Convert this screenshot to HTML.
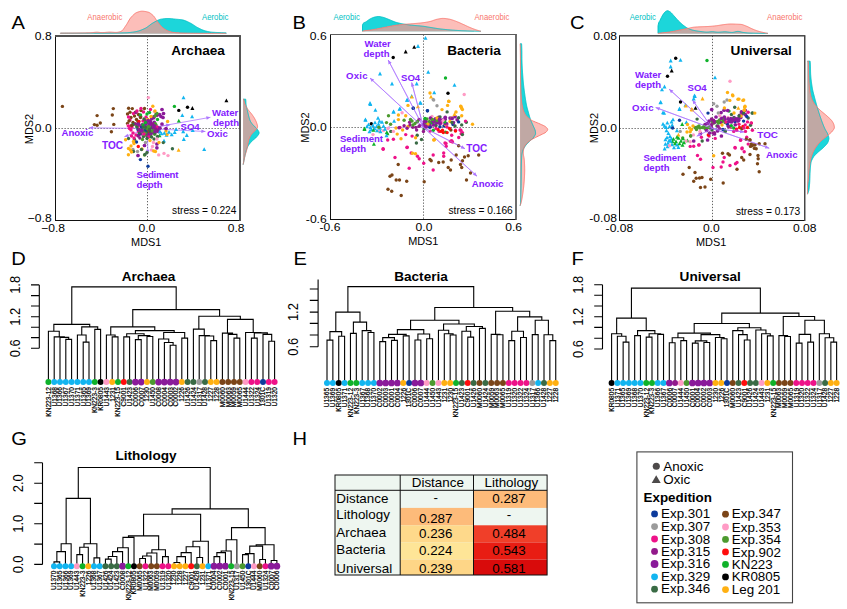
<!DOCTYPE html>
<html><head><meta charset="utf-8"><title>Figure</title>
<style>html,body{margin:0;padding:0;background:#fff;}svg{display:block;}</style>
</head><body>
<svg width="847" height="609" viewBox="0 0 847 609" font-family='"Liberation Sans", sans-serif'>
<rect width="847" height="609" fill="#fff"/>
<text transform="translate(11.5 29.3) scale(1.1 1)" font-size="18.3">A</text>
<line x1="147.5" y1="36" x2="147.5" y2="220.5" stroke="#222" stroke-width="0.7" stroke-dasharray="1.3 1.7"/>
<line x1="55.5" y1="128.5" x2="240" y2="128.5" stroke="#222" stroke-width="0.7" stroke-dasharray="1.3 1.7"/>
<path d="M60.4 33.4 L60.4 33.2 L61.07 33.2 L61.74 33.2 L62.41 33.2 L63.07 33.2 L63.74 33.2 L64.41 33.2 L65.08 33.2 L65.75 33.2 L66.42 33.2 L67.09 33.2 L67.75 33.2 L68.42 33.19 L69.09 33.19 L69.76 33.19 L70.43 33.19 L71.1 33.19 L71.77 33.19 L72.43 33.19 L73.1 33.19 L73.77 33.19 L74.44 33.18 L75.11 33.18 L75.78 33.18 L76.45 33.18 L77.11 33.18 L77.78 33.18 L78.45 33.18 L79.12 33.17 L79.79 33.17 L80.46 33.17 L81.12 33.17 L81.79 33.17 L82.46 33.16 L83.13 33.16 L83.8 33.16 L84.47 33.16 L85.14 33.16 L85.8 33.15 L86.47 33.15 L87.14 33.15 L87.81 33.15 L88.48 33.15 L89.15 33.14 L89.82 33.14 L90.48 33.14 L91.15 33.14 L91.82 33.13 L92.49 33.13 L93.16 33.13 L93.83 33.13 L94.5 33.12 L95.16 33.12 L95.83 33.12 L96.5 33.11 L97.17 33.11 L97.84 33.11 L98.51 33.11 L99.18 33.1 L99.84 33.1 L100.51 33.1 L101.18 33.09 L101.85 33.09 L102.52 33.09 L103.19 33.08 L103.86 33.08 L104.52 33.08 L105.19 33.07 L105.86 33.07 L106.53 33.06 L107.2 33.06 L107.87 33.05 L108.54 33.05 L109.2 33.04 L109.87 33.04 L110.54 33.03 L111.21 33.03 L111.88 33.02 L112.55 33.01 L113.22 33 L113.88 33 L114.55 32.99 L115.22 32.98 L115.89 32.97 L116.56 32.96 L117.23 32.95 L117.9 32.94 L118.56 32.93 L119.23 32.92 L119.9 32.91 L120.57 32.89 L121.24 32.88 L121.91 32.87 L122.57 32.85 L123.24 32.84 L123.91 32.83 L124.58 32.81 L125.25 32.79 L125.92 32.77 L126.59 32.74 L127.25 32.7 L127.92 32.65 L128.59 32.6 L129.26 32.54 L129.93 32.47 L130.6 32.4 L131.27 32.32 L131.93 32.24 L132.6 32.15 L133.27 32.06 L133.94 31.96 L134.61 31.86 L135.28 31.76 L135.95 31.63 L136.61 31.49 L137.28 31.32 L137.95 31.14 L138.62 30.94 L139.29 30.73 L139.96 30.5 L140.63 30.25 L141.29 30 L141.96 29.73 L142.63 29.45 L143.3 29.16 L143.97 28.87 L144.64 28.57 L145.31 28.25 L145.97 27.89 L146.64 27.47 L147.31 27.01 L147.98 26.52 L148.65 26.01 L149.32 25.5 L149.99 24.98 L150.65 24.47 L151.32 23.98 L151.99 23.52 L152.66 23.1 L153.33 22.72 L154 22.34 L154.67 21.95 L155.33 21.57 L156 21.19 L156.67 20.83 L157.34 20.49 L158.01 20.17 L158.68 19.88 L159.35 19.63 L160.01 19.42 L160.68 19.26 L161.35 19.14 L162.02 19.04 L162.69 18.94 L163.36 18.85 L164.02 18.76 L164.69 18.69 L165.36 18.62 L166.03 18.57 L166.7 18.53 L167.37 18.51 L168.04 18.5 L168.7 18.51 L169.37 18.54 L170.04 18.58 L170.71 18.63 L171.38 18.69 L172.05 18.76 L172.72 18.84 L173.38 18.91 L174.05 18.99 L174.72 19.07 L175.39 19.14 L176.06 19.21 L176.73 19.26 L177.4 19.32 L178.06 19.38 L178.73 19.43 L179.4 19.49 L180.07 19.56 L180.74 19.63 L181.41 19.71 L182.08 19.81 L182.74 19.94 L183.41 20.11 L184.08 20.31 L184.75 20.54 L185.42 20.79 L186.09 21.07 L186.76 21.36 L187.42 21.67 L188.09 21.98 L188.76 22.31 L189.43 22.63 L190.1 22.95 L190.77 23.29 L191.44 23.67 L192.1 24.08 L192.77 24.5 L193.44 24.95 L194.11 25.4 L194.78 25.85 L195.45 26.29 L196.12 26.72 L196.78 27.13 L197.45 27.51 L198.12 27.86 L198.79 28.2 L199.46 28.53 L200.13 28.86 L200.8 29.18 L201.46 29.48 L202.13 29.78 L202.8 30.05 L203.47 30.31 L204.14 30.54 L204.81 30.75 L205.47 30.93 L206.14 31.11 L206.81 31.28 L207.48 31.44 L208.15 31.59 L208.82 31.73 L209.49 31.86 L210.15 31.98 L210.82 32.07 L211.49 32.15 L212.16 32.21 L212.83 32.26 L213.5 32.31 L214.17 32.34 L214.83 32.38 L215.5 32.41 L216.17 32.44 L216.84 32.47 L217.51 32.49 L218.18 32.52 L218.85 32.55 L219.51 32.58 L220.18 32.61 L220.85 32.64 L221.52 32.67 L222.19 32.7 L222.86 32.73 L223.53 32.76 L224.19 32.79 L224.86 32.83 L225.53 32.87 L226.2 32.92 L226.2 33.4 Z" fill="#1cd6da"/>
<path d="M60.4 33.4 L60.4 33.1 L61.07 33.1 L61.74 33.1 L62.41 33.1 L63.07 33.1 L63.74 33.1 L64.41 33.09 L65.08 33.09 L65.75 33.09 L66.42 33.09 L67.09 33.09 L67.75 33.08 L68.42 33.08 L69.09 33.08 L69.76 33.07 L70.43 33.07 L71.1 33.06 L71.77 33.06 L72.43 33.05 L73.1 33.05 L73.77 33.04 L74.44 33.04 L75.11 33.03 L75.78 33.02 L76.45 33.02 L77.11 33.01 L77.78 33 L78.45 32.99 L79.12 32.98 L79.79 32.98 L80.46 32.97 L81.12 32.96 L81.79 32.95 L82.46 32.94 L83.13 32.93 L83.8 32.92 L84.47 32.91 L85.14 32.89 L85.8 32.88 L86.47 32.87 L87.14 32.86 L87.81 32.84 L88.48 32.83 L89.15 32.82 L89.82 32.8 L90.48 32.78 L91.15 32.74 L91.82 32.68 L92.49 32.6 L93.16 32.52 L93.83 32.44 L94.5 32.36 L95.16 32.29 L95.83 32.24 L96.5 32.21 L97.17 32.2 L97.84 32.23 L98.51 32.29 L99.18 32.36 L99.84 32.44 L100.51 32.51 L101.18 32.57 L101.85 32.6 L102.52 32.59 L103.19 32.57 L103.86 32.53 L104.52 32.48 L105.19 32.42 L105.86 32.36 L106.53 32.3 L107.2 32.24 L107.87 32.19 L108.54 32.14 L109.2 32.11 L109.87 32.1 L110.54 32.11 L111.21 32.13 L111.88 32.17 L112.55 32.22 L113.22 32.27 L113.88 32.31 L114.55 32.36 L115.22 32.39 L115.89 32.4 L116.56 32.38 L117.23 32.33 L117.9 32.23 L118.56 32.1 L119.23 31.94 L119.9 31.75 L120.57 31.54 L121.24 31.3 L121.91 30.86 L122.57 30.2 L123.24 29.39 L123.91 28.46 L124.58 27.48 L125.25 26.48 L125.92 25.51 L126.59 24.54 L127.25 23.44 L127.92 22.26 L128.59 21.07 L129.26 19.91 L129.93 18.83 L130.6 17.88 L131.27 17.11 L131.93 16.38 L132.6 15.68 L133.27 15.02 L133.94 14.4 L134.61 13.83 L135.28 13.33 L135.95 12.9 L136.61 12.56 L137.28 12.3 L137.95 12.06 L138.62 11.83 L139.29 11.63 L139.96 11.46 L140.63 11.32 L141.29 11.23 L141.96 11.2 L142.63 11.21 L143.3 11.25 L143.97 11.32 L144.64 11.41 L145.31 11.51 L145.97 11.64 L146.64 11.78 L147.31 11.93 L147.98 12.09 L148.65 12.31 L149.32 12.62 L149.99 13 L150.65 13.45 L151.32 13.96 L151.99 14.51 L152.66 15.1 L153.33 15.72 L154 16.5 L154.67 17.42 L155.33 18.43 L156 19.48 L156.67 20.53 L157.34 21.52 L158.01 22.41 L158.68 23.24 L159.35 24.06 L160.01 24.87 L160.68 25.64 L161.35 26.37 L162.02 27.05 L162.69 27.65 L163.36 28.17 L164.02 28.67 L164.69 29.13 L165.36 29.57 L166.03 29.97 L166.7 30.32 L167.37 30.64 L168.04 30.91 L168.7 31.16 L169.37 31.39 L170.04 31.62 L170.71 31.82 L171.38 32.01 L172.05 32.18 L172.72 32.32 L173.38 32.43 L174.05 32.51 L174.72 32.57 L175.39 32.63 L176.06 32.68 L176.73 32.73 L177.4 32.78 L178.06 32.82 L178.73 32.86 L179.4 32.9 L180.07 32.93 L180.74 32.96 L181.41 32.99 L182.08 33.02 L182.74 33.04 L183.41 33.06 L184.08 33.08 L184.75 33.09 L185.42 33.11 L186.09 33.12 L186.76 33.14 L187.42 33.15 L188.09 33.16 L188.76 33.17 L189.43 33.18 L190.1 33.2 L190.77 33.21 L191.44 33.22 L192.1 33.22 L192.77 33.23 L193.44 33.24 L194.11 33.25 L194.78 33.26 L195.45 33.26 L196.12 33.27 L196.78 33.28 L197.45 33.28 L198.12 33.29 L198.79 33.29 L199.46 33.3 L200.13 33.3 L200.8 33.3 L201.46 33.31 L202.13 33.31 L202.8 33.32 L203.47 33.32 L204.14 33.33 L204.81 33.33 L205.47 33.33 L206.14 33.34 L206.81 33.34 L207.48 33.34 L208.15 33.35 L208.82 33.35 L209.49 33.35 L210.15 33.36 L210.82 33.36 L211.49 33.36 L212.16 33.37 L212.83 33.37 L213.5 33.37 L214.17 33.38 L214.83 33.38 L215.5 33.38 L216.17 33.38 L216.84 33.38 L217.51 33.39 L218.18 33.39 L218.85 33.39 L219.51 33.39 L220.18 33.39 L220.85 33.39 L221.52 33.4 L222.19 33.4 L222.86 33.4 L223.53 33.4 L224.19 33.4 L224.86 33.4 L225.53 33.4 L226.2 33.4 L226.2 33.4 Z" fill="#fcbeb9"/>
<path d="M60.4 33.4 L60.4 33.2 L61.07 33.2 L61.74 33.2 L62.41 33.2 L63.07 33.2 L63.74 33.2 L64.41 33.2 L65.08 33.2 L65.75 33.2 L66.42 33.2 L67.09 33.2 L67.75 33.2 L68.42 33.19 L69.09 33.19 L69.76 33.19 L70.43 33.19 L71.1 33.19 L71.77 33.19 L72.43 33.19 L73.1 33.19 L73.77 33.19 L74.44 33.18 L75.11 33.18 L75.78 33.18 L76.45 33.18 L77.11 33.18 L77.78 33.18 L78.45 33.18 L79.12 33.17 L79.79 33.17 L80.46 33.17 L81.12 33.17 L81.79 33.17 L82.46 33.16 L83.13 33.16 L83.8 33.16 L84.47 33.16 L85.14 33.16 L85.8 33.15 L86.47 33.15 L87.14 33.15 L87.81 33.15 L88.48 33.15 L89.15 33.14 L89.82 33.14 L90.48 33.14 L91.15 33.14 L91.82 33.13 L92.49 33.13 L93.16 33.13 L93.83 33.13 L94.5 33.12 L95.16 33.12 L95.83 33.12 L96.5 33.11 L97.17 33.11 L97.84 33.11 L98.51 33.11 L99.18 33.1 L99.84 33.1 L100.51 33.1 L101.18 33.09 L101.85 33.09 L102.52 33.09 L103.19 33.08 L103.86 33.08 L104.52 33.08 L105.19 33.07 L105.86 33.07 L106.53 33.06 L107.2 33.06 L107.87 33.05 L108.54 33.05 L109.2 33.04 L109.87 33.04 L110.54 33.03 L111.21 33.03 L111.88 33.02 L112.55 33.01 L113.22 33 L113.88 33 L114.55 32.99 L115.22 32.98 L115.89 32.97 L116.56 32.96 L117.23 32.95 L117.9 32.94 L118.56 32.93 L119.23 32.92 L119.9 32.91 L120.57 32.89 L121.24 32.88 L121.91 32.87 L122.57 32.85 L123.24 32.84 L123.91 32.83 L124.58 32.81 L125.25 32.79 L125.92 32.77 L126.59 32.74 L127.25 32.7 L127.92 32.65 L128.59 32.6 L129.26 32.54 L129.93 32.47 L130.6 32.4 L131.27 32.32 L131.93 32.24 L132.6 32.15 L133.27 32.06 L133.94 31.96 L134.61 31.86 L135.28 31.76 L135.95 31.63 L136.61 31.49 L137.28 31.32 L137.95 31.14 L138.62 30.94 L139.29 30.73 L139.96 30.5 L140.63 30.25 L141.29 30 L141.96 29.73 L142.63 29.45 L143.3 29.16 L143.97 28.87 L144.64 28.57 L145.31 28.25 L145.97 27.89 L146.64 27.47 L147.31 27.01 L147.98 26.52 L148.65 26.01 L149.32 25.5 L149.99 24.98 L150.65 24.47 L151.32 23.98 L151.99 23.52 L152.66 23.1 L153.33 22.72 L154 22.34 L154.67 21.95 L155.33 21.57 L156 21.19 L156.67 20.83 L157.34 21.52 L158.01 22.41 L158.68 23.24 L159.35 24.06 L160.01 24.87 L160.68 25.64 L161.35 26.37 L162.02 27.05 L162.69 27.65 L163.36 28.17 L164.02 28.67 L164.69 29.13 L165.36 29.57 L166.03 29.97 L166.7 30.32 L167.37 30.64 L168.04 30.91 L168.7 31.16 L169.37 31.39 L170.04 31.62 L170.71 31.82 L171.38 32.01 L172.05 32.18 L172.72 32.32 L173.38 32.43 L174.05 32.51 L174.72 32.57 L175.39 32.63 L176.06 32.68 L176.73 32.73 L177.4 32.78 L178.06 32.82 L178.73 32.86 L179.4 32.9 L180.07 32.93 L180.74 32.96 L181.41 32.99 L182.08 33.02 L182.74 33.04 L183.41 33.06 L184.08 33.08 L184.75 33.09 L185.42 33.11 L186.09 33.12 L186.76 33.14 L187.42 33.15 L188.09 33.16 L188.76 33.17 L189.43 33.18 L190.1 33.2 L190.77 33.21 L191.44 33.22 L192.1 33.22 L192.77 33.23 L193.44 33.24 L194.11 33.25 L194.78 33.26 L195.45 33.26 L196.12 33.27 L196.78 33.28 L197.45 33.28 L198.12 33.29 L198.79 33.29 L199.46 33.3 L200.13 33.3 L200.8 33.3 L201.46 33.31 L202.13 33.31 L202.8 33.32 L203.47 33.32 L204.14 33.33 L204.81 33.33 L205.47 33.33 L206.14 33.34 L206.81 33.34 L207.48 33.34 L208.15 33.35 L208.82 33.35 L209.49 33.35 L210.15 33.36 L210.82 33.36 L211.49 33.36 L212.16 33.37 L212.83 33.37 L213.5 33.37 L214.17 33.38 L214.83 33.38 L215.5 33.38 L216.17 33.38 L216.84 33.38 L217.51 33.39 L218.18 33.39 L218.85 33.39 L219.51 33.39 L220.18 33.39 L220.85 33.39 L221.52 33.4 L222.19 33.4 L222.86 33.4 L223.53 33.4 L224.19 33.4 L224.86 33.4 L225.53 33.4 L226.2 33.4 L226.2 33.4 Z" fill="#c0a8a4"/>
<path d="M60.4 33.4 L60.4 33.2 L61.07 33.2 L61.74 33.2 L62.41 33.2 L63.07 33.2 L63.74 33.2 L64.41 33.2 L65.08 33.2 L65.75 33.2 L66.42 33.2 L67.09 33.2 L67.75 33.2 L68.42 33.19 L69.09 33.19 L69.76 33.19 L70.43 33.19 L71.1 33.19 L71.77 33.19 L72.43 33.19 L73.1 33.19 L73.77 33.19 L74.44 33.18 L75.11 33.18 L75.78 33.18 L76.45 33.18 L77.11 33.18 L77.78 33.18 L78.45 33.18 L79.12 33.17 L79.79 33.17 L80.46 33.17 L81.12 33.17 L81.79 33.17 L82.46 33.16 L83.13 33.16 L83.8 33.16 L84.47 33.16 L85.14 33.16 L85.8 33.15 L86.47 33.15 L87.14 33.15 L87.81 33.15 L88.48 33.15 L89.15 33.14 L89.82 33.14 L90.48 33.14 L91.15 33.14 L91.82 33.13 L92.49 33.13 L93.16 33.13 L93.83 33.13 L94.5 33.12 L95.16 33.12 L95.83 33.12 L96.5 33.11 L97.17 33.11 L97.84 33.11 L98.51 33.11 L99.18 33.1 L99.84 33.1 L100.51 33.1 L101.18 33.09 L101.85 33.09 L102.52 33.09 L103.19 33.08 L103.86 33.08 L104.52 33.08 L105.19 33.07 L105.86 33.07 L106.53 33.06 L107.2 33.06 L107.87 33.05 L108.54 33.05 L109.2 33.04 L109.87 33.04 L110.54 33.03 L111.21 33.03 L111.88 33.02 L112.55 33.01 L113.22 33 L113.88 33 L114.55 32.99 L115.22 32.98 L115.89 32.97 L116.56 32.96 L117.23 32.95 L117.9 32.94 L118.56 32.93 L119.23 32.92 L119.9 32.91 L120.57 32.89 L121.24 32.88 L121.91 32.87 L122.57 32.85 L123.24 32.84 L123.91 32.83 L124.58 32.81 L125.25 32.79 L125.92 32.77 L126.59 32.74 L127.25 32.7 L127.92 32.65 L128.59 32.6 L129.26 32.54 L129.93 32.47 L130.6 32.4 L131.27 32.32 L131.93 32.24 L132.6 32.15 L133.27 32.06 L133.94 31.96 L134.61 31.86 L135.28 31.76 L135.95 31.63 L136.61 31.49 L137.28 31.32 L137.95 31.14 L138.62 30.94 L139.29 30.73 L139.96 30.5 L140.63 30.25 L141.29 30 L141.96 29.73 L142.63 29.45 L143.3 29.16 L143.97 28.87 L144.64 28.57 L145.31 28.25 L145.97 27.89 L146.64 27.47 L147.31 27.01 L147.98 26.52 L148.65 26.01 L149.32 25.5 L149.99 24.98 L150.65 24.47 L151.32 23.98 L151.99 23.52 L152.66 23.1 L153.33 22.72 L154 22.34 L154.67 21.95 L155.33 21.57 L156 21.19 L156.67 20.83 L157.34 20.49 L158.01 20.17 L158.68 19.88 L159.35 19.63 L160.01 19.42 L160.68 19.26 L161.35 19.14 L162.02 19.04 L162.69 18.94 L163.36 18.85 L164.02 18.76 L164.69 18.69 L165.36 18.62 L166.03 18.57 L166.7 18.53 L167.37 18.51 L168.04 18.5 L168.7 18.51 L169.37 18.54 L170.04 18.58 L170.71 18.63 L171.38 18.69 L172.05 18.76 L172.72 18.84 L173.38 18.91 L174.05 18.99 L174.72 19.07 L175.39 19.14 L176.06 19.21 L176.73 19.26 L177.4 19.32 L178.06 19.38 L178.73 19.43 L179.4 19.49 L180.07 19.56 L180.74 19.63 L181.41 19.71 L182.08 19.81 L182.74 19.94 L183.41 20.11 L184.08 20.31 L184.75 20.54 L185.42 20.79 L186.09 21.07 L186.76 21.36 L187.42 21.67 L188.09 21.98 L188.76 22.31 L189.43 22.63 L190.1 22.95 L190.77 23.29 L191.44 23.67 L192.1 24.08 L192.77 24.5 L193.44 24.95 L194.11 25.4 L194.78 25.85 L195.45 26.29 L196.12 26.72 L196.78 27.13 L197.45 27.51 L198.12 27.86 L198.79 28.2 L199.46 28.53 L200.13 28.86 L200.8 29.18 L201.46 29.48 L202.13 29.78 L202.8 30.05 L203.47 30.31 L204.14 30.54 L204.81 30.75 L205.47 30.93 L206.14 31.11 L206.81 31.28 L207.48 31.44 L208.15 31.59 L208.82 31.73 L209.49 31.86 L210.15 31.98 L210.82 32.07 L211.49 32.15 L212.16 32.21 L212.83 32.26 L213.5 32.31 L214.17 32.34 L214.83 32.38 L215.5 32.41 L216.17 32.44 L216.84 32.47 L217.51 32.49 L218.18 32.52 L218.85 32.55 L219.51 32.58 L220.18 32.61 L220.85 32.64 L221.52 32.67 L222.19 32.7 L222.86 32.73 L223.53 32.76 L224.19 32.79 L224.86 32.83 L225.53 32.87 L226.2 32.92 L226.2 33.4" fill="none" stroke="#00bfc4" stroke-width="0.9" stroke-linejoin="round"/>
<path d="M60.4 33.4 L60.4 33.1 L61.07 33.1 L61.74 33.1 L62.41 33.1 L63.07 33.1 L63.74 33.1 L64.41 33.09 L65.08 33.09 L65.75 33.09 L66.42 33.09 L67.09 33.09 L67.75 33.08 L68.42 33.08 L69.09 33.08 L69.76 33.07 L70.43 33.07 L71.1 33.06 L71.77 33.06 L72.43 33.05 L73.1 33.05 L73.77 33.04 L74.44 33.04 L75.11 33.03 L75.78 33.02 L76.45 33.02 L77.11 33.01 L77.78 33 L78.45 32.99 L79.12 32.98 L79.79 32.98 L80.46 32.97 L81.12 32.96 L81.79 32.95 L82.46 32.94 L83.13 32.93 L83.8 32.92 L84.47 32.91 L85.14 32.89 L85.8 32.88 L86.47 32.87 L87.14 32.86 L87.81 32.84 L88.48 32.83 L89.15 32.82 L89.82 32.8 L90.48 32.78 L91.15 32.74 L91.82 32.68 L92.49 32.6 L93.16 32.52 L93.83 32.44 L94.5 32.36 L95.16 32.29 L95.83 32.24 L96.5 32.21 L97.17 32.2 L97.84 32.23 L98.51 32.29 L99.18 32.36 L99.84 32.44 L100.51 32.51 L101.18 32.57 L101.85 32.6 L102.52 32.59 L103.19 32.57 L103.86 32.53 L104.52 32.48 L105.19 32.42 L105.86 32.36 L106.53 32.3 L107.2 32.24 L107.87 32.19 L108.54 32.14 L109.2 32.11 L109.87 32.1 L110.54 32.11 L111.21 32.13 L111.88 32.17 L112.55 32.22 L113.22 32.27 L113.88 32.31 L114.55 32.36 L115.22 32.39 L115.89 32.4 L116.56 32.38 L117.23 32.33 L117.9 32.23 L118.56 32.1 L119.23 31.94 L119.9 31.75 L120.57 31.54 L121.24 31.3 L121.91 30.86 L122.57 30.2 L123.24 29.39 L123.91 28.46 L124.58 27.48 L125.25 26.48 L125.92 25.51 L126.59 24.54 L127.25 23.44 L127.92 22.26 L128.59 21.07 L129.26 19.91 L129.93 18.83 L130.6 17.88 L131.27 17.11 L131.93 16.38 L132.6 15.68 L133.27 15.02 L133.94 14.4 L134.61 13.83 L135.28 13.33 L135.95 12.9 L136.61 12.56 L137.28 12.3 L137.95 12.06 L138.62 11.83 L139.29 11.63 L139.96 11.46 L140.63 11.32 L141.29 11.23 L141.96 11.2 L142.63 11.21 L143.3 11.25 L143.97 11.32 L144.64 11.41 L145.31 11.51 L145.97 11.64 L146.64 11.78 L147.31 11.93 L147.98 12.09 L148.65 12.31 L149.32 12.62 L149.99 13 L150.65 13.45 L151.32 13.96 L151.99 14.51 L152.66 15.1 L153.33 15.72 L154 16.5 L154.67 17.42 L155.33 18.43 L156 19.48 L156.67 20.53 L157.34 21.52 L158.01 22.41 L158.68 23.24 L159.35 24.06 L160.01 24.87 L160.68 25.64 L161.35 26.37 L162.02 27.05 L162.69 27.65 L163.36 28.17 L164.02 28.67 L164.69 29.13 L165.36 29.57 L166.03 29.97 L166.7 30.32 L167.37 30.64 L168.04 30.91 L168.7 31.16 L169.37 31.39 L170.04 31.62 L170.71 31.82 L171.38 32.01 L172.05 32.18 L172.72 32.32 L173.38 32.43 L174.05 32.51 L174.72 32.57 L175.39 32.63 L176.06 32.68 L176.73 32.73 L177.4 32.78 L178.06 32.82 L178.73 32.86 L179.4 32.9 L180.07 32.93 L180.74 32.96 L181.41 32.99 L182.08 33.02 L182.74 33.04 L183.41 33.06 L184.08 33.08 L184.75 33.09 L185.42 33.11 L186.09 33.12 L186.76 33.14 L187.42 33.15 L188.09 33.16 L188.76 33.17 L189.43 33.18 L190.1 33.2 L190.77 33.21 L191.44 33.22 L192.1 33.22 L192.77 33.23 L193.44 33.24 L194.11 33.25 L194.78 33.26 L195.45 33.26 L196.12 33.27 L196.78 33.28 L197.45 33.28 L198.12 33.29 L198.79 33.29 L199.46 33.3 L200.13 33.3 L200.8 33.3 L201.46 33.31 L202.13 33.31 L202.8 33.32 L203.47 33.32 L204.14 33.33 L204.81 33.33 L205.47 33.33 L206.14 33.34 L206.81 33.34 L207.48 33.34 L208.15 33.35 L208.82 33.35 L209.49 33.35 L210.15 33.36 L210.82 33.36 L211.49 33.36 L212.16 33.37 L212.83 33.37 L213.5 33.37 L214.17 33.38 L214.83 33.38 L215.5 33.38 L216.17 33.38 L216.84 33.38 L217.51 33.39 L218.18 33.39 L218.85 33.39 L219.51 33.39 L220.18 33.39 L220.85 33.39 L221.52 33.4 L222.19 33.4 L222.86 33.4 L223.53 33.4 L224.19 33.4 L224.86 33.4 L225.53 33.4 L226.2 33.4 L226.2 33.4" fill="none" stroke="#f8766d" stroke-width="0.9" stroke-linejoin="round"/>
<text x="87.3" y="19.8" font-size="8.7" text-anchor="start" font-weight="normal" fill="#f8766d" textLength="35" lengthAdjust="spacingAndGlyphs">Anaerobic</text>
<text x="202" y="19.8" font-size="8.7" text-anchor="start" font-weight="normal" fill="#00bfc4" textLength="26.4" lengthAdjust="spacingAndGlyphs">Aerobic</text>
<path d="M243.1 99.2 L245.7 99.2 L245.79 99.87 L245.84 100.53 L245.88 101.2 L245.9 101.87 L245.92 102.54 L245.94 103.2 L245.99 103.87 L246.06 104.54 L246.17 105.21 L246.29 105.87 L246.44 106.54 L246.6 107.21 L246.77 107.88 L246.95 108.54 L247.11 109.21 L247.27 109.88 L247.42 110.54 L247.57 111.21 L247.72 111.88 L247.86 112.55 L248.01 113.21 L248.17 113.88 L248.33 114.55 L248.49 115.22 L248.67 115.88 L248.85 116.55 L249.03 117.22 L249.21 117.89 L249.41 118.55 L249.62 119.22 L249.85 119.89 L250.11 120.56 L250.4 121.22 L250.77 121.89 L251.2 122.56 L251.68 123.22 L252.2 123.89 L252.74 124.56 L253.29 125.23 L253.95 125.89 L254.68 126.56 L255.43 127.23 L256.14 127.9 L256.77 128.56 L257.26 129.23 L257.73 129.9 L258.19 130.57 L258.59 131.23 L258.9 131.9 L259.08 132.57 L259.07 133.23 L258.87 133.9 L258.51 134.57 L258.04 135.24 L257.51 135.9 L256.95 136.57 L256.4 137.24 L255.73 137.91 L254.95 138.57 L254.12 139.24 L253.29 139.91 L252.53 140.58 L251.87 141.24 L251.25 141.91 L250.64 142.58 L250.06 143.24 L249.51 143.91 L249 144.58 L248.54 145.25 L248.15 145.91 L247.8 146.58 L247.48 147.25 L247.19 147.92 L246.92 148.58 L246.67 149.25 L246.44 149.92 L246.23 150.59 L246.03 151.25 L245.84 151.92 L245.67 152.59 L245.51 153.26 L245.36 153.92 L245.21 154.59 L245.07 155.26 L244.93 155.92 L244.79 156.59 L244.64 157.26 L244.51 157.93 L244.37 158.59 L244.24 159.26 L244.11 159.93 L243.98 160.6 L243.85 161.26 L243.71 161.93 L243.58 162.6 L243.45 163.27 L243.31 163.93 L243.18 164.6 L243.1 164.6 Z" fill="#1cd6da"/>
<path d="M243.1 99.2 L243.5 99.2 L243.75 99.87 L243.96 100.53 L244.13 101.2 L244.29 101.87 L244.45 102.54 L244.63 103.2 L244.85 103.87 L245.12 104.54 L245.42 105.21 L245.75 105.87 L246.11 106.54 L246.49 107.21 L246.89 107.88 L247.31 108.54 L247.74 109.21 L248.22 109.88 L248.75 110.54 L249.3 111.21 L249.88 111.88 L250.45 112.55 L251 113.21 L251.51 113.88 L252 114.55 L252.48 115.22 L252.95 115.88 L253.4 116.55 L253.84 117.22 L254.26 117.89 L254.65 118.55 L255.02 119.22 L255.36 119.89 L255.7 120.56 L256.01 121.22 L256.3 121.89 L256.55 122.56 L256.77 123.22 L256.99 123.89 L257.2 124.56 L257.38 125.23 L257.52 125.89 L257.59 126.56 L257.54 127.23 L257.25 127.9 L256.78 128.56 L256.23 129.23 L255.68 129.9 L255.11 130.57 L254.42 131.23 L253.67 131.9 L252.92 132.57 L252.23 133.23 L251.67 133.9 L251.23 134.57 L250.82 135.24 L250.44 135.9 L250.09 136.57 L249.78 137.24 L249.5 137.91 L249.24 138.57 L249.02 139.24 L248.83 139.91 L248.65 140.58 L248.49 141.24 L248.34 141.91 L248.2 142.58 L248.06 143.24 L247.93 143.91 L247.79 144.58 L247.65 145.25 L247.51 145.91 L247.39 146.58 L247.26 147.25 L247.14 147.92 L247.01 148.58 L246.87 149.25 L246.72 149.92 L246.55 150.59 L246.36 151.25 L246.15 151.92 L245.94 152.59 L245.72 153.26 L245.5 153.92 L245.29 154.59 L245.09 155.26 L244.92 155.92 L244.76 156.59 L244.62 157.26 L244.49 157.93 L244.37 158.59 L244.24 159.26 L244.11 159.93 L243.98 160.6 L243.84 161.26 L243.7 161.93 L243.55 162.6 L243.4 163.27 L243.25 163.93 L243.1 164.6 L243.1 164.6 Z" fill="#fcbeb9"/>
<path d="M243.1 99.2 L243.5 99.2 L243.75 99.87 L243.96 100.53 L244.13 101.2 L244.29 101.87 L244.45 102.54 L244.63 103.2 L244.85 103.87 L245.12 104.54 L245.42 105.21 L245.75 105.87 L246.11 106.54 L246.49 107.21 L246.77 107.88 L246.95 108.54 L247.11 109.21 L247.27 109.88 L247.42 110.54 L247.57 111.21 L247.72 111.88 L247.86 112.55 L248.01 113.21 L248.17 113.88 L248.33 114.55 L248.49 115.22 L248.67 115.88 L248.85 116.55 L249.03 117.22 L249.21 117.89 L249.41 118.55 L249.62 119.22 L249.85 119.89 L250.11 120.56 L250.4 121.22 L250.77 121.89 L251.2 122.56 L251.68 123.22 L252.2 123.89 L252.74 124.56 L253.29 125.23 L253.95 125.89 L254.68 126.56 L255.43 127.23 L256.14 127.9 L256.77 128.56 L256.23 129.23 L255.68 129.9 L255.11 130.57 L254.42 131.23 L253.67 131.9 L252.92 132.57 L252.23 133.23 L251.67 133.9 L251.23 134.57 L250.82 135.24 L250.44 135.9 L250.09 136.57 L249.78 137.24 L249.5 137.91 L249.24 138.57 L249.02 139.24 L248.83 139.91 L248.65 140.58 L248.49 141.24 L248.34 141.91 L248.2 142.58 L248.06 143.24 L247.93 143.91 L247.79 144.58 L247.65 145.25 L247.51 145.91 L247.39 146.58 L247.26 147.25 L247.14 147.92 L246.92 148.58 L246.67 149.25 L246.44 149.92 L246.23 150.59 L246.03 151.25 L245.84 151.92 L245.67 152.59 L245.51 153.26 L245.36 153.92 L245.21 154.59 L245.07 155.26 L244.92 155.92 L244.76 156.59 L244.62 157.26 L244.49 157.93 L244.37 158.59 L244.24 159.26 L244.11 159.93 L243.98 160.6 L243.84 161.26 L243.7 161.93 L243.55 162.6 L243.4 163.27 L243.25 163.93 L243.1 164.6 L243.1 164.6 Z" fill="#c0a8a4"/>
<path d="M243.1 99.2 L245.7 99.2 L245.79 99.87 L245.84 100.53 L245.88 101.2 L245.9 101.87 L245.92 102.54 L245.94 103.2 L245.99 103.87 L246.06 104.54 L246.17 105.21 L246.29 105.87 L246.44 106.54 L246.6 107.21 L246.77 107.88 L246.95 108.54 L247.11 109.21 L247.27 109.88 L247.42 110.54 L247.57 111.21 L247.72 111.88 L247.86 112.55 L248.01 113.21 L248.17 113.88 L248.33 114.55 L248.49 115.22 L248.67 115.88 L248.85 116.55 L249.03 117.22 L249.21 117.89 L249.41 118.55 L249.62 119.22 L249.85 119.89 L250.11 120.56 L250.4 121.22 L250.77 121.89 L251.2 122.56 L251.68 123.22 L252.2 123.89 L252.74 124.56 L253.29 125.23 L253.95 125.89 L254.68 126.56 L255.43 127.23 L256.14 127.9 L256.77 128.56 L257.26 129.23 L257.73 129.9 L258.19 130.57 L258.59 131.23 L258.9 131.9 L259.08 132.57 L259.07 133.23 L258.87 133.9 L258.51 134.57 L258.04 135.24 L257.51 135.9 L256.95 136.57 L256.4 137.24 L255.73 137.91 L254.95 138.57 L254.12 139.24 L253.29 139.91 L252.53 140.58 L251.87 141.24 L251.25 141.91 L250.64 142.58 L250.06 143.24 L249.51 143.91 L249 144.58 L248.54 145.25 L248.15 145.91 L247.8 146.58 L247.48 147.25 L247.19 147.92 L246.92 148.58 L246.67 149.25 L246.44 149.92 L246.23 150.59 L246.03 151.25 L245.84 151.92 L245.67 152.59 L245.51 153.26 L245.36 153.92 L245.21 154.59 L245.07 155.26 L244.93 155.92 L244.79 156.59 L244.64 157.26 L244.51 157.93 L244.37 158.59 L244.24 159.26 L244.11 159.93 L243.98 160.6 L243.85 161.26 L243.71 161.93 L243.58 162.6 L243.45 163.27 L243.31 163.93 L243.18 164.6 L243.1 164.6" fill="none" stroke="#00bfc4" stroke-width="0.9" stroke-linejoin="round"/>
<path d="M243.1 99.2 L243.5 99.2 L243.75 99.87 L243.96 100.53 L244.13 101.2 L244.29 101.87 L244.45 102.54 L244.63 103.2 L244.85 103.87 L245.12 104.54 L245.42 105.21 L245.75 105.87 L246.11 106.54 L246.49 107.21 L246.89 107.88 L247.31 108.54 L247.74 109.21 L248.22 109.88 L248.75 110.54 L249.3 111.21 L249.88 111.88 L250.45 112.55 L251 113.21 L251.51 113.88 L252 114.55 L252.48 115.22 L252.95 115.88 L253.4 116.55 L253.84 117.22 L254.26 117.89 L254.65 118.55 L255.02 119.22 L255.36 119.89 L255.7 120.56 L256.01 121.22 L256.3 121.89 L256.55 122.56 L256.77 123.22 L256.99 123.89 L257.2 124.56 L257.38 125.23 L257.52 125.89 L257.59 126.56 L257.54 127.23 L257.25 127.9 L256.78 128.56 L256.23 129.23 L255.68 129.9 L255.11 130.57 L254.42 131.23 L253.67 131.9 L252.92 132.57 L252.23 133.23 L251.67 133.9 L251.23 134.57 L250.82 135.24 L250.44 135.9 L250.09 136.57 L249.78 137.24 L249.5 137.91 L249.24 138.57 L249.02 139.24 L248.83 139.91 L248.65 140.58 L248.49 141.24 L248.34 141.91 L248.2 142.58 L248.06 143.24 L247.93 143.91 L247.79 144.58 L247.65 145.25 L247.51 145.91 L247.39 146.58 L247.26 147.25 L247.14 147.92 L247.01 148.58 L246.87 149.25 L246.72 149.92 L246.55 150.59 L246.36 151.25 L246.15 151.92 L245.94 152.59 L245.72 153.26 L245.5 153.92 L245.29 154.59 L245.09 155.26 L244.92 155.92 L244.76 156.59 L244.62 157.26 L244.49 157.93 L244.37 158.59 L244.24 159.26 L244.11 159.93 L243.98 160.6 L243.84 161.26 L243.7 161.93 L243.55 162.6 L243.4 163.27 L243.25 163.93 L243.1 164.6 L243.1 164.6" fill="none" stroke="#f8766d" stroke-width="0.9" stroke-linejoin="round"/>
<line x1="147.5" y1="128.5" x2="89" y2="127.8" stroke="#ad76ff" stroke-width="0.8"/>
<path d="M89 127.8 L93.04 126.05 L93 129.64 Z" fill="#ad76ff"/>
<line x1="147.5" y1="128.5" x2="124.4" y2="136.7" stroke="#ad76ff" stroke-width="0.8"/>
<path d="M124.4 136.7 L127.59 133.67 L128.79 137.05 Z" fill="#ad76ff"/>
<line x1="147.5" y1="128.5" x2="147.8" y2="153.7" stroke="#ad76ff" stroke-width="0.8"/>
<path d="M147.8 153.7 L145.96 149.7 L149.55 149.66 Z" fill="#ad76ff"/>
<line x1="147.5" y1="128.5" x2="210.4" y2="117.3" stroke="#ad76ff" stroke-width="0.8"/>
<path d="M210.4 117.3 L206.76 119.77 L206.13 116.24 Z" fill="#ad76ff"/>
<line x1="147.5" y1="128.5" x2="205.4" y2="131.5" stroke="#ad76ff" stroke-width="0.8"/>
<path d="M205.4 131.5 L201.29 133.08 L201.48 129.5 Z" fill="#ad76ff"/>
<line x1="147.5" y1="128.5" x2="170.2" y2="124.7" stroke="#ad76ff" stroke-width="0.8"/>
<path d="M170.2 124.7 L166.53 127.13 L165.94 123.59 Z" fill="#ad76ff"/>
<circle cx="148.4" cy="97.6" r="1.7" fill="#ff9bc5"/>
<circle cx="163.5" cy="113.5" r="1.85" fill="#8a1a9a"/>
<circle cx="130" cy="112.3" r="1.7" fill="#7b4518"/>
<circle cx="152.5" cy="146.5" r="1.7" fill="#ff9bc5"/>
<circle cx="145.51" cy="120.16" r="1.7" fill="#92198b"/>
<circle cx="145.5" cy="142.5" r="1.7" fill="#9b9b9b"/>
<path d="M157.5 128.4 L155.5 132.18 L159.5 132.18 Z" fill="#12b5f0"/>
<circle cx="131" cy="146" r="1.7" fill="#ffb012"/>
<circle cx="157.5" cy="119.5" r="1.7" fill="#0fb22a"/>
<circle cx="156.9" cy="147.8" r="1.85" fill="#8a1a9a"/>
<circle cx="133" cy="122.5" r="1.7" fill="#7b4518"/>
<circle cx="113.3" cy="108.6" r="1.7" fill="#7b4518"/>
<circle cx="151.5" cy="150" r="1.7" fill="#ff9bc5"/>
<circle cx="143.5" cy="136.5" r="1.7" fill="#3a6b45"/>
<circle cx="153" cy="124" r="1.7" fill="#ee1289"/>
<circle cx="158.06" cy="130.62" r="1.7" fill="#3a6b45"/>
<circle cx="132.3" cy="108.6" r="1.7" fill="#7b4518"/>
<circle cx="143" cy="121" r="1.7" fill="#ee1289"/>
<circle cx="172.4" cy="148.8" r="1.7" fill="#3a6b45"/>
<circle cx="154.8" cy="131.28" r="1.7" fill="#92198b"/>
<circle cx="139.85" cy="137.98" r="1.7" fill="#92198b"/>
<circle cx="154.45" cy="132.7" r="1.85" fill="#8a1a9a"/>
<circle cx="152.14" cy="127.07" r="1.7" fill="#92198b"/>
<circle cx="153.5" cy="117" r="1.7" fill="#3a6b45"/>
<circle cx="144.5" cy="155" r="1.7" fill="#4c9a2f"/>
<circle cx="128.5" cy="138.5" r="1.7" fill="#3a6b45"/>
<circle cx="145.99" cy="127.37" r="1.85" fill="#8a1a9a"/>
<circle cx="136.5" cy="142" r="1.7" fill="#0d3b9c"/>
<path d="M183.2 129.4 L181.2 133.18 L185.2 133.18 Z" fill="#12b5f0"/>
<circle cx="131" cy="117.5" r="1.7" fill="#7b4518"/>
<circle cx="146.9" cy="135.62" r="1.85" fill="#8a1a9a"/>
<circle cx="148" cy="166.2" r="1.7" fill="#0d3b9c"/>
<circle cx="138" cy="155.5" r="1.85" fill="#8a1a9a"/>
<circle cx="137.5" cy="151.5" r="1.7" fill="#9b9b9b"/>
<path d="M159.5 133.4 L157.5 137.18 L161.5 137.18 Z" fill="#0fb22a"/>
<circle cx="128.6" cy="108.2" r="1.7" fill="#7b4518"/>
<circle cx="138.5" cy="131.5" r="1.7" fill="#ee1289"/>
<path d="M204.2 147.2 L202.2 150.98 L206.2 150.98 Z" fill="#12b5f0"/>
<circle cx="148.07" cy="129.71" r="1.7" fill="#3a6b45"/>
<circle cx="147.29" cy="134.32" r="1.7" fill="#92198b"/>
<path d="M164 138.7 L162 142.48 L166 142.48 Z" fill="#12b5f0"/>
<circle cx="142.5" cy="139.5" r="1.7" fill="#4c9a2f"/>
<circle cx="138" cy="129.5" r="1.7" fill="#0d3b9c"/>
<circle cx="100.3" cy="123" r="1.7" fill="#7b4518"/>
<circle cx="156.9" cy="144" r="1.85" fill="#8a1a9a"/>
<circle cx="162" cy="109.5" r="1.85" fill="#8a1a9a"/>
<circle cx="145.23" cy="124.81" r="1.85" fill="#8a1a9a"/>
<circle cx="157.01" cy="115.4" r="1.7" fill="#92198b"/>
<circle cx="158.03" cy="131.59" r="1.7" fill="#92198b"/>
<circle cx="145.69" cy="127.93" r="1.7" fill="#4c9a2f"/>
<circle cx="147" cy="152.5" r="1.7" fill="#3a6b45"/>
<circle cx="156" cy="114" r="1.7" fill="#3a6b45"/>
<circle cx="145" cy="154.5" r="1.7" fill="#3a6b45"/>
<circle cx="150.64" cy="132.03" r="1.7" fill="#92198b"/>
<circle cx="153.64" cy="117.66" r="1.85" fill="#8a1a9a"/>
<circle cx="146" cy="117" r="1.7" fill="#ee1289"/>
<path d="M176.1 127.2 L174.1 130.98 L178.1 130.98 Z" fill="#12b5f0"/>
<circle cx="146" cy="134.5" r="1.7" fill="#4c9a2f"/>
<circle cx="159.02" cy="131.84" r="1.7" fill="#92198b"/>
<circle cx="158.7" cy="154.9" r="1.7" fill="#ff9bc5"/>
<circle cx="136" cy="135" r="1.7" fill="#ee1289"/>
<circle cx="151.74" cy="118.72" r="1.85" fill="#8a1a9a"/>
<circle cx="130" cy="120" r="1.7" fill="#ee1289"/>
<circle cx="154.23" cy="122.4" r="1.85" fill="#8a1a9a"/>
<circle cx="138" cy="121.5" r="1.7" fill="#7b4518"/>
<circle cx="149.5" cy="132.5" r="1.7" fill="#4c9a2f"/>
<circle cx="152.91" cy="128.21" r="1.85" fill="#8a1a9a"/>
<circle cx="149.41" cy="128.86" r="1.85" fill="#8a1a9a"/>
<circle cx="111.4" cy="131.8" r="1.7" fill="#7b4518"/>
<circle cx="128.4" cy="154.7" r="1.7" fill="#ffb012"/>
<circle cx="178.8" cy="110.4" r="1.7" fill="#000000"/>
<circle cx="154.14" cy="128.79" r="1.85" fill="#8a1a9a"/>
<circle cx="135.5" cy="112.3" r="1.7" fill="#7b4518"/>
<circle cx="150.86" cy="123.44" r="1.7" fill="#92198b"/>
<circle cx="138.88" cy="129.48" r="1.7" fill="#92198b"/>
<circle cx="135" cy="124" r="1.7" fill="#7b4518"/>
<path d="M161.5 131.4 L159.5 135.18 L163.5 135.18 Z" fill="#12b5f0"/>
<circle cx="144.6" cy="134.73" r="1.7" fill="#4c9a2f"/>
<circle cx="150.5" cy="135.5" r="1.7" fill="#4c9a2f"/>
<circle cx="127.5" cy="114" r="1.7" fill="#7b4518"/>
<path d="M171.7 132.4 L169.7 136.18 L173.7 136.18 Z" fill="#12b5f0"/>
<circle cx="145.92" cy="133.62" r="1.7" fill="#3a6b45"/>
<circle cx="155.3" cy="123.66" r="1.7" fill="#4c9a2f"/>
<circle cx="145.48" cy="123.38" r="1.85" fill="#8a1a9a"/>
<circle cx="149.29" cy="135.1" r="1.7" fill="#92198b"/>
<circle cx="148.87" cy="125.4" r="1.85" fill="#8a1a9a"/>
<circle cx="166" cy="131" r="1.7" fill="#ffb012"/>
<circle cx="134.5" cy="116" r="1.7" fill="#7b4518"/>
<path d="M186.8 133.1 L184.8 136.88 L188.8 136.88 Z" fill="#12b5f0"/>
<circle cx="134.5" cy="139.5" r="1.7" fill="#3a6b45"/>
<circle cx="136.5" cy="119.5" r="1.7" fill="#7b4518"/>
<circle cx="154.21" cy="130.13" r="1.7" fill="#4c9a2f"/>
<circle cx="157.43" cy="127.39" r="1.85" fill="#8a1a9a"/>
<circle cx="144.94" cy="130.39" r="1.7" fill="#3a6b45"/>
<circle cx="147" cy="129.5" r="1.7" fill="#4c9a2f"/>
<circle cx="133" cy="149.5" r="1.7" fill="#9b9b9b"/>
<circle cx="159.5" cy="114.5" r="1.85" fill="#8a1a9a"/>
<circle cx="97.1" cy="115.6" r="1.7" fill="#7b4518"/>
<circle cx="146" cy="127.5" r="1.7" fill="#3a6b45"/>
<path d="M182.3 113.2 L180.3 116.98 L184.3 116.98 Z" fill="#12b5f0"/>
<circle cx="138.5" cy="114.5" r="1.7" fill="#7b4518"/>
<circle cx="157.5" cy="136.5" r="1.7" fill="#3a6b45"/>
<circle cx="154.92" cy="127.39" r="1.85" fill="#8a1a9a"/>
<circle cx="148.25" cy="128.51" r="1.7" fill="#4c9a2f"/>
<circle cx="147.77" cy="132.84" r="1.85" fill="#8a1a9a"/>
<circle cx="167.6" cy="121.5" r="1.7" fill="#ffb012"/>
<circle cx="140.51" cy="116.23" r="1.85" fill="#8a1a9a"/>
<circle cx="144" cy="119" r="1.7" fill="#3a6b45"/>
<circle cx="130.5" cy="150" r="1.7" fill="#ffb012"/>
<circle cx="161" cy="116.5" r="1.85" fill="#8a1a9a"/>
<circle cx="142.1" cy="129.33" r="1.7" fill="#4c9a2f"/>
<path d="M178.8 118.8 L176.8 122.58 L180.8 122.58 Z" fill="#0fb22a"/>
<circle cx="135.47" cy="124.07" r="1.7" fill="#92198b"/>
<circle cx="129" cy="121" r="1.7" fill="#7b4518"/>
<circle cx="152.89" cy="125.74" r="1.85" fill="#8a1a9a"/>
<circle cx="142" cy="125.5" r="1.7" fill="#3a6b45"/>
<circle cx="152" cy="127" r="1.7" fill="#3a6b45"/>
<circle cx="141.11" cy="134.06" r="1.7" fill="#92198b"/>
<path d="M192.4 106.1 L190.4 109.88 L194.4 109.88 Z" fill="#000000"/>
<circle cx="137" cy="126.5" r="1.7" fill="#4c9a2f"/>
<circle cx="149.6" cy="124.24" r="1.85" fill="#8a1a9a"/>
<circle cx="149.44" cy="129" r="1.7" fill="#3a6b45"/>
<circle cx="133.5" cy="151.5" r="1.7" fill="#3a6b45"/>
<circle cx="139" cy="134.5" r="1.7" fill="#0d3b9c"/>
<circle cx="128.5" cy="117" r="1.7" fill="#ee1289"/>
<circle cx="154.06" cy="116.77" r="1.7" fill="#92198b"/>
<circle cx="131.5" cy="152" r="1.7" fill="#ffb012"/>
<circle cx="139.5" cy="133" r="1.7" fill="#3a6b45"/>
<circle cx="148.5" cy="131.5" r="1.7" fill="#ff0d0d"/>
<circle cx="156.33" cy="127.78" r="1.7" fill="#4c9a2f"/>
<circle cx="133.5" cy="113.5" r="1.7" fill="#ee1289"/>
<circle cx="163" cy="117.5" r="1.85" fill="#8a1a9a"/>
<circle cx="112.3" cy="115" r="1.7" fill="#7b4518"/>
<circle cx="154.5" cy="111.5" r="1.7" fill="#ff9bc5"/>
<circle cx="134" cy="138" r="1.7" fill="#ee1289"/>
<circle cx="139" cy="126" r="1.7" fill="#ee1289"/>
<circle cx="144.5" cy="145.5" r="1.85" fill="#8a1a9a"/>
<path d="M166.5 132.9 L164.5 136.68 L168.5 136.68 Z" fill="#12b5f0"/>
<circle cx="164" cy="153.4" r="1.7" fill="#ff9bc5"/>
<path d="M159.9 129.4 L157.9 133.18 L161.9 133.18 Z" fill="#12b5f0"/>
<circle cx="143.5" cy="112" r="1.7" fill="#ee1289"/>
<circle cx="125.6" cy="139.7" r="1.7" fill="#ffb012"/>
<circle cx="131.5" cy="136" r="1.7" fill="#ee1289"/>
<circle cx="132" cy="127" r="1.7" fill="#ee1289"/>
<circle cx="141.5" cy="130" r="1.7" fill="#ee1289"/>
<circle cx="154.64" cy="134.3" r="1.7" fill="#4c9a2f"/>
<circle cx="153.7" cy="151" r="1.7" fill="#ffb012"/>
<circle cx="151.3" cy="133.31" r="1.85" fill="#8a1a9a"/>
<circle cx="153.45" cy="127.04" r="1.85" fill="#8a1a9a"/>
<circle cx="127.5" cy="123.5" r="1.7" fill="#7b4518"/>
<circle cx="155" cy="116" r="1.7" fill="#4c9a2f"/>
<circle cx="147.15" cy="121.86" r="1.85" fill="#8a1a9a"/>
<circle cx="150.5" cy="109.5" r="1.7" fill="#ee1289"/>
<circle cx="128.5" cy="148.5" r="1.7" fill="#ffb012"/>
<circle cx="134" cy="143.5" r="1.7" fill="#ffb012"/>
<circle cx="157.89" cy="128.38" r="1.85" fill="#8a1a9a"/>
<circle cx="131" cy="130" r="1.7" fill="#ee1289"/>
<path d="M192.7 128.2 L190.7 131.98 L194.7 131.98 Z" fill="#12b5f0"/>
<circle cx="166" cy="128.5" r="1.85" fill="#8a1a9a"/>
<path d="M183.5 95.5 L181.5 99.28 L185.5 99.28 Z" fill="#12b5f0"/>
<circle cx="62.4" cy="106.4" r="1.7" fill="#7b4518"/>
<circle cx="148" cy="119.5" r="1.7" fill="#ffb012"/>
<circle cx="146.91" cy="131.88" r="1.7" fill="#3a6b45"/>
<path d="M183.8 137.1 L181.8 140.88 L185.8 140.88 Z" fill="#12b5f0"/>
<circle cx="128" cy="125.5" r="1.7" fill="#ff9bc5"/>
<circle cx="148.5" cy="126.5" r="1.7" fill="#4c9a2f"/>
<circle cx="149" cy="137" r="1.7" fill="#ee1289"/>
<circle cx="167" cy="134.5" r="1.7" fill="#ffb012"/>
<circle cx="142" cy="149" r="1.7" fill="#ffb012"/>
<path d="M174.7 130.2 L172.7 133.98 L176.7 133.98 Z" fill="#12b5f0"/>
<circle cx="147" cy="138.5" r="1.7" fill="#3a6b45"/>
<circle cx="141" cy="110.5" r="1.7" fill="#7b4518"/>
<circle cx="145" cy="131" r="1.7" fill="#0d3b9c"/>
<circle cx="149.5" cy="112.5" r="1.7" fill="#0fb22a"/>
<circle cx="148.23" cy="120.64" r="1.85" fill="#8a1a9a"/>
<circle cx="147" cy="114" r="1.7" fill="#0fb22a"/>
<circle cx="156.02" cy="124.87" r="1.7" fill="#4c9a2f"/>
<circle cx="187.5" cy="107.2" r="1.7" fill="#000000"/>
<circle cx="159" cy="142.5" r="1.7" fill="#ffb012"/>
<circle cx="139" cy="121.5" r="1.7" fill="#ff0d0d"/>
<circle cx="150.34" cy="121.42" r="1.85" fill="#8a1a9a"/>
<circle cx="163.3" cy="142.6" r="1.7" fill="#3a6b45"/>
<circle cx="133.5" cy="141.5" r="1.7" fill="#ffb012"/>
<circle cx="113.8" cy="124.4" r="1.7" fill="#7b4518"/>
<circle cx="141.5" cy="127" r="1.7" fill="#0d3b9c"/>
<circle cx="152.56" cy="124.21" r="1.7" fill="#92198b"/>
<circle cx="138.3" cy="146.5" r="1.7" fill="#ff0d0d"/>
<circle cx="133" cy="124.5" r="1.7" fill="#3a6b45"/>
<circle cx="154" cy="139" r="1.7" fill="#3a6b45"/>
<path d="M192.1 114.4 L190.1 118.18 L194.1 118.18 Z" fill="#12b5f0"/>
<circle cx="140.67" cy="130.79" r="1.85" fill="#8a1a9a"/>
<circle cx="141.5" cy="149.5" r="1.7" fill="#3a6b45"/>
<circle cx="157" cy="127" r="1.7" fill="#ee1289"/>
<circle cx="145.06" cy="133.16" r="1.7" fill="#4c9a2f"/>
<circle cx="140.4" cy="159.6" r="1.7" fill="#0d3b9c"/>
<circle cx="150.58" cy="131.83" r="1.7" fill="#3a6b45"/>
<circle cx="157" cy="113.5" r="1.7" fill="#4c9a2f"/>
<circle cx="142.11" cy="124.71" r="1.7" fill="#92198b"/>
<circle cx="151.92" cy="131.4" r="1.7" fill="#92198b"/>
<circle cx="150.12" cy="130.69" r="1.7" fill="#92198b"/>
<circle cx="151.5" cy="137" r="1.7" fill="#3a6b45"/>
<path d="M178.6 147.9 L176.6 151.68 L180.6 151.68 Z" fill="#ffb012"/>
<circle cx="143" cy="125" r="1.7" fill="#0fb22a"/>
<circle cx="129.5" cy="128.5" r="1.7" fill="#ee1289"/>
<path d="M169 129.9 L167 133.68 L171 133.68 Z" fill="#12b5f0"/>
<path d="M226.4 98.4 L224.4 102.18 L228.4 102.18 Z" fill="#000000"/>
<circle cx="150" cy="130.5" r="1.7" fill="#3a6b45"/>
<circle cx="155" cy="111" r="1.7" fill="#ffb012"/>
<circle cx="131.5" cy="125.5" r="1.7" fill="#7b4518"/>
<circle cx="143.43" cy="127.14" r="1.7" fill="#3a6b45"/>
<circle cx="143" cy="131.5" r="1.7" fill="#4c9a2f"/>
<circle cx="157" cy="139" r="1.7" fill="#ff9bc5"/>
<circle cx="151" cy="116.5" r="1.7" fill="#ffb012"/>
<circle cx="97.1" cy="125.3" r="1.7" fill="#7b4518"/>
<circle cx="138.15" cy="135.95" r="1.7" fill="#92198b"/>
<circle cx="162" cy="124" r="1.85" fill="#8a1a9a"/>
<circle cx="141" cy="108.5" r="1.7" fill="#ee1289"/>
<circle cx="174.4" cy="106.4" r="1.7" fill="#0fb22a"/>
<circle cx="155.77" cy="128.97" r="1.7" fill="#92198b"/>
<circle cx="137" cy="127" r="1.7" fill="#3a6b45"/>
<circle cx="94.4" cy="124.6" r="1.7" fill="#7b4518"/>
<circle cx="135.96" cy="112.39" r="1.7" fill="#92198b"/>
<circle cx="144" cy="134" r="1.7" fill="#ee1289"/>
<circle cx="152.8" cy="106.2" r="1.7" fill="#ffb012"/>
<circle cx="153.5" cy="142.5" r="1.7" fill="#ff9bc5"/>
<path d="M164.3 130.9 L162.3 134.68 L166.3 134.68 Z" fill="#12b5f0"/>
<circle cx="155" cy="133" r="1.7" fill="#3a6b45"/>
<circle cx="150" cy="140.5" r="1.7" fill="#ffb012"/>
<circle cx="140.5" cy="115" r="1.7" fill="#0fb22a"/>
<circle cx="155.4" cy="151.5" r="1.7" fill="#ffb012"/>
<circle cx="140.5" cy="117.5" r="1.7" fill="#7b4518"/>
<circle cx="137" cy="111" r="1.7" fill="#ee1289"/>
<circle cx="144.5" cy="108.5" r="1.7" fill="#7b4518"/>
<circle cx="152.5" cy="131" r="1.7" fill="#4c9a2f"/>
<circle cx="155.15" cy="131.3" r="1.85" fill="#8a1a9a"/>
<circle cx="141.92" cy="130.64" r="1.85" fill="#8a1a9a"/>
<circle cx="138.51" cy="124.2" r="1.85" fill="#8a1a9a"/>
<circle cx="159.93" cy="128.03" r="1.85" fill="#8a1a9a"/>
<circle cx="168" cy="155.6" r="1.7" fill="#ff9bc5"/>
<circle cx="128.5" cy="126" r="1.7" fill="#ee1289"/>
<circle cx="133" cy="133" r="1.7" fill="#ee1289"/>
<circle cx="154.08" cy="125.65" r="1.85" fill="#8a1a9a"/>
<circle cx="145.5" cy="122.5" r="1.7" fill="#0fb22a"/>
<text x="61.5" y="136.3" font-size="9.6" text-anchor="start" font-weight="bold" fill="#8420ff" textLength="31.8">Anoxic</text>
<text x="102" y="148.7" font-size="10.1" text-anchor="start" font-weight="bold" fill="#8420ff">TOC</text>
<text x="136.5" y="178" font-size="9.6" text-anchor="start" font-weight="bold" fill="#8420ff" textLength="42">Sediment</text>
<text x="136.5" y="188" font-size="9.6" text-anchor="start" font-weight="bold" fill="#8420ff">depth</text>
<text x="180.5" y="130.3" font-size="9.6" text-anchor="start" font-weight="bold" fill="#8420ff">SO4</text>
<text x="212" y="116" font-size="9.6" text-anchor="start" font-weight="bold" fill="#8420ff">Water</text>
<text x="213" y="125.8" font-size="9.6" text-anchor="start" font-weight="bold" fill="#8420ff">depth</text>
<text x="207" y="137" font-size="9.6" text-anchor="start" font-weight="bold" fill="#8420ff">Oxic</text>
<rect x="55.5" y="36" width="184.5" height="184.5" fill="none" stroke="#111" stroke-width="1"/>
<path d="M55 36 H240.9" fill="none" stroke="#505050" stroke-width="1.8"/>
<path d="M240 36 V221" fill="none" stroke="#505050" stroke-width="1.8"/>
<text x="51.7" y="40" font-size="11.2" text-anchor="end" font-weight="normal" fill="#000" textLength="16.81" lengthAdjust="spacingAndGlyphs">0.8</text>
<text x="51.7" y="131.8" font-size="11.2" text-anchor="end" font-weight="normal" fill="#000" textLength="16.81" lengthAdjust="spacingAndGlyphs">0.0</text>
<text x="51.7" y="222.4" font-size="11.2" text-anchor="end" font-weight="normal" fill="#000" textLength="23.88" lengthAdjust="spacingAndGlyphs">−0.8</text>
<text x="53.1" y="231.5" font-size="11.2" text-anchor="middle" font-weight="normal" fill="#000" textLength="23.88" lengthAdjust="spacingAndGlyphs">−0.8</text>
<text x="146.9" y="231.5" font-size="11.2" text-anchor="middle" font-weight="normal" fill="#000" textLength="16.81" lengthAdjust="spacingAndGlyphs">0.0</text>
<text x="236.1" y="231.5" font-size="11.2" text-anchor="middle" font-weight="normal" fill="#000" textLength="16.81" lengthAdjust="spacingAndGlyphs">0.8</text>
<text x="146.2" y="245.5" font-size="10.9" text-anchor="middle" font-weight="normal" fill="#000">MDS1</text>
<text x="33" y="129" font-size="10.9" text-anchor="middle" font-weight="normal" fill="#000" transform="rotate(-90 33 129)">MDS2</text>
<text x="224.9" y="54.5" font-size="13.6" text-anchor="end" font-weight="bold" fill="#000">Archaea</text>
<text x="236.4" y="213.6" font-size="10.2" text-anchor="end" font-weight="normal" fill="#000">stress = 0.224</text>
<text transform="translate(292.5 29.3) scale(1.1 1)" font-size="18.3">B</text>
<line x1="423.5" y1="34.5" x2="423.5" y2="219.5" stroke="#222" stroke-width="0.7" stroke-dasharray="1.3 1.7"/>
<line x1="330.5" y1="127.5" x2="516" y2="127.5" stroke="#222" stroke-width="0.7" stroke-dasharray="1.3 1.7"/>
<path d="M362.5 31.3 L362.5 25.14 L363.17 23.43 L363.84 22.81 L364.51 22.47 L365.18 22.22 L365.85 21.9 L366.52 21.43 L367.19 20.95 L367.86 20.47 L368.53 19.99 L369.19 19.54 L369.86 19.12 L370.53 18.73 L371.2 18.4 L371.87 18.09 L372.54 17.8 L373.21 17.53 L373.88 17.3 L374.55 17.1 L375.22 16.95 L375.89 16.82 L376.56 16.69 L377.23 16.59 L377.9 16.52 L378.57 16.5 L379.24 16.53 L379.91 16.61 L380.58 16.73 L381.25 16.88 L381.92 17.04 L382.58 17.2 L383.25 17.36 L383.92 17.55 L384.59 17.77 L385.26 18.01 L385.93 18.26 L386.6 18.53 L387.27 18.81 L387.94 19.08 L388.61 19.35 L389.28 19.61 L389.95 19.88 L390.62 20.16 L391.29 20.45 L391.96 20.75 L392.63 21.04 L393.3 21.32 L393.97 21.59 L394.64 21.85 L395.31 22.08 L395.97 22.29 L396.64 22.48 L397.31 22.67 L397.98 22.84 L398.65 23.01 L399.32 23.18 L399.99 23.33 L400.66 23.48 L401.33 23.63 L402 23.76 L402.67 23.89 L403.34 24.02 L404.01 24.14 L404.68 24.25 L405.35 24.35 L406.02 24.46 L406.69 24.55 L407.36 24.64 L408.03 24.73 L408.69 24.82 L409.36 24.9 L410.03 24.98 L410.7 25.05 L411.37 25.13 L412.04 25.2 L412.71 25.27 L413.38 25.34 L414.05 25.4 L414.72 25.46 L415.39 25.52 L416.06 25.58 L416.73 25.63 L417.4 25.68 L418.07 25.74 L418.74 25.79 L419.41 25.85 L420.08 25.91 L420.75 25.97 L421.42 26.04 L422.08 26.11 L422.75 26.19 L423.42 26.28 L424.09 26.37 L424.76 26.47 L425.43 26.58 L426.1 26.69 L426.77 26.8 L427.44 26.91 L428.11 27.02 L428.78 27.14 L429.45 27.25 L430.12 27.36 L430.79 27.47 L431.46 27.57 L432.13 27.68 L432.8 27.79 L433.47 27.9 L434.14 28.01 L434.81 28.12 L435.47 28.23 L436.14 28.34 L436.81 28.45 L437.48 28.55 L438.15 28.65 L438.82 28.75 L439.49 28.84 L440.16 28.92 L440.83 29 L441.5 29.08 L442.17 29.15 L442.84 29.23 L443.51 29.3 L444.18 29.37 L444.85 29.43 L445.52 29.5 L446.19 29.56 L446.86 29.63 L447.53 29.69 L448.19 29.75 L448.86 29.8 L449.53 29.86 L450.2 29.92 L450.87 29.97 L451.54 30.03 L452.21 30.08 L452.88 30.13 L453.55 30.18 L454.22 30.23 L454.89 30.28 L455.56 30.33 L456.23 30.37 L456.9 30.42 L457.57 30.46 L458.24 30.5 L458.91 30.54 L459.58 30.58 L460.25 30.61 L460.92 30.65 L461.58 30.68 L462.25 30.71 L462.92 30.74 L463.59 30.76 L464.26 30.79 L464.93 30.82 L465.6 30.84 L466.27 30.87 L466.94 30.89 L467.61 30.92 L468.28 30.94 L468.95 30.96 L469.62 30.99 L470.29 31.01 L470.96 31.03 L471.63 31.05 L472.3 31.08 L472.97 31.1 L473.64 31.12 L474.31 31.14 L474.97 31.16 L475.64 31.18 L476.31 31.2 L476.98 31.22 L477.65 31.24 L478.32 31.26 L478.99 31.27 L479.66 31.29 L480.33 31.3 L481 31.3 L481 31.3 Z" fill="#1cd6da"/>
<path d="M362.5 31.3 L362.5 31.17 L363.17 30.96 L363.84 30.83 L364.51 30.73 L365.18 30.63 L365.85 30.56 L366.52 30.49 L367.19 30.42 L367.86 30.35 L368.53 30.29 L369.19 30.21 L369.86 30.12 L370.53 30.02 L371.2 29.91 L371.87 29.8 L372.54 29.69 L373.21 29.58 L373.88 29.46 L374.55 29.33 L375.22 29.21 L375.89 29.08 L376.56 28.96 L377.23 28.83 L377.9 28.7 L378.57 28.57 L379.24 28.45 L379.91 28.32 L380.58 28.19 L381.25 28.06 L381.92 27.92 L382.58 27.79 L383.25 27.65 L383.92 27.51 L384.59 27.37 L385.26 27.23 L385.93 27.09 L386.6 26.96 L387.27 26.82 L387.94 26.69 L388.61 26.56 L389.28 26.43 L389.95 26.31 L390.62 26.19 L391.29 26.07 L391.96 25.95 L392.63 25.83 L393.3 25.71 L393.97 25.6 L394.64 25.49 L395.31 25.38 L395.97 25.28 L396.64 25.18 L397.31 25.09 L397.98 25 L398.65 24.92 L399.32 24.85 L399.99 24.77 L400.66 24.7 L401.33 24.64 L402 24.57 L402.67 24.51 L403.34 24.45 L404.01 24.39 L404.68 24.33 L405.35 24.27 L406.02 24.21 L406.69 24.16 L407.36 24.11 L408.03 24.06 L408.69 24.01 L409.36 23.96 L410.03 23.91 L410.7 23.86 L411.37 23.81 L412.04 23.76 L412.71 23.71 L413.38 23.65 L414.05 23.6 L414.72 23.54 L415.39 23.48 L416.06 23.42 L416.73 23.36 L417.4 23.3 L418.07 23.24 L418.74 23.17 L419.41 23.11 L420.08 23.04 L420.75 22.97 L421.42 22.89 L422.08 22.81 L422.75 22.73 L423.42 22.64 L424.09 22.55 L424.76 22.46 L425.43 22.36 L426.1 22.25 L426.77 22.14 L427.44 22.02 L428.11 21.89 L428.78 21.76 L429.45 21.62 L430.12 21.47 L430.79 21.3 L431.46 21.1 L432.13 20.88 L432.8 20.64 L433.47 20.39 L434.14 20.15 L434.81 19.92 L435.47 19.7 L436.14 19.5 L436.81 19.34 L437.48 19.2 L438.15 19.06 L438.82 18.92 L439.49 18.79 L440.16 18.67 L440.83 18.57 L441.5 18.48 L442.17 18.43 L442.84 18.4 L443.51 18.41 L444.18 18.44 L444.85 18.49 L445.52 18.56 L446.19 18.65 L446.86 18.75 L447.53 18.85 L448.19 18.96 L448.86 19.08 L449.53 19.2 L450.2 19.35 L450.87 19.52 L451.54 19.72 L452.21 19.93 L452.88 20.16 L453.55 20.4 L454.22 20.64 L454.89 20.89 L455.56 21.14 L456.23 21.38 L456.9 21.64 L457.57 21.91 L458.24 22.18 L458.91 22.47 L459.58 22.76 L460.25 23.06 L460.92 23.36 L461.58 23.67 L462.25 23.97 L462.92 24.27 L463.59 24.57 L464.26 24.87 L464.93 25.18 L465.6 25.5 L466.27 25.82 L466.94 26.13 L467.61 26.44 L468.28 26.75 L468.95 27.05 L469.62 27.34 L470.29 27.62 L470.96 27.9 L471.63 28.17 L472.3 28.44 L472.97 28.7 L473.64 28.95 L474.31 29.2 L474.97 29.45 L475.64 29.68 L476.31 29.9 L476.98 30.12 L477.65 30.34 L478.32 30.54 L478.99 30.74 L479.66 30.93 L480.33 31.12 L481 31.3 L481 31.3 Z" fill="#fcbeb9"/>
<path d="M362.5 31.3 L362.5 31.17 L363.17 30.96 L363.84 30.83 L364.51 30.73 L365.18 30.63 L365.85 30.56 L366.52 30.49 L367.19 30.42 L367.86 30.35 L368.53 30.29 L369.19 30.21 L369.86 30.12 L370.53 30.02 L371.2 29.91 L371.87 29.8 L372.54 29.69 L373.21 29.58 L373.88 29.46 L374.55 29.33 L375.22 29.21 L375.89 29.08 L376.56 28.96 L377.23 28.83 L377.9 28.7 L378.57 28.57 L379.24 28.45 L379.91 28.32 L380.58 28.19 L381.25 28.06 L381.92 27.92 L382.58 27.79 L383.25 27.65 L383.92 27.51 L384.59 27.37 L385.26 27.23 L385.93 27.09 L386.6 26.96 L387.27 26.82 L387.94 26.69 L388.61 26.56 L389.28 26.43 L389.95 26.31 L390.62 26.19 L391.29 26.07 L391.96 25.95 L392.63 25.83 L393.3 25.71 L393.97 25.6 L394.64 25.49 L395.31 25.38 L395.97 25.28 L396.64 25.18 L397.31 25.09 L397.98 25 L398.65 24.92 L399.32 24.85 L399.99 24.77 L400.66 24.7 L401.33 24.64 L402 24.57 L402.67 24.51 L403.34 24.45 L404.01 24.39 L404.68 24.33 L405.35 24.35 L406.02 24.46 L406.69 24.55 L407.36 24.64 L408.03 24.73 L408.69 24.82 L409.36 24.9 L410.03 24.98 L410.7 25.05 L411.37 25.13 L412.04 25.2 L412.71 25.27 L413.38 25.34 L414.05 25.4 L414.72 25.46 L415.39 25.52 L416.06 25.58 L416.73 25.63 L417.4 25.68 L418.07 25.74 L418.74 25.79 L419.41 25.85 L420.08 25.91 L420.75 25.97 L421.42 26.04 L422.08 26.11 L422.75 26.19 L423.42 26.28 L424.09 26.37 L424.76 26.47 L425.43 26.58 L426.1 26.69 L426.77 26.8 L427.44 26.91 L428.11 27.02 L428.78 27.14 L429.45 27.25 L430.12 27.36 L430.79 27.47 L431.46 27.57 L432.13 27.68 L432.8 27.79 L433.47 27.9 L434.14 28.01 L434.81 28.12 L435.47 28.23 L436.14 28.34 L436.81 28.45 L437.48 28.55 L438.15 28.65 L438.82 28.75 L439.49 28.84 L440.16 28.92 L440.83 29 L441.5 29.08 L442.17 29.15 L442.84 29.23 L443.51 29.3 L444.18 29.37 L444.85 29.43 L445.52 29.5 L446.19 29.56 L446.86 29.63 L447.53 29.69 L448.19 29.75 L448.86 29.8 L449.53 29.86 L450.2 29.92 L450.87 29.97 L451.54 30.03 L452.21 30.08 L452.88 30.13 L453.55 30.18 L454.22 30.23 L454.89 30.28 L455.56 30.33 L456.23 30.37 L456.9 30.42 L457.57 30.46 L458.24 30.5 L458.91 30.54 L459.58 30.58 L460.25 30.61 L460.92 30.65 L461.58 30.68 L462.25 30.71 L462.92 30.74 L463.59 30.76 L464.26 30.79 L464.93 30.82 L465.6 30.84 L466.27 30.87 L466.94 30.89 L467.61 30.92 L468.28 30.94 L468.95 30.96 L469.62 30.99 L470.29 31.01 L470.96 31.03 L471.63 31.05 L472.3 31.08 L472.97 31.1 L473.64 31.12 L474.31 31.14 L474.97 31.16 L475.64 31.18 L476.31 31.2 L476.98 31.22 L477.65 31.24 L478.32 31.26 L478.99 31.27 L479.66 31.29 L480.33 31.3 L481 31.3 L481 31.3 Z" fill="#c0a8a4"/>
<path d="M362.5 31.3 L362.5 25.14 L363.17 23.43 L363.84 22.81 L364.51 22.47 L365.18 22.22 L365.85 21.9 L366.52 21.43 L367.19 20.95 L367.86 20.47 L368.53 19.99 L369.19 19.54 L369.86 19.12 L370.53 18.73 L371.2 18.4 L371.87 18.09 L372.54 17.8 L373.21 17.53 L373.88 17.3 L374.55 17.1 L375.22 16.95 L375.89 16.82 L376.56 16.69 L377.23 16.59 L377.9 16.52 L378.57 16.5 L379.24 16.53 L379.91 16.61 L380.58 16.73 L381.25 16.88 L381.92 17.04 L382.58 17.2 L383.25 17.36 L383.92 17.55 L384.59 17.77 L385.26 18.01 L385.93 18.26 L386.6 18.53 L387.27 18.81 L387.94 19.08 L388.61 19.35 L389.28 19.61 L389.95 19.88 L390.62 20.16 L391.29 20.45 L391.96 20.75 L392.63 21.04 L393.3 21.32 L393.97 21.59 L394.64 21.85 L395.31 22.08 L395.97 22.29 L396.64 22.48 L397.31 22.67 L397.98 22.84 L398.65 23.01 L399.32 23.18 L399.99 23.33 L400.66 23.48 L401.33 23.63 L402 23.76 L402.67 23.89 L403.34 24.02 L404.01 24.14 L404.68 24.25 L405.35 24.35 L406.02 24.46 L406.69 24.55 L407.36 24.64 L408.03 24.73 L408.69 24.82 L409.36 24.9 L410.03 24.98 L410.7 25.05 L411.37 25.13 L412.04 25.2 L412.71 25.27 L413.38 25.34 L414.05 25.4 L414.72 25.46 L415.39 25.52 L416.06 25.58 L416.73 25.63 L417.4 25.68 L418.07 25.74 L418.74 25.79 L419.41 25.85 L420.08 25.91 L420.75 25.97 L421.42 26.04 L422.08 26.11 L422.75 26.19 L423.42 26.28 L424.09 26.37 L424.76 26.47 L425.43 26.58 L426.1 26.69 L426.77 26.8 L427.44 26.91 L428.11 27.02 L428.78 27.14 L429.45 27.25 L430.12 27.36 L430.79 27.47 L431.46 27.57 L432.13 27.68 L432.8 27.79 L433.47 27.9 L434.14 28.01 L434.81 28.12 L435.47 28.23 L436.14 28.34 L436.81 28.45 L437.48 28.55 L438.15 28.65 L438.82 28.75 L439.49 28.84 L440.16 28.92 L440.83 29 L441.5 29.08 L442.17 29.15 L442.84 29.23 L443.51 29.3 L444.18 29.37 L444.85 29.43 L445.52 29.5 L446.19 29.56 L446.86 29.63 L447.53 29.69 L448.19 29.75 L448.86 29.8 L449.53 29.86 L450.2 29.92 L450.87 29.97 L451.54 30.03 L452.21 30.08 L452.88 30.13 L453.55 30.18 L454.22 30.23 L454.89 30.28 L455.56 30.33 L456.23 30.37 L456.9 30.42 L457.57 30.46 L458.24 30.5 L458.91 30.54 L459.58 30.58 L460.25 30.61 L460.92 30.65 L461.58 30.68 L462.25 30.71 L462.92 30.74 L463.59 30.76 L464.26 30.79 L464.93 30.82 L465.6 30.84 L466.27 30.87 L466.94 30.89 L467.61 30.92 L468.28 30.94 L468.95 30.96 L469.62 30.99 L470.29 31.01 L470.96 31.03 L471.63 31.05 L472.3 31.08 L472.97 31.1 L473.64 31.12 L474.31 31.14 L474.97 31.16 L475.64 31.18 L476.31 31.2 L476.98 31.22 L477.65 31.24 L478.32 31.26 L478.99 31.27 L479.66 31.29 L480.33 31.3 L481 31.3 L481 31.3" fill="none" stroke="#00bfc4" stroke-width="0.9" stroke-linejoin="round"/>
<path d="M362.5 31.3 L362.5 31.17 L363.17 30.96 L363.84 30.83 L364.51 30.73 L365.18 30.63 L365.85 30.56 L366.52 30.49 L367.19 30.42 L367.86 30.35 L368.53 30.29 L369.19 30.21 L369.86 30.12 L370.53 30.02 L371.2 29.91 L371.87 29.8 L372.54 29.69 L373.21 29.58 L373.88 29.46 L374.55 29.33 L375.22 29.21 L375.89 29.08 L376.56 28.96 L377.23 28.83 L377.9 28.7 L378.57 28.57 L379.24 28.45 L379.91 28.32 L380.58 28.19 L381.25 28.06 L381.92 27.92 L382.58 27.79 L383.25 27.65 L383.92 27.51 L384.59 27.37 L385.26 27.23 L385.93 27.09 L386.6 26.96 L387.27 26.82 L387.94 26.69 L388.61 26.56 L389.28 26.43 L389.95 26.31 L390.62 26.19 L391.29 26.07 L391.96 25.95 L392.63 25.83 L393.3 25.71 L393.97 25.6 L394.64 25.49 L395.31 25.38 L395.97 25.28 L396.64 25.18 L397.31 25.09 L397.98 25 L398.65 24.92 L399.32 24.85 L399.99 24.77 L400.66 24.7 L401.33 24.64 L402 24.57 L402.67 24.51 L403.34 24.45 L404.01 24.39 L404.68 24.33 L405.35 24.27 L406.02 24.21 L406.69 24.16 L407.36 24.11 L408.03 24.06 L408.69 24.01 L409.36 23.96 L410.03 23.91 L410.7 23.86 L411.37 23.81 L412.04 23.76 L412.71 23.71 L413.38 23.65 L414.05 23.6 L414.72 23.54 L415.39 23.48 L416.06 23.42 L416.73 23.36 L417.4 23.3 L418.07 23.24 L418.74 23.17 L419.41 23.11 L420.08 23.04 L420.75 22.97 L421.42 22.89 L422.08 22.81 L422.75 22.73 L423.42 22.64 L424.09 22.55 L424.76 22.46 L425.43 22.36 L426.1 22.25 L426.77 22.14 L427.44 22.02 L428.11 21.89 L428.78 21.76 L429.45 21.62 L430.12 21.47 L430.79 21.3 L431.46 21.1 L432.13 20.88 L432.8 20.64 L433.47 20.39 L434.14 20.15 L434.81 19.92 L435.47 19.7 L436.14 19.5 L436.81 19.34 L437.48 19.2 L438.15 19.06 L438.82 18.92 L439.49 18.79 L440.16 18.67 L440.83 18.57 L441.5 18.48 L442.17 18.43 L442.84 18.4 L443.51 18.41 L444.18 18.44 L444.85 18.49 L445.52 18.56 L446.19 18.65 L446.86 18.75 L447.53 18.85 L448.19 18.96 L448.86 19.08 L449.53 19.2 L450.2 19.35 L450.87 19.52 L451.54 19.72 L452.21 19.93 L452.88 20.16 L453.55 20.4 L454.22 20.64 L454.89 20.89 L455.56 21.14 L456.23 21.38 L456.9 21.64 L457.57 21.91 L458.24 22.18 L458.91 22.47 L459.58 22.76 L460.25 23.06 L460.92 23.36 L461.58 23.67 L462.25 23.97 L462.92 24.27 L463.59 24.57 L464.26 24.87 L464.93 25.18 L465.6 25.5 L466.27 25.82 L466.94 26.13 L467.61 26.44 L468.28 26.75 L468.95 27.05 L469.62 27.34 L470.29 27.62 L470.96 27.9 L471.63 28.17 L472.3 28.44 L472.97 28.7 L473.64 28.95 L474.31 29.2 L474.97 29.45 L475.64 29.68 L476.31 29.9 L476.98 30.12 L477.65 30.34 L478.32 30.54 L478.99 30.74 L479.66 30.93 L480.33 31.12 L481 31.3 L481 31.3" fill="none" stroke="#f8766d" stroke-width="0.9" stroke-linejoin="round"/>
<text x="333.6" y="19.8" font-size="8.7" text-anchor="start" font-weight="normal" fill="#00bfc4" textLength="26.2" lengthAdjust="spacingAndGlyphs">Aerobic</text>
<text x="474.4" y="19.8" font-size="8.7" text-anchor="start" font-weight="normal" fill="#f8766d" textLength="35" lengthAdjust="spacingAndGlyphs">Anaerobic</text>
<path d="M520.1 43.8 L521.6 43.8 L521.64 44.47 L521.68 45.14 L521.71 45.81 L521.73 46.48 L521.76 47.15 L521.78 47.81 L521.8 48.48 L521.82 49.15 L521.83 49.82 L521.84 50.49 L521.85 51.16 L521.86 51.83 L521.87 52.5 L521.87 53.17 L521.88 53.84 L521.88 54.5 L521.89 55.17 L521.89 55.84 L521.9 56.51 L521.91 57.18 L521.91 57.85 L521.92 58.52 L521.93 59.19 L521.94 59.86 L521.96 60.53 L521.98 61.19 L522 61.86 L522.02 62.53 L522.04 63.2 L522.07 63.87 L522.1 64.54 L522.12 65.21 L522.16 65.88 L522.19 66.55 L522.22 67.22 L522.26 67.88 L522.29 68.55 L522.33 69.22 L522.37 69.89 L522.41 70.56 L522.45 71.23 L522.5 71.9 L522.54 72.57 L522.59 73.24 L522.63 73.91 L522.68 74.57 L522.73 75.24 L522.78 75.91 L522.83 76.58 L522.88 77.25 L522.93 77.92 L522.99 78.59 L523.04 79.26 L523.09 79.93 L523.15 80.6 L523.21 81.26 L523.27 81.93 L523.33 82.6 L523.4 83.27 L523.47 83.94 L523.54 84.61 L523.61 85.28 L523.69 85.95 L523.76 86.62 L523.84 87.29 L523.92 87.95 L524.01 88.62 L524.09 89.29 L524.18 89.96 L524.26 90.63 L524.35 91.3 L524.44 91.97 L524.53 92.64 L524.62 93.31 L524.72 93.98 L524.81 94.64 L524.9 95.31 L525 95.98 L525.09 96.65 L525.19 97.32 L525.29 97.99 L525.39 98.66 L525.49 99.33 L525.6 100 L525.71 100.67 L525.82 101.33 L525.93 102 L526.05 102.67 L526.17 103.34 L526.3 104.01 L526.43 104.68 L526.56 105.35 L526.7 106.02 L526.85 106.69 L527.01 107.36 L527.18 108.02 L527.36 108.69 L527.55 109.36 L527.74 110.03 L527.93 110.7 L528.12 111.37 L528.31 112.04 L528.5 112.71 L528.68 113.38 L528.87 114.05 L529.06 114.71 L529.25 115.38 L529.44 116.05 L529.64 116.72 L529.84 117.39 L530.05 118.06 L530.26 118.73 L530.49 119.4 L530.72 120.07 L530.98 120.74 L531.25 121.4 L531.54 122.07 L531.84 122.74 L532.15 123.41 L532.45 124.08 L532.76 124.75 L533.05 125.42 L533.34 126.09 L533.63 126.76 L533.95 127.43 L534.26 128.1 L534.56 128.76 L534.84 129.43 L535.08 130.1 L535.25 130.77 L535.38 131.44 L535.49 132.11 L535.57 132.78 L535.6 133.45 L535.5 134.12 L535.25 134.79 L534.89 135.45 L534.47 136.12 L534.03 136.79 L533.57 137.46 L532.97 138.13 L532.28 138.8 L531.54 139.47 L530.79 140.14 L530.09 140.81 L529.44 141.48 L528.77 142.14 L528.1 142.81 L527.43 143.48 L526.8 144.15 L526.2 144.82 L525.66 145.49 L525.19 146.16 L524.76 146.83 L524.33 147.5 L523.93 148.17 L523.57 148.83 L523.24 149.5 L522.96 150.17 L522.74 150.84 L522.57 151.51 L522.42 152.18 L522.27 152.85 L522.14 153.52 L522.02 154.19 L521.92 154.86 L521.83 155.52 L521.76 156.19 L521.71 156.86 L521.67 157.53 L521.63 158.2 L521.6 158.87 L521.57 159.54 L521.54 160.21 L521.51 160.88 L521.49 161.55 L521.47 162.21 L521.45 162.88 L521.43 163.55 L521.42 164.22 L521.4 164.89 L521.39 165.56 L521.38 166.23 L521.36 166.9 L521.35 167.57 L521.34 168.24 L521.33 168.9 L521.33 169.57 L521.32 170.24 L521.31 170.91 L521.3 171.58 L521.29 172.25 L521.29 172.92 L521.28 173.59 L521.27 174.26 L521.27 174.93 L521.26 175.59 L521.25 176.26 L521.24 176.93 L521.23 177.6 L521.23 178.27 L521.22 178.94 L521.21 179.61 L521.2 180.28 L521.18 180.95 L521.17 181.62 L521.16 182.28 L521.15 182.95 L521.14 183.62 L521.13 184.29 L521.12 184.96 L521.11 185.63 L521.09 186.3 L521.08 186.97 L521.07 187.64 L521.05 188.31 L521.04 188.97 L521.03 189.64 L521.01 190.31 L521 190.98 L520.98 191.65 L520.97 192.32 L520.95 192.99 L520.93 193.66 L520.92 194.33 L520.9 195 L520.88 195.66 L520.87 196.33 L520.85 197 L520.83 197.67 L520.81 198.34 L520.79 199.01 L520.77 199.68 L520.74 200.35 L520.71 201.02 L520.68 201.69 L520.64 202.35 L520.6 203.02 L520.52 203.69 L520.4 204.36 L520.25 205.03 L520.1 205.7 L520.1 205.7 Z" fill="#1cd6da"/>
<path d="M520.1 43.8 L520.12 43.8 L520.14 44.47 L520.17 45.14 L520.19 45.81 L520.21 46.48 L520.23 47.15 L520.25 47.81 L520.27 48.48 L520.28 49.15 L520.3 49.82 L520.31 50.49 L520.32 51.16 L520.33 51.83 L520.34 52.5 L520.35 53.17 L520.35 53.84 L520.36 54.5 L520.37 55.17 L520.38 55.84 L520.38 56.51 L520.39 57.18 L520.4 57.85 L520.4 58.52 L520.41 59.19 L520.41 59.86 L520.42 60.53 L520.42 61.19 L520.43 61.86 L520.43 62.53 L520.44 63.2 L520.44 63.87 L520.45 64.54 L520.45 65.21 L520.46 65.88 L520.46 66.55 L520.46 67.22 L520.47 67.88 L520.47 68.55 L520.48 69.22 L520.48 69.89 L520.49 70.56 L520.49 71.23 L520.5 71.9 L520.51 72.57 L520.51 73.24 L520.52 73.91 L520.53 74.57 L520.53 75.24 L520.54 75.91 L520.55 76.58 L520.56 77.25 L520.57 77.92 L520.58 78.59 L520.59 79.26 L520.6 79.93 L520.61 80.6 L520.62 81.26 L520.64 81.93 L520.65 82.6 L520.67 83.27 L520.68 83.94 L520.7 84.61 L520.72 85.28 L520.74 85.95 L520.76 86.62 L520.78 87.29 L520.8 87.95 L520.83 88.62 L520.85 89.29 L520.88 89.96 L520.91 90.63 L520.94 91.3 L520.97 91.97 L521 92.64 L521.03 93.31 L521.07 93.98 L521.1 94.64 L521.14 95.31 L521.18 95.98 L521.22 96.65 L521.26 97.32 L521.3 97.99 L521.35 98.66 L521.4 99.33 L521.46 100 L521.53 100.67 L521.6 101.33 L521.68 102 L521.77 102.67 L521.86 103.34 L521.96 104.01 L522.07 104.68 L522.18 105.35 L522.3 106.02 L522.43 106.69 L522.56 107.36 L522.71 108.02 L522.86 108.69 L523.05 109.36 L523.25 110.03 L523.49 110.7 L523.75 111.37 L524.03 112.04 L524.34 112.71 L524.68 113.38 L525.04 114.05 L525.43 114.71 L525.85 115.38 L526.37 116.05 L526.98 116.72 L527.68 117.39 L528.46 118.06 L529.31 118.73 L530.22 119.4 L531.2 120.07 L532.41 120.74 L533.87 121.4 L535.5 122.07 L537.17 122.74 L538.8 123.41 L540.27 124.08 L541.73 124.75 L543.22 125.42 L544.56 126.09 L545.62 126.76 L546.34 127.43 L546.99 128.1 L547.48 128.76 L547.7 129.43 L547.57 130.1 L547.18 130.77 L546.62 131.44 L545.99 132.11 L545.07 132.78 L543.82 133.45 L542.42 134.12 L541.02 134.79 L539.71 135.45 L538.32 136.12 L536.9 136.79 L535.5 137.46 L534.16 138.13 L532.94 138.8 L531.84 139.47 L530.77 140.14 L529.76 140.81 L528.82 141.48 L527.98 142.14 L527.27 142.81 L526.68 143.48 L526.11 144.15 L525.57 144.82 L525.08 145.49 L524.65 146.16 L524.3 146.83 L524.03 147.5 L523.87 148.17 L523.74 148.83 L523.62 149.5 L523.52 150.17 L523.43 150.84 L523.37 151.51 L523.32 152.18 L523.3 152.85 L523.31 153.52 L523.37 154.19 L523.45 154.86 L523.56 155.52 L523.68 156.19 L523.82 156.86 L523.95 157.53 L524.07 158.2 L524.18 158.87 L524.26 159.54 L524.31 160.21 L524.36 160.88 L524.4 161.55 L524.44 162.21 L524.47 162.88 L524.51 163.55 L524.54 164.22 L524.58 164.89 L524.6 165.56 L524.63 166.23 L524.65 166.9 L524.67 167.57 L524.68 168.24 L524.69 168.9 L524.7 169.57 L524.7 170.24 L524.69 170.91 L524.69 171.58 L524.67 172.25 L524.65 172.92 L524.63 173.59 L524.6 174.26 L524.57 174.93 L524.54 175.59 L524.51 176.26 L524.47 176.93 L524.44 177.6 L524.4 178.27 L524.36 178.94 L524.32 179.61 L524.28 180.28 L524.24 180.95 L524.19 181.62 L524.14 182.28 L524.08 182.95 L524.02 183.62 L523.95 184.29 L523.88 184.96 L523.81 185.63 L523.74 186.3 L523.66 186.97 L523.58 187.64 L523.5 188.31 L523.42 188.97 L523.34 189.64 L523.26 190.31 L523.18 190.98 L523.09 191.65 L523 192.32 L522.91 192.99 L522.81 193.66 L522.71 194.33 L522.61 195 L522.5 195.66 L522.39 196.33 L522.28 197 L522.16 197.67 L522.04 198.34 L521.91 199.01 L521.78 199.68 L521.64 200.35 L521.49 201.02 L521.34 201.69 L521.17 202.35 L520.99 203.02 L520.8 203.69 L520.58 204.36 L520.35 205.03 L520.1 205.7 L520.1 205.7 Z" fill="#fcbeb9"/>
<path d="M520.1 43.8 L520.12 43.8 L520.14 44.47 L520.17 45.14 L520.19 45.81 L520.21 46.48 L520.23 47.15 L520.25 47.81 L520.27 48.48 L520.28 49.15 L520.3 49.82 L520.31 50.49 L520.32 51.16 L520.33 51.83 L520.34 52.5 L520.35 53.17 L520.35 53.84 L520.36 54.5 L520.37 55.17 L520.38 55.84 L520.38 56.51 L520.39 57.18 L520.4 57.85 L520.4 58.52 L520.41 59.19 L520.41 59.86 L520.42 60.53 L520.42 61.19 L520.43 61.86 L520.43 62.53 L520.44 63.2 L520.44 63.87 L520.45 64.54 L520.45 65.21 L520.46 65.88 L520.46 66.55 L520.46 67.22 L520.47 67.88 L520.47 68.55 L520.48 69.22 L520.48 69.89 L520.49 70.56 L520.49 71.23 L520.5 71.9 L520.51 72.57 L520.51 73.24 L520.52 73.91 L520.53 74.57 L520.53 75.24 L520.54 75.91 L520.55 76.58 L520.56 77.25 L520.57 77.92 L520.58 78.59 L520.59 79.26 L520.6 79.93 L520.61 80.6 L520.62 81.26 L520.64 81.93 L520.65 82.6 L520.67 83.27 L520.68 83.94 L520.7 84.61 L520.72 85.28 L520.74 85.95 L520.76 86.62 L520.78 87.29 L520.8 87.95 L520.83 88.62 L520.85 89.29 L520.88 89.96 L520.91 90.63 L520.94 91.3 L520.97 91.97 L521 92.64 L521.03 93.31 L521.07 93.98 L521.1 94.64 L521.14 95.31 L521.18 95.98 L521.22 96.65 L521.26 97.32 L521.3 97.99 L521.35 98.66 L521.4 99.33 L521.46 100 L521.53 100.67 L521.6 101.33 L521.68 102 L521.77 102.67 L521.86 103.34 L521.96 104.01 L522.07 104.68 L522.18 105.35 L522.3 106.02 L522.43 106.69 L522.56 107.36 L522.71 108.02 L522.86 108.69 L523.05 109.36 L523.25 110.03 L523.49 110.7 L523.75 111.37 L524.03 112.04 L524.34 112.71 L524.68 113.38 L525.04 114.05 L525.43 114.71 L525.85 115.38 L526.37 116.05 L526.98 116.72 L527.68 117.39 L528.46 118.06 L529.31 118.73 L530.22 119.4 L530.72 120.07 L530.98 120.74 L531.25 121.4 L531.54 122.07 L531.84 122.74 L532.15 123.41 L532.45 124.08 L532.76 124.75 L533.05 125.42 L533.34 126.09 L533.63 126.76 L533.95 127.43 L534.26 128.1 L534.56 128.76 L534.84 129.43 L535.08 130.1 L535.25 130.77 L535.38 131.44 L535.49 132.11 L535.57 132.78 L535.6 133.45 L535.5 134.12 L535.25 134.79 L534.89 135.45 L534.47 136.12 L534.03 136.79 L533.57 137.46 L532.97 138.13 L532.28 138.8 L531.54 139.47 L530.77 140.14 L529.76 140.81 L528.82 141.48 L527.98 142.14 L527.27 142.81 L526.68 143.48 L526.11 144.15 L525.57 144.82 L525.08 145.49 L524.65 146.16 L524.3 146.83 L524.03 147.5 L523.87 148.17 L523.57 148.83 L523.24 149.5 L522.96 150.17 L522.74 150.84 L522.57 151.51 L522.42 152.18 L522.27 152.85 L522.14 153.52 L522.02 154.19 L521.92 154.86 L521.83 155.52 L521.76 156.19 L521.71 156.86 L521.67 157.53 L521.63 158.2 L521.6 158.87 L521.57 159.54 L521.54 160.21 L521.51 160.88 L521.49 161.55 L521.47 162.21 L521.45 162.88 L521.43 163.55 L521.42 164.22 L521.4 164.89 L521.39 165.56 L521.38 166.23 L521.36 166.9 L521.35 167.57 L521.34 168.24 L521.33 168.9 L521.33 169.57 L521.32 170.24 L521.31 170.91 L521.3 171.58 L521.29 172.25 L521.29 172.92 L521.28 173.59 L521.27 174.26 L521.27 174.93 L521.26 175.59 L521.25 176.26 L521.24 176.93 L521.23 177.6 L521.23 178.27 L521.22 178.94 L521.21 179.61 L521.2 180.28 L521.18 180.95 L521.17 181.62 L521.16 182.28 L521.15 182.95 L521.14 183.62 L521.13 184.29 L521.12 184.96 L521.11 185.63 L521.09 186.3 L521.08 186.97 L521.07 187.64 L521.05 188.31 L521.04 188.97 L521.03 189.64 L521.01 190.31 L521 190.98 L520.98 191.65 L520.97 192.32 L520.95 192.99 L520.93 193.66 L520.92 194.33 L520.9 195 L520.88 195.66 L520.87 196.33 L520.85 197 L520.83 197.67 L520.81 198.34 L520.79 199.01 L520.77 199.68 L520.74 200.35 L520.71 201.02 L520.68 201.69 L520.64 202.35 L520.6 203.02 L520.52 203.69 L520.4 204.36 L520.25 205.03 L520.1 205.7 L520.1 205.7 Z" fill="#c0a8a4"/>
<path d="M520.1 43.8 L521.6 43.8 L521.64 44.47 L521.68 45.14 L521.71 45.81 L521.73 46.48 L521.76 47.15 L521.78 47.81 L521.8 48.48 L521.82 49.15 L521.83 49.82 L521.84 50.49 L521.85 51.16 L521.86 51.83 L521.87 52.5 L521.87 53.17 L521.88 53.84 L521.88 54.5 L521.89 55.17 L521.89 55.84 L521.9 56.51 L521.91 57.18 L521.91 57.85 L521.92 58.52 L521.93 59.19 L521.94 59.86 L521.96 60.53 L521.98 61.19 L522 61.86 L522.02 62.53 L522.04 63.2 L522.07 63.87 L522.1 64.54 L522.12 65.21 L522.16 65.88 L522.19 66.55 L522.22 67.22 L522.26 67.88 L522.29 68.55 L522.33 69.22 L522.37 69.89 L522.41 70.56 L522.45 71.23 L522.5 71.9 L522.54 72.57 L522.59 73.24 L522.63 73.91 L522.68 74.57 L522.73 75.24 L522.78 75.91 L522.83 76.58 L522.88 77.25 L522.93 77.92 L522.99 78.59 L523.04 79.26 L523.09 79.93 L523.15 80.6 L523.21 81.26 L523.27 81.93 L523.33 82.6 L523.4 83.27 L523.47 83.94 L523.54 84.61 L523.61 85.28 L523.69 85.95 L523.76 86.62 L523.84 87.29 L523.92 87.95 L524.01 88.62 L524.09 89.29 L524.18 89.96 L524.26 90.63 L524.35 91.3 L524.44 91.97 L524.53 92.64 L524.62 93.31 L524.72 93.98 L524.81 94.64 L524.9 95.31 L525 95.98 L525.09 96.65 L525.19 97.32 L525.29 97.99 L525.39 98.66 L525.49 99.33 L525.6 100 L525.71 100.67 L525.82 101.33 L525.93 102 L526.05 102.67 L526.17 103.34 L526.3 104.01 L526.43 104.68 L526.56 105.35 L526.7 106.02 L526.85 106.69 L527.01 107.36 L527.18 108.02 L527.36 108.69 L527.55 109.36 L527.74 110.03 L527.93 110.7 L528.12 111.37 L528.31 112.04 L528.5 112.71 L528.68 113.38 L528.87 114.05 L529.06 114.71 L529.25 115.38 L529.44 116.05 L529.64 116.72 L529.84 117.39 L530.05 118.06 L530.26 118.73 L530.49 119.4 L530.72 120.07 L530.98 120.74 L531.25 121.4 L531.54 122.07 L531.84 122.74 L532.15 123.41 L532.45 124.08 L532.76 124.75 L533.05 125.42 L533.34 126.09 L533.63 126.76 L533.95 127.43 L534.26 128.1 L534.56 128.76 L534.84 129.43 L535.08 130.1 L535.25 130.77 L535.38 131.44 L535.49 132.11 L535.57 132.78 L535.6 133.45 L535.5 134.12 L535.25 134.79 L534.89 135.45 L534.47 136.12 L534.03 136.79 L533.57 137.46 L532.97 138.13 L532.28 138.8 L531.54 139.47 L530.79 140.14 L530.09 140.81 L529.44 141.48 L528.77 142.14 L528.1 142.81 L527.43 143.48 L526.8 144.15 L526.2 144.82 L525.66 145.49 L525.19 146.16 L524.76 146.83 L524.33 147.5 L523.93 148.17 L523.57 148.83 L523.24 149.5 L522.96 150.17 L522.74 150.84 L522.57 151.51 L522.42 152.18 L522.27 152.85 L522.14 153.52 L522.02 154.19 L521.92 154.86 L521.83 155.52 L521.76 156.19 L521.71 156.86 L521.67 157.53 L521.63 158.2 L521.6 158.87 L521.57 159.54 L521.54 160.21 L521.51 160.88 L521.49 161.55 L521.47 162.21 L521.45 162.88 L521.43 163.55 L521.42 164.22 L521.4 164.89 L521.39 165.56 L521.38 166.23 L521.36 166.9 L521.35 167.57 L521.34 168.24 L521.33 168.9 L521.33 169.57 L521.32 170.24 L521.31 170.91 L521.3 171.58 L521.29 172.25 L521.29 172.92 L521.28 173.59 L521.27 174.26 L521.27 174.93 L521.26 175.59 L521.25 176.26 L521.24 176.93 L521.23 177.6 L521.23 178.27 L521.22 178.94 L521.21 179.61 L521.2 180.28 L521.18 180.95 L521.17 181.62 L521.16 182.28 L521.15 182.95 L521.14 183.62 L521.13 184.29 L521.12 184.96 L521.11 185.63 L521.09 186.3 L521.08 186.97 L521.07 187.64 L521.05 188.31 L521.04 188.97 L521.03 189.64 L521.01 190.31 L521 190.98 L520.98 191.65 L520.97 192.32 L520.95 192.99 L520.93 193.66 L520.92 194.33 L520.9 195 L520.88 195.66 L520.87 196.33 L520.85 197 L520.83 197.67 L520.81 198.34 L520.79 199.01 L520.77 199.68 L520.74 200.35 L520.71 201.02 L520.68 201.69 L520.64 202.35 L520.6 203.02 L520.52 203.69 L520.4 204.36 L520.25 205.03 L520.1 205.7 L520.1 205.7" fill="none" stroke="#00bfc4" stroke-width="0.9" stroke-linejoin="round"/>
<path d="M520.1 43.8 L520.12 43.8 L520.14 44.47 L520.17 45.14 L520.19 45.81 L520.21 46.48 L520.23 47.15 L520.25 47.81 L520.27 48.48 L520.28 49.15 L520.3 49.82 L520.31 50.49 L520.32 51.16 L520.33 51.83 L520.34 52.5 L520.35 53.17 L520.35 53.84 L520.36 54.5 L520.37 55.17 L520.38 55.84 L520.38 56.51 L520.39 57.18 L520.4 57.85 L520.4 58.52 L520.41 59.19 L520.41 59.86 L520.42 60.53 L520.42 61.19 L520.43 61.86 L520.43 62.53 L520.44 63.2 L520.44 63.87 L520.45 64.54 L520.45 65.21 L520.46 65.88 L520.46 66.55 L520.46 67.22 L520.47 67.88 L520.47 68.55 L520.48 69.22 L520.48 69.89 L520.49 70.56 L520.49 71.23 L520.5 71.9 L520.51 72.57 L520.51 73.24 L520.52 73.91 L520.53 74.57 L520.53 75.24 L520.54 75.91 L520.55 76.58 L520.56 77.25 L520.57 77.92 L520.58 78.59 L520.59 79.26 L520.6 79.93 L520.61 80.6 L520.62 81.26 L520.64 81.93 L520.65 82.6 L520.67 83.27 L520.68 83.94 L520.7 84.61 L520.72 85.28 L520.74 85.95 L520.76 86.62 L520.78 87.29 L520.8 87.95 L520.83 88.62 L520.85 89.29 L520.88 89.96 L520.91 90.63 L520.94 91.3 L520.97 91.97 L521 92.64 L521.03 93.31 L521.07 93.98 L521.1 94.64 L521.14 95.31 L521.18 95.98 L521.22 96.65 L521.26 97.32 L521.3 97.99 L521.35 98.66 L521.4 99.33 L521.46 100 L521.53 100.67 L521.6 101.33 L521.68 102 L521.77 102.67 L521.86 103.34 L521.96 104.01 L522.07 104.68 L522.18 105.35 L522.3 106.02 L522.43 106.69 L522.56 107.36 L522.71 108.02 L522.86 108.69 L523.05 109.36 L523.25 110.03 L523.49 110.7 L523.75 111.37 L524.03 112.04 L524.34 112.71 L524.68 113.38 L525.04 114.05 L525.43 114.71 L525.85 115.38 L526.37 116.05 L526.98 116.72 L527.68 117.39 L528.46 118.06 L529.31 118.73 L530.22 119.4 L531.2 120.07 L532.41 120.74 L533.87 121.4 L535.5 122.07 L537.17 122.74 L538.8 123.41 L540.27 124.08 L541.73 124.75 L543.22 125.42 L544.56 126.09 L545.62 126.76 L546.34 127.43 L546.99 128.1 L547.48 128.76 L547.7 129.43 L547.57 130.1 L547.18 130.77 L546.62 131.44 L545.99 132.11 L545.07 132.78 L543.82 133.45 L542.42 134.12 L541.02 134.79 L539.71 135.45 L538.32 136.12 L536.9 136.79 L535.5 137.46 L534.16 138.13 L532.94 138.8 L531.84 139.47 L530.77 140.14 L529.76 140.81 L528.82 141.48 L527.98 142.14 L527.27 142.81 L526.68 143.48 L526.11 144.15 L525.57 144.82 L525.08 145.49 L524.65 146.16 L524.3 146.83 L524.03 147.5 L523.87 148.17 L523.74 148.83 L523.62 149.5 L523.52 150.17 L523.43 150.84 L523.37 151.51 L523.32 152.18 L523.3 152.85 L523.31 153.52 L523.37 154.19 L523.45 154.86 L523.56 155.52 L523.68 156.19 L523.82 156.86 L523.95 157.53 L524.07 158.2 L524.18 158.87 L524.26 159.54 L524.31 160.21 L524.36 160.88 L524.4 161.55 L524.44 162.21 L524.47 162.88 L524.51 163.55 L524.54 164.22 L524.58 164.89 L524.6 165.56 L524.63 166.23 L524.65 166.9 L524.67 167.57 L524.68 168.24 L524.69 168.9 L524.7 169.57 L524.7 170.24 L524.69 170.91 L524.69 171.58 L524.67 172.25 L524.65 172.92 L524.63 173.59 L524.6 174.26 L524.57 174.93 L524.54 175.59 L524.51 176.26 L524.47 176.93 L524.44 177.6 L524.4 178.27 L524.36 178.94 L524.32 179.61 L524.28 180.28 L524.24 180.95 L524.19 181.62 L524.14 182.28 L524.08 182.95 L524.02 183.62 L523.95 184.29 L523.88 184.96 L523.81 185.63 L523.74 186.3 L523.66 186.97 L523.58 187.64 L523.5 188.31 L523.42 188.97 L523.34 189.64 L523.26 190.31 L523.18 190.98 L523.09 191.65 L523 192.32 L522.91 192.99 L522.81 193.66 L522.71 194.33 L522.61 195 L522.5 195.66 L522.39 196.33 L522.28 197 L522.16 197.67 L522.04 198.34 L521.91 199.01 L521.78 199.68 L521.64 200.35 L521.49 201.02 L521.34 201.69 L521.17 202.35 L520.99 203.02 L520.8 203.69 L520.58 204.36 L520.35 205.03 L520.1 205.7 L520.1 205.7" fill="none" stroke="#f8766d" stroke-width="0.9" stroke-linejoin="round"/>
<line x1="423.5" y1="127.5" x2="388.2" y2="60" stroke="#ad76ff" stroke-width="0.8"/>
<path d="M388.2 60 L391.65 62.73 L388.47 64.39 Z" fill="#ad76ff"/>
<line x1="423.5" y1="127.5" x2="370" y2="78" stroke="#ad76ff" stroke-width="0.8"/>
<path d="M370 78 L374.17 79.41 L371.73 82.05 Z" fill="#ad76ff"/>
<line x1="423.5" y1="127.5" x2="411.7" y2="82.5" stroke="#ad76ff" stroke-width="0.8"/>
<path d="M411.7 82.5 L414.45 85.93 L410.98 86.84 Z" fill="#ad76ff"/>
<line x1="423.5" y1="127.5" x2="465" y2="148.7" stroke="#ad76ff" stroke-width="0.8"/>
<path d="M465 148.7 L460.61 148.47 L462.24 145.27 Z" fill="#ad76ff"/>
<line x1="423.5" y1="127.5" x2="477" y2="176.2" stroke="#ad76ff" stroke-width="0.8"/>
<path d="M477 176.2 L472.82 174.82 L475.24 172.17 Z" fill="#ad76ff"/>
<line x1="423.5" y1="127.5" x2="386" y2="127.5" stroke="#c4aef5" stroke-width="0.8"/>
<path d="M386 127.5 L390.02 125.71 L390.02 129.29 Z" fill="#c4aef5"/>
<circle cx="426.87" cy="125.26" r="1.85" fill="#8a1a9a"/>
<circle cx="433.7" cy="140" r="1.7" fill="#ffb012"/>
<circle cx="444" cy="126" r="1.7" fill="#0d3b9c"/>
<circle cx="461.7" cy="108.2" r="1.7" fill="#ffb012"/>
<path d="M387.5 131.4 L385.5 135.18 L389.5 135.18 Z" fill="#0fb22a"/>
<circle cx="439.1" cy="131.4" r="1.7" fill="#ee1289"/>
<circle cx="457.18" cy="119.86" r="1.85" fill="#8a1a9a"/>
<circle cx="460.7" cy="106.2" r="1.7" fill="#ffb012"/>
<path d="M416.7 81.6 L414.7 85.38 L418.7 85.38 Z" fill="#12b5f0"/>
<path d="M420.7 100.9 L418.7 104.68 L422.7 104.68 Z" fill="#12b5f0"/>
<circle cx="445.5" cy="78" r="1.7" fill="#0fb22a"/>
<circle cx="409.2" cy="168.2" r="1.7" fill="#ee1289"/>
<circle cx="450.07" cy="118.03" r="1.85" fill="#8a1a9a"/>
<circle cx="401.2" cy="195.5" r="1.7" fill="#7b4518"/>
<circle cx="417.29" cy="121.87" r="1.7" fill="#92198b"/>
<circle cx="445.13" cy="119.13" r="1.85" fill="#8a1a9a"/>
<circle cx="453" cy="124.5" r="1.7" fill="#0d3b9c"/>
<circle cx="432.82" cy="120.39" r="1.85" fill="#8a1a9a"/>
<circle cx="466.3" cy="122.2" r="1.7" fill="#3a6b45"/>
<circle cx="443.2" cy="162" r="1.7" fill="#7b4518"/>
<path d="M370.3 102.1 L368.3 105.88 L372.3 105.88 Z" fill="#12b5f0"/>
<circle cx="416.63" cy="129.98" r="1.7" fill="#92198b"/>
<circle cx="408" cy="126.5" r="1.7" fill="#ffb012"/>
<circle cx="407" cy="147.5" r="1.7" fill="#ee1289"/>
<circle cx="433.2" cy="99.5" r="1.7" fill="#9b9b9b"/>
<circle cx="396" cy="128" r="1.7" fill="#ffb012"/>
<path d="M411.7 94.1 L409.7 97.88 L413.7 97.88 Z" fill="#12b5f0"/>
<path d="M400 106.6 L398 110.38 L402 110.38 Z" fill="#12b5f0"/>
<circle cx="447.6" cy="105.4" r="1.7" fill="#ffb012"/>
<path d="M383.5 123.9 L381.5 127.68 L385.5 127.68 Z" fill="#12b5f0"/>
<circle cx="383.2" cy="149.2" r="1.7" fill="#ee1289"/>
<circle cx="424" cy="129" r="1.7" fill="#3a6b45"/>
<circle cx="455.5" cy="130.3" r="1.7" fill="#ee1289"/>
<circle cx="446" cy="143.4" r="1.7" fill="#ee1289"/>
<path d="M382 119.9 L380 123.68 L384 123.68 Z" fill="#12b5f0"/>
<circle cx="411.2" cy="153" r="1.7" fill="#ee1289"/>
<path d="M371.5 127.4 L369.5 131.18 L373.5 131.18 Z" fill="#12b5f0"/>
<circle cx="427.4" cy="110.7" r="1.7" fill="#0d3b9c"/>
<circle cx="446.68" cy="123.96" r="1.85" fill="#8a1a9a"/>
<circle cx="447.1" cy="111.9" r="1.7" fill="#3a6b45"/>
<circle cx="438" cy="129.5" r="1.7" fill="#ff0d0d"/>
<path d="M420.2 100.6 L418.2 104.38 L422.2 104.38 Z" fill="#12b5f0"/>
<circle cx="388" cy="189.2" r="1.7" fill="#7b4518"/>
<circle cx="439.9" cy="126.8" r="1.7" fill="#0d3b9c"/>
<circle cx="452" cy="118" r="1.7" fill="#ffb012"/>
<path d="M399.5 107 L397.5 110.78 L401.5 110.78 Z" fill="#12b5f0"/>
<circle cx="458.6" cy="145.7" r="1.7" fill="#7b4518"/>
<circle cx="419.92" cy="125.52" r="1.7" fill="#92198b"/>
<path d="M374.5 126.4 L372.5 130.18 L376.5 130.18 Z" fill="#12b5f0"/>
<circle cx="458.6" cy="121.9" r="1.7" fill="#0d3b9c"/>
<circle cx="470.5" cy="173" r="1.7" fill="#7b4518"/>
<circle cx="402.1" cy="112.7" r="1.7" fill="#ff9bc5"/>
<circle cx="423.73" cy="124.52" r="1.85" fill="#8a1a9a"/>
<circle cx="390.6" cy="124.2" r="1.7" fill="#4c9a2f"/>
<path d="M378.5 121.9 L376.5 125.68 L380.5 125.68 Z" fill="#12b5f0"/>
<circle cx="430.5" cy="123.5" r="1.7" fill="#4c9a2f"/>
<circle cx="387.7" cy="140" r="1.7" fill="#ee1289"/>
<circle cx="417.2" cy="135.2" r="1.7" fill="#3a6b45"/>
<circle cx="461.2" cy="133.7" r="1.7" fill="#ee1289"/>
<circle cx="426" cy="122.5" r="1.7" fill="#4c9a2f"/>
<circle cx="379" cy="131" r="1.7" fill="#ff9bc5"/>
<circle cx="427.5" cy="110.7" r="1.7" fill="#0d3b9c"/>
<circle cx="430.42" cy="126.69" r="1.85" fill="#8a1a9a"/>
<circle cx="401" cy="138.7" r="1.7" fill="#ffb012"/>
<circle cx="452.5" cy="142" r="1.7" fill="#ee1289"/>
<circle cx="446.2" cy="146.2" r="1.7" fill="#ee1289"/>
<circle cx="462.4" cy="109.6" r="1.7" fill="#ffb012"/>
<circle cx="450.5" cy="141.2" r="1.7" fill="#ee1289"/>
<path d="M380 71.6 L378 75.38 L382 75.38 Z" fill="#12b5f0"/>
<circle cx="445" cy="143" r="1.7" fill="#ee1289"/>
<circle cx="393.4" cy="139.2" r="1.7" fill="#ee1289"/>
<circle cx="458.7" cy="137.5" r="1.7" fill="#ee1289"/>
<circle cx="430.2" cy="131.1" r="1.7" fill="#ee1289"/>
<circle cx="445.5" cy="124.5" r="1.7" fill="#ffb012"/>
<circle cx="419.03" cy="119.46" r="1.7" fill="#92198b"/>
<path d="M393.4 109.8 L391.4 113.58 L395.4 113.58 Z" fill="#12b5f0"/>
<circle cx="433.7" cy="100.1" r="1.7" fill="#9b9b9b"/>
<circle cx="397.2" cy="134.1" r="1.7" fill="#ffb012"/>
<circle cx="417.5" cy="121.5" r="1.7" fill="#4c9a2f"/>
<circle cx="460.5" cy="164.5" r="1.7" fill="#7b4518"/>
<circle cx="432" cy="122.5" r="1.7" fill="#0fb22a"/>
<path d="M364.5 127.1 L362.5 130.88 L366.5 130.88 Z" fill="#0fb22a"/>
<circle cx="404.09" cy="125.69" r="1.7" fill="#92198b"/>
<path d="M378 115.9 L376 119.68 L380 119.68 Z" fill="#12b5f0"/>
<circle cx="395" cy="157.5" r="1.7" fill="#ee1289"/>
<circle cx="425.82" cy="121.32" r="1.85" fill="#8a1a9a"/>
<circle cx="451.2" cy="160" r="1.7" fill="#7b4518"/>
<circle cx="448" cy="93.2" r="1.7" fill="#000000"/>
<circle cx="434.5" cy="122" r="1.7" fill="#4c9a2f"/>
<circle cx="434.4" cy="139.8" r="1.7" fill="#ffb012"/>
<path d="M414.2 44.9 L412.2 48.68 L416.2 48.68 Z" fill="#000000"/>
<circle cx="388.5" cy="115.7" r="1.7" fill="#4c9a2f"/>
<path d="M376.5 124.4 L374.5 128.18 L378.5 128.18 Z" fill="#12b5f0"/>
<circle cx="417.5" cy="156.2" r="1.7" fill="#ee1289"/>
<circle cx="436" cy="125.5" r="1.7" fill="#3a6b45"/>
<circle cx="468.2" cy="155.7" r="1.7" fill="#7b4518"/>
<circle cx="421.5" cy="139.5" r="1.7" fill="#3a6b45"/>
<circle cx="448.9" cy="101.4" r="1.7" fill="#ffb012"/>
<circle cx="429.7" cy="127.2" r="1.7" fill="#0d3b9c"/>
<path d="M454.5 82.9 L452.5 86.68 L456.5 86.68 Z" fill="#12b5f0"/>
<circle cx="412.75" cy="127.31" r="1.7" fill="#92198b"/>
<circle cx="383.1" cy="148.7" r="1.7" fill="#ee1289"/>
<circle cx="386.5" cy="122.6" r="1.7" fill="#4c9a2f"/>
<circle cx="460.9" cy="130.3" r="1.7" fill="#ee1289"/>
<circle cx="455" cy="126" r="1.7" fill="#3a6b45"/>
<circle cx="413.3" cy="108.4" r="1.7" fill="#0d3b9c"/>
<circle cx="424.2" cy="181.7" r="1.7" fill="#7b4518"/>
<circle cx="435.47" cy="118.89" r="1.85" fill="#8a1a9a"/>
<circle cx="445.6" cy="132.1" r="1.7" fill="#0fb22a"/>
<circle cx="392" cy="175" r="1.7" fill="#7b4518"/>
<path d="M370 101.1 L368 104.88 L372 104.88 Z" fill="#12b5f0"/>
<circle cx="455.05" cy="116.69" r="1.85" fill="#8a1a9a"/>
<circle cx="393.2" cy="57.5" r="1.7" fill="#000000"/>
<circle cx="404.1" cy="120.3" r="1.7" fill="#4c9a2f"/>
<circle cx="398.4" cy="115" r="1.7" fill="#ffb012"/>
<circle cx="464.2" cy="94.5" r="1.7" fill="#ff9bc5"/>
<path d="M375.4 107.9 L373.4 111.68 L377.4 111.68 Z" fill="#12b5f0"/>
<path d="M417.9 104.4 L415.9 108.18 L419.9 108.18 Z" fill="#ffb012"/>
<circle cx="388" cy="128.5" r="1.7" fill="#ff9bc5"/>
<circle cx="432" cy="116.5" r="1.7" fill="#ff9bc5"/>
<circle cx="458.6" cy="117.7" r="1.7" fill="#3a6b45"/>
<path d="M407 97.9 L405 101.68 L409 101.68 Z" fill="#12b5f0"/>
<circle cx="472.5" cy="124.2" r="1.7" fill="#ffb012"/>
<circle cx="456" cy="112" r="1.7" fill="#ffb012"/>
<path d="M373.9 142 L371.9 145.78 L375.9 145.78 Z" fill="#0fb22a"/>
<path d="M367 124.4 L365 128.18 L369 128.18 Z" fill="#12b5f0"/>
<circle cx="448.7" cy="101.2" r="1.7" fill="#ffb012"/>
<path d="M380 125.9 L378 129.68 L382 129.68 Z" fill="#12b5f0"/>
<circle cx="466.5" cy="180" r="1.7" fill="#7b4518"/>
<circle cx="412.5" cy="153.2" r="1.7" fill="#ffb012"/>
<circle cx="442.5" cy="130.3" r="1.7" fill="#ff0d0d"/>
<circle cx="456.2" cy="155" r="1.7" fill="#7b4518"/>
<circle cx="443.3" cy="132.6" r="1.7" fill="#ff0d0d"/>
<circle cx="396.2" cy="180" r="1.7" fill="#7b4518"/>
<circle cx="410" cy="125.02" r="1.7" fill="#92198b"/>
<path d="M392 81.6 L390 85.38 L394 85.38 Z" fill="#12b5f0"/>
<circle cx="441" cy="123" r="1.7" fill="#ee1289"/>
<circle cx="415.6" cy="137.7" r="1.7" fill="#ffb012"/>
<circle cx="423.44" cy="131.5" r="1.7" fill="#92198b"/>
<circle cx="390.8" cy="131.4" r="1.7" fill="#3a6b45"/>
<circle cx="407.2" cy="147.2" r="1.7" fill="#ee1289"/>
<circle cx="424.44" cy="121.5" r="1.85" fill="#8a1a9a"/>
<circle cx="408" cy="105.4" r="1.7" fill="#ffb012"/>
<circle cx="441" cy="131.4" r="1.7" fill="#ff0d0d"/>
<circle cx="430.39" cy="118.05" r="1.85" fill="#8a1a9a"/>
<path d="M370.5 125.4 L368.5 129.18 L372.5 129.18 Z" fill="#12b5f0"/>
<circle cx="409.65" cy="122.31" r="1.7" fill="#92198b"/>
<circle cx="373" cy="134.6" r="1.7" fill="#ff9bc5"/>
<path d="M418 44.1 L416 47.88 L420 47.88 Z" fill="#12b5f0"/>
<circle cx="412.1" cy="136.1" r="1.7" fill="#ee1289"/>
<circle cx="451.7" cy="140.7" r="1.7" fill="#ee1289"/>
<circle cx="438.65" cy="117.45" r="1.85" fill="#8a1a9a"/>
<circle cx="478.7" cy="155" r="1.7" fill="#7b4518"/>
<circle cx="400" cy="127.5" r="1.7" fill="#ee1289"/>
<path d="M394.1 119 L392.1 122.78 L396.1 122.78 Z" fill="#12b5f0"/>
<circle cx="462.5" cy="160.7" r="1.7" fill="#7b4518"/>
<circle cx="437.4" cy="122.37" r="1.85" fill="#8a1a9a"/>
<path d="M365.5 117.9 L363.5 121.68 L367.5 121.68 Z" fill="#12b5f0"/>
<path d="M386.8 130.2 L384.8 133.98 L388.8 133.98 Z" fill="#0fb22a"/>
<path d="M407.2 97.9 L405.2 101.68 L409.2 101.68 Z" fill="#12b5f0"/>
<path d="M377 128.4 L375 132.18 L379 132.18 Z" fill="#12b5f0"/>
<circle cx="393.4" cy="131.4" r="1.7" fill="#ff9bc5"/>
<path d="M375 120.4 L373 124.18 L377 124.18 Z" fill="#12b5f0"/>
<path d="M393.7 109.6 L391.7 113.38 L395.7 113.38 Z" fill="#12b5f0"/>
<path d="M380.5 129.4 L378.5 133.18 L382.5 133.18 Z" fill="#12b5f0"/>
<circle cx="436" cy="128.5" r="1.7" fill="#ee1289"/>
<path d="M373.4 127.9 L371.4 131.68 L375.4 131.68 Z" fill="#0fb22a"/>
<circle cx="410.5" cy="119.5" r="1.7" fill="#4c9a2f"/>
<circle cx="429.25" cy="124.69" r="1.85" fill="#8a1a9a"/>
<circle cx="418.9" cy="126.42" r="1.7" fill="#92198b"/>
<circle cx="438.7" cy="162.5" r="1.7" fill="#7b4518"/>
<circle cx="416.4" cy="143" r="1.7" fill="#3a6b45"/>
<circle cx="383.4" cy="130.6" r="1.7" fill="#ff9bc5"/>
<circle cx="450" cy="121.5" r="1.7" fill="#ffb012"/>
<circle cx="450.9" cy="130" r="1.7" fill="#7b4518"/>
<circle cx="428" cy="124" r="1.7" fill="#ffb012"/>
<circle cx="427" cy="119" r="1.7" fill="#4c9a2f"/>
<circle cx="419.2" cy="158.7" r="1.7" fill="#ee1289"/>
<path d="M369.5 129.4 L367.5 133.18 L371.5 133.18 Z" fill="#12b5f0"/>
<circle cx="391.7" cy="191.2" r="1.7" fill="#7b4518"/>
<path d="M425.5 35.9 L423.5 39.68 L427.5 39.68 Z" fill="#12b5f0"/>
<circle cx="462.4" cy="132.6" r="1.7" fill="#ee1289"/>
<circle cx="407.08" cy="128.32" r="1.7" fill="#92198b"/>
<circle cx="445.27" cy="123.47" r="1.85" fill="#8a1a9a"/>
<circle cx="442.33" cy="120.18" r="1.85" fill="#8a1a9a"/>
<circle cx="453.42" cy="122.61" r="1.85" fill="#8a1a9a"/>
<path d="M405.7 49.6 L403.7 53.38 L407.7 53.38 Z" fill="#000000"/>
<circle cx="436.68" cy="121.6" r="1.85" fill="#8a1a9a"/>
<circle cx="399.5" cy="180" r="1.7" fill="#7b4518"/>
<circle cx="462.4" cy="134.6" r="1.7" fill="#3a6b45"/>
<circle cx="439.97" cy="123.72" r="1.85" fill="#8a1a9a"/>
<path d="M379.5 118.9 L377.5 122.68 L381.5 122.68 Z" fill="#12b5f0"/>
<circle cx="423.7" cy="163.2" r="1.7" fill="#ee1289"/>
<path d="M365.4 117.5 L363.4 121.28 L367.4 121.28 Z" fill="#12b5f0"/>
<circle cx="436.65" cy="122.72" r="1.85" fill="#8a1a9a"/>
<circle cx="445.23" cy="117.24" r="1.85" fill="#8a1a9a"/>
<circle cx="413.2" cy="108" r="1.7" fill="#0d3b9c"/>
<circle cx="412" cy="121" r="1.7" fill="#4c9a2f"/>
<circle cx="444.8" cy="121.9" r="1.7" fill="#0fb22a"/>
<circle cx="426.16" cy="126.91" r="1.85" fill="#8a1a9a"/>
<circle cx="431.2" cy="160.7" r="1.7" fill="#7b4518"/>
<circle cx="433.2" cy="170" r="1.7" fill="#ee1289"/>
<circle cx="429.5" cy="121.5" r="1.7" fill="#4c9a2f"/>
<circle cx="378.8" cy="127.2" r="1.7" fill="#4c9a2f"/>
<circle cx="438.53" cy="118.95" r="1.85" fill="#8a1a9a"/>
<circle cx="405.7" cy="115.7" r="1.7" fill="#ffb012"/>
<circle cx="443.7" cy="153" r="1.7" fill="#ee1289"/>
<circle cx="455.5" cy="131.1" r="1.7" fill="#ff0d0d"/>
<circle cx="452.11" cy="118.41" r="1.85" fill="#8a1a9a"/>
<circle cx="402.6" cy="130" r="1.7" fill="#ffb012"/>
<circle cx="433.64" cy="124.95" r="1.85" fill="#8a1a9a"/>
<path d="M431 94.7 L429 98.48 L433 98.48 Z" fill="#ffb012"/>
<circle cx="452" cy="122.5" r="1.7" fill="#3a6b45"/>
<circle cx="399.01" cy="127.77" r="1.7" fill="#92198b"/>
<circle cx="433.02" cy="121.18" r="1.85" fill="#8a1a9a"/>
<path d="M385 126.9 L383 130.68 L387 130.68 Z" fill="#12b5f0"/>
<circle cx="443.7" cy="156.2" r="1.7" fill="#ee1289"/>
<circle cx="438.95" cy="121.56" r="1.85" fill="#8a1a9a"/>
<circle cx="371.3" cy="123.8" r="1.7" fill="#000000"/>
<path d="M364.5 126.4 L362.5 130.18 L366.5 130.18 Z" fill="#0fb22a"/>
<circle cx="461.7" cy="124.9" r="1.7" fill="#3a6b45"/>
<path d="M368.5 122.4 L366.5 126.18 L370.5 126.18 Z" fill="#12b5f0"/>
<circle cx="465.5" cy="121.1" r="1.7" fill="#ee1289"/>
<circle cx="415" cy="123.5" r="1.7" fill="#4c9a2f"/>
<circle cx="460.9" cy="106.5" r="1.7" fill="#ffb012"/>
<circle cx="442" cy="109.6" r="1.7" fill="#ffb012"/>
<circle cx="406.7" cy="181.2" r="1.7" fill="#7b4518"/>
<path d="M454.5 112.1 L452.5 115.88 L456.5 115.88 Z" fill="#ffb012"/>
<circle cx="430" cy="159.5" r="1.7" fill="#7b4518"/>
<circle cx="440" cy="117" r="1.7" fill="#3a6b45"/>
<circle cx="437" cy="105.7" r="1.7" fill="#9b9b9b"/>
<circle cx="433.2" cy="155" r="1.7" fill="#ee1289"/>
<circle cx="448.2" cy="167.5" r="1.7" fill="#7b4518"/>
<circle cx="415.71" cy="127.34" r="1.7" fill="#92198b"/>
<circle cx="415.5" cy="153.7" r="1.7" fill="#ffb012"/>
<circle cx="450.5" cy="170" r="1.7" fill="#7b4518"/>
<path d="M386.5 133.4 L384.5 137.18 L388.5 137.18 Z" fill="#12b5f0"/>
<circle cx="424.52" cy="126.75" r="1.7" fill="#92198b"/>
<circle cx="433.3" cy="130.3" r="1.7" fill="#0fb22a"/>
<circle cx="447" cy="127" r="1.7" fill="#ee1289"/>
<circle cx="405.7" cy="134.6" r="1.7" fill="#ee1289"/>
<circle cx="437" cy="120.5" r="1.7" fill="#4c9a2f"/>
<circle cx="449.5" cy="128.5" r="1.7" fill="#ff0d0d"/>
<circle cx="398.4" cy="119.6" r="1.7" fill="#ffb012"/>
<circle cx="443" cy="120.5" r="1.7" fill="#ff9bc5"/>
<circle cx="461.7" cy="167.5" r="1.7" fill="#7b4518"/>
<path d="M411.8 94.7 L409.8 98.48 L413.8 98.48 Z" fill="#ffb012"/>
<circle cx="430" cy="93" r="1.7" fill="#ffb012"/>
<circle cx="398.2" cy="164.5" r="1.7" fill="#7b4518"/>
<circle cx="460" cy="130" r="1.7" fill="#ee1289"/>
<circle cx="437" cy="118" r="1.7" fill="#ffb012"/>
<circle cx="451.7" cy="135.2" r="1.7" fill="#ee1289"/>
<circle cx="461.7" cy="115.7" r="1.7" fill="#ffb012"/>
<path d="M428.2 69.9 L426.2 73.68 L430.2 73.68 Z" fill="#12b5f0"/>
<path d="M373 123.4 L371 127.18 L375 127.18 Z" fill="#12b5f0"/>
<circle cx="464.5" cy="157" r="1.7" fill="#7b4518"/>
<circle cx="447.1" cy="132.6" r="1.7" fill="#ff0d0d"/>
<circle cx="432.5" cy="119.5" r="1.7" fill="#4c9a2f"/>
<circle cx="413" cy="125" r="1.7" fill="#4c9a2f"/>
<circle cx="439.64" cy="119.36" r="1.85" fill="#8a1a9a"/>
<circle cx="425" cy="118.5" r="1.7" fill="#0fb22a"/>
<circle cx="390" cy="176.2" r="1.7" fill="#7b4518"/>
<path d="M434.2 90.4 L432.2 94.18 L436.2 94.18 Z" fill="#12b5f0"/>
<line x1="423.5" y1="127.5" x2="388.2" y2="60" stroke="#ad76ff" stroke-width="0.8" opacity="0.75"/>
<line x1="423.5" y1="127.5" x2="370" y2="78" stroke="#ad76ff" stroke-width="0.8" opacity="0.75"/>
<line x1="423.5" y1="127.5" x2="411.7" y2="82.5" stroke="#ad76ff" stroke-width="0.8" opacity="0.75"/>
<line x1="423.5" y1="127.5" x2="465" y2="148.7" stroke="#ad76ff" stroke-width="0.8" opacity="0.75"/>
<line x1="423.5" y1="127.5" x2="477" y2="176.2" stroke="#ad76ff" stroke-width="0.8" opacity="0.75"/>
<text x="364.5" y="47.3" font-size="9.6" text-anchor="start" font-weight="bold" fill="#8420ff">Water</text>
<text x="363.5" y="56.5" font-size="9.6" text-anchor="start" font-weight="bold" fill="#8420ff">depth</text>
<text x="346" y="78.5" font-size="9.6" text-anchor="start" font-weight="bold" fill="#8420ff" textLength="21.5">Oxic</text>
<text x="401" y="80.6" font-size="9.6" text-anchor="start" font-weight="bold" fill="#8420ff">SO4</text>
<text x="340" y="141.7" font-size="9.6" text-anchor="start" font-weight="bold" fill="#8420ff" textLength="43">Sediment</text>
<text x="340" y="151.7" font-size="9.6" text-anchor="start" font-weight="bold" fill="#8420ff">depth</text>
<text x="466.3" y="151.9" font-size="10" text-anchor="start" font-weight="bold" fill="#8420ff">TOC</text>
<text x="471.8" y="186.9" font-size="9.6" text-anchor="start" font-weight="bold" fill="#8420ff" textLength="31.5">Anoxic</text>
<rect x="330.5" y="34.5" width="185.5" height="185" fill="none" stroke="#111" stroke-width="1"/>
<path d="M330 34.5 H516.62" fill="none" stroke="#5c5c5c" stroke-width="1.2"/>
<path d="M516 34.5 V220" fill="none" stroke="#5c5c5c" stroke-width="1.25"/>
<text x="326.7" y="39.7" font-size="11.2" text-anchor="end" font-weight="normal" fill="#000" textLength="16.81" lengthAdjust="spacingAndGlyphs">0.6</text>
<text x="326.7" y="130.7" font-size="11.2" text-anchor="end" font-weight="normal" fill="#000" textLength="16.81" lengthAdjust="spacingAndGlyphs">0.0</text>
<text x="326.7" y="223.2" font-size="11.2" text-anchor="end" font-weight="normal" fill="#000" textLength="20.84" lengthAdjust="spacingAndGlyphs">-0.6</text>
<text x="330" y="230.8" font-size="11.2" text-anchor="middle" font-weight="normal" fill="#000" textLength="20.84" lengthAdjust="spacingAndGlyphs">-0.6</text>
<text x="424" y="230.8" font-size="11.2" text-anchor="middle" font-weight="normal" fill="#000" textLength="16.81" lengthAdjust="spacingAndGlyphs">0.0</text>
<text x="513.7" y="230.8" font-size="11.2" text-anchor="middle" font-weight="normal" fill="#000" textLength="16.81" lengthAdjust="spacingAndGlyphs">0.6</text>
<text x="423.3" y="244.7" font-size="10.9" text-anchor="middle" font-weight="normal" fill="#000">MDS1</text>
<text x="308.6" y="127.5" font-size="10.9" text-anchor="middle" font-weight="normal" fill="#000" transform="rotate(-90 308.6 127.5)">MDS2</text>
<text x="500.8" y="54.5" font-size="13.6" text-anchor="end" font-weight="bold" fill="#000">Bacteria</text>
<text x="512.8" y="214.3" font-size="10.2" text-anchor="end" font-weight="normal" fill="#000">stress = 0.166</text>
<text transform="translate(570 29.3) scale(1.1 1)" font-size="18.3">C</text>
<line x1="712.5" y1="35.8" x2="712.5" y2="220.5" stroke="#222" stroke-width="0.7" stroke-dasharray="1.3 1.7"/>
<line x1="619.5" y1="128.5" x2="804.7" y2="128.5" stroke="#222" stroke-width="0.7" stroke-dasharray="1.3 1.7"/>
<path d="M658 33.4 L658 26.06 L658.67 22.75 L659.33 21.49 L660 20.4 L660.67 18.97 L661.33 17.58 L662 16.28 L662.67 15.12 L663.33 14.11 L664 13.17 L664.67 12.35 L665.33 11.72 L666 11.26 L666.67 10.88 L667.33 10.7 L668 10.79 L668.67 11.04 L669.33 11.41 L670 11.8 L670.67 12.27 L671.33 12.89 L672 13.61 L672.67 14.38 L673.33 15.16 L674 15.9 L674.67 16.62 L675.33 17.37 L676 18.13 L676.67 18.89 L677.33 19.64 L678 20.37 L678.67 21.07 L679.33 21.72 L680 22.36 L680.67 22.99 L681.33 23.6 L682 24.19 L682.67 24.75 L683.33 25.29 L684 25.8 L684.67 26.29 L685.33 26.78 L686 27.24 L686.67 27.67 L687.33 28.06 L688 28.4 L688.67 28.7 L689.33 28.99 L690 29.26 L690.67 29.5 L691.33 29.73 L692 29.94 L692.67 30.12 L693.33 30.28 L694 30.43 L694.67 30.56 L695.33 30.69 L696 30.81 L696.67 30.92 L697.33 31.03 L698 31.13 L698.67 31.22 L699.33 31.31 L700 31.4 L700.67 31.49 L701.33 31.58 L702 31.67 L702.67 31.76 L703.33 31.84 L704 31.92 L704.67 31.98 L705.33 32.04 L706 32.08 L706.67 32.1 L707.33 32.09 L708 32.06 L708.67 32 L709.33 31.92 L710 31.84 L710.67 31.77 L711.33 31.72 L712 31.7 L712.67 31.72 L713.33 31.76 L714 31.83 L714.67 31.91 L715.33 31.99 L716 32.07 L716.67 32.14 L717.33 32.18 L718 32.2 L718.67 32.19 L719.33 32.16 L720 32.12 L720.67 32.07 L721.33 32.01 L722 31.96 L722.67 31.9 L723.33 31.86 L724 31.82 L724.67 31.8 L725.33 31.8 L726 31.83 L726.67 31.89 L727.33 31.96 L728 32.04 L728.67 32.12 L729.33 32.21 L730 32.28 L730.67 32.34 L731.33 32.38 L732 32.4 L732.67 32.37 L733.33 32.27 L734 32.14 L734.67 31.98 L735.33 31.82 L736 31.66 L736.67 31.53 L737.33 31.43 L738 31.4 L738.67 31.44 L739.33 31.54 L740 31.69 L740.67 31.86 L741.33 32.04 L742 32.21 L742.67 32.35 L743.33 32.44 L744 32.53 L744.67 32.62 L745.33 32.69 L746 32.77 L746.67 32.83 L747.33 32.89 L748 32.94 L748.67 32.98 L749.33 33.01 L750 33.04 L750.67 33.07 L751.33 33.09 L752 33.12 L752.67 33.14 L753.33 33.16 L754 33.18 L754.67 33.19 L755.33 33.21 L756 33.22 L756.67 33.24 L757.33 33.25 L758 33.26 L758.67 33.28 L759.33 33.29 L760 33.3 L760.67 33.31 L761.33 33.32 L762 33.33 L762.67 33.34 L763.33 33.35 L764 33.36 L764.67 33.37 L765.33 33.38 L766 33.38 L766.67 33.39 L767.33 33.4 L768 33.4 L768 33.4 Z" fill="#1cd6da"/>
<path d="M658 33.4 L658 33.36 L658.67 33.27 L659.33 33.18 L660 33.1 L660.67 33.02 L661.33 32.95 L662 32.87 L662.67 32.8 L663.33 32.73 L664 32.66 L664.67 32.59 L665.33 32.52 L666 32.45 L666.67 32.37 L667.33 32.29 L668 32.2 L668.67 32.11 L669.33 32 L670 31.9 L670.67 31.79 L671.33 31.67 L672 31.55 L672.67 31.43 L673.33 31.3 L674 31.18 L674.67 31.05 L675.33 30.93 L676 30.8 L676.67 30.67 L677.33 30.54 L678 30.41 L678.67 30.28 L679.33 30.15 L680 30.01 L680.67 29.87 L681.33 29.74 L682 29.6 L682.67 29.47 L683.33 29.33 L684 29.2 L684.67 29.07 L685.33 28.93 L686 28.8 L686.67 28.67 L687.33 28.53 L688 28.4 L688.67 28.26 L689.33 28.11 L690 27.96 L690.67 27.8 L691.33 27.65 L692 27.51 L692.67 27.39 L693.33 27.28 L694 27.2 L694.67 27.14 L695.33 27.08 L696 27.03 L696.67 26.98 L697.33 26.94 L698 26.9 L698.67 26.87 L699.33 26.83 L700 26.8 L700.67 26.77 L701.33 26.74 L702 26.72 L702.67 26.7 L703.33 26.67 L704 26.65 L704.67 26.63 L705.33 26.61 L706 26.59 L706.67 26.56 L707.33 26.53 L708 26.5 L708.67 26.46 L709.33 26.42 L710 26.37 L710.67 26.32 L711.33 26.27 L712 26.21 L712.67 26.15 L713.33 26.08 L714 26.01 L714.67 25.94 L715.33 25.87 L716 25.8 L716.67 25.72 L717.33 25.63 L718 25.53 L718.67 25.42 L719.33 25.31 L720 25.2 L720.67 25.08 L721.33 24.97 L722 24.87 L722.67 24.77 L723.33 24.68 L724 24.6 L724.67 24.53 L725.33 24.45 L726 24.37 L726.67 24.29 L727.33 24.22 L728 24.16 L728.67 24.1 L729.33 24.05 L730 24.02 L730.67 24 L731.33 24 L732 24.01 L732.67 24.02 L733.33 24.04 L734 24.07 L734.67 24.1 L735.33 24.13 L736 24.16 L736.67 24.19 L737.33 24.21 L738 24.24 L738.67 24.26 L739.33 24.29 L740 24.33 L740.67 24.37 L741.33 24.44 L742 24.56 L742.67 24.74 L743.33 24.96 L744 25.21 L744.67 25.47 L745.33 25.74 L746 26 L746.67 26.27 L747.33 26.56 L748 26.87 L748.67 27.2 L749.33 27.53 L750 27.87 L750.67 28.19 L751.33 28.51 L752 28.8 L752.67 29.08 L753.33 29.36 L754 29.63 L754.67 29.9 L755.33 30.16 L756 30.42 L756.67 30.66 L757.33 30.89 L758 31.1 L758.67 31.3 L759.33 31.49 L760 31.67 L760.67 31.84 L761.33 32.01 L762 32.17 L762.67 32.32 L763.33 32.47 L764 32.62 L764.67 32.76 L765.33 32.9 L766 33.03 L766.67 33.16 L767.33 33.28 L768 33.4 L768 33.4 Z" fill="#fcbeb9"/>
<path d="M658 33.4 L658 33.36 L658.67 33.27 L659.33 33.18 L660 33.1 L660.67 33.02 L661.33 32.95 L662 32.87 L662.67 32.8 L663.33 32.73 L664 32.66 L664.67 32.59 L665.33 32.52 L666 32.45 L666.67 32.37 L667.33 32.29 L668 32.2 L668.67 32.11 L669.33 32 L670 31.9 L670.67 31.79 L671.33 31.67 L672 31.55 L672.67 31.43 L673.33 31.3 L674 31.18 L674.67 31.05 L675.33 30.93 L676 30.8 L676.67 30.67 L677.33 30.54 L678 30.41 L678.67 30.28 L679.33 30.15 L680 30.01 L680.67 29.87 L681.33 29.74 L682 29.6 L682.67 29.47 L683.33 29.33 L684 29.2 L684.67 29.07 L685.33 28.93 L686 28.8 L686.67 28.67 L687.33 28.53 L688 28.4 L688.67 28.7 L689.33 28.99 L690 29.26 L690.67 29.5 L691.33 29.73 L692 29.94 L692.67 30.12 L693.33 30.28 L694 30.43 L694.67 30.56 L695.33 30.69 L696 30.81 L696.67 30.92 L697.33 31.03 L698 31.13 L698.67 31.22 L699.33 31.31 L700 31.4 L700.67 31.49 L701.33 31.58 L702 31.67 L702.67 31.76 L703.33 31.84 L704 31.92 L704.67 31.98 L705.33 32.04 L706 32.08 L706.67 32.1 L707.33 32.09 L708 32.06 L708.67 32 L709.33 31.92 L710 31.84 L710.67 31.77 L711.33 31.72 L712 31.7 L712.67 31.72 L713.33 31.76 L714 31.83 L714.67 31.91 L715.33 31.99 L716 32.07 L716.67 32.14 L717.33 32.18 L718 32.2 L718.67 32.19 L719.33 32.16 L720 32.12 L720.67 32.07 L721.33 32.01 L722 31.96 L722.67 31.9 L723.33 31.86 L724 31.82 L724.67 31.8 L725.33 31.8 L726 31.83 L726.67 31.89 L727.33 31.96 L728 32.04 L728.67 32.12 L729.33 32.21 L730 32.28 L730.67 32.34 L731.33 32.38 L732 32.4 L732.67 32.37 L733.33 32.27 L734 32.14 L734.67 31.98 L735.33 31.82 L736 31.66 L736.67 31.53 L737.33 31.43 L738 31.4 L738.67 31.44 L739.33 31.54 L740 31.69 L740.67 31.86 L741.33 32.04 L742 32.21 L742.67 32.35 L743.33 32.44 L744 32.53 L744.67 32.62 L745.33 32.69 L746 32.77 L746.67 32.83 L747.33 32.89 L748 32.94 L748.67 32.98 L749.33 33.01 L750 33.04 L750.67 33.07 L751.33 33.09 L752 33.12 L752.67 33.14 L753.33 33.16 L754 33.18 L754.67 33.19 L755.33 33.21 L756 33.22 L756.67 33.24 L757.33 33.25 L758 33.26 L758.67 33.28 L759.33 33.29 L760 33.3 L760.67 33.31 L761.33 33.32 L762 33.33 L762.67 33.34 L763.33 33.35 L764 33.36 L764.67 33.37 L765.33 33.38 L766 33.38 L766.67 33.39 L767.33 33.4 L768 33.4 L768 33.4 Z" fill="#c0a8a4"/>
<path d="M658 33.4 L658 26.06 L658.67 22.75 L659.33 21.49 L660 20.4 L660.67 18.97 L661.33 17.58 L662 16.28 L662.67 15.12 L663.33 14.11 L664 13.17 L664.67 12.35 L665.33 11.72 L666 11.26 L666.67 10.88 L667.33 10.7 L668 10.79 L668.67 11.04 L669.33 11.41 L670 11.8 L670.67 12.27 L671.33 12.89 L672 13.61 L672.67 14.38 L673.33 15.16 L674 15.9 L674.67 16.62 L675.33 17.37 L676 18.13 L676.67 18.89 L677.33 19.64 L678 20.37 L678.67 21.07 L679.33 21.72 L680 22.36 L680.67 22.99 L681.33 23.6 L682 24.19 L682.67 24.75 L683.33 25.29 L684 25.8 L684.67 26.29 L685.33 26.78 L686 27.24 L686.67 27.67 L687.33 28.06 L688 28.4 L688.67 28.7 L689.33 28.99 L690 29.26 L690.67 29.5 L691.33 29.73 L692 29.94 L692.67 30.12 L693.33 30.28 L694 30.43 L694.67 30.56 L695.33 30.69 L696 30.81 L696.67 30.92 L697.33 31.03 L698 31.13 L698.67 31.22 L699.33 31.31 L700 31.4 L700.67 31.49 L701.33 31.58 L702 31.67 L702.67 31.76 L703.33 31.84 L704 31.92 L704.67 31.98 L705.33 32.04 L706 32.08 L706.67 32.1 L707.33 32.09 L708 32.06 L708.67 32 L709.33 31.92 L710 31.84 L710.67 31.77 L711.33 31.72 L712 31.7 L712.67 31.72 L713.33 31.76 L714 31.83 L714.67 31.91 L715.33 31.99 L716 32.07 L716.67 32.14 L717.33 32.18 L718 32.2 L718.67 32.19 L719.33 32.16 L720 32.12 L720.67 32.07 L721.33 32.01 L722 31.96 L722.67 31.9 L723.33 31.86 L724 31.82 L724.67 31.8 L725.33 31.8 L726 31.83 L726.67 31.89 L727.33 31.96 L728 32.04 L728.67 32.12 L729.33 32.21 L730 32.28 L730.67 32.34 L731.33 32.38 L732 32.4 L732.67 32.37 L733.33 32.27 L734 32.14 L734.67 31.98 L735.33 31.82 L736 31.66 L736.67 31.53 L737.33 31.43 L738 31.4 L738.67 31.44 L739.33 31.54 L740 31.69 L740.67 31.86 L741.33 32.04 L742 32.21 L742.67 32.35 L743.33 32.44 L744 32.53 L744.67 32.62 L745.33 32.69 L746 32.77 L746.67 32.83 L747.33 32.89 L748 32.94 L748.67 32.98 L749.33 33.01 L750 33.04 L750.67 33.07 L751.33 33.09 L752 33.12 L752.67 33.14 L753.33 33.16 L754 33.18 L754.67 33.19 L755.33 33.21 L756 33.22 L756.67 33.24 L757.33 33.25 L758 33.26 L758.67 33.28 L759.33 33.29 L760 33.3 L760.67 33.31 L761.33 33.32 L762 33.33 L762.67 33.34 L763.33 33.35 L764 33.36 L764.67 33.37 L765.33 33.38 L766 33.38 L766.67 33.39 L767.33 33.4 L768 33.4 L768 33.4" fill="none" stroke="#00bfc4" stroke-width="0.9" stroke-linejoin="round"/>
<path d="M658 33.4 L658 33.36 L658.67 33.27 L659.33 33.18 L660 33.1 L660.67 33.02 L661.33 32.95 L662 32.87 L662.67 32.8 L663.33 32.73 L664 32.66 L664.67 32.59 L665.33 32.52 L666 32.45 L666.67 32.37 L667.33 32.29 L668 32.2 L668.67 32.11 L669.33 32 L670 31.9 L670.67 31.79 L671.33 31.67 L672 31.55 L672.67 31.43 L673.33 31.3 L674 31.18 L674.67 31.05 L675.33 30.93 L676 30.8 L676.67 30.67 L677.33 30.54 L678 30.41 L678.67 30.28 L679.33 30.15 L680 30.01 L680.67 29.87 L681.33 29.74 L682 29.6 L682.67 29.47 L683.33 29.33 L684 29.2 L684.67 29.07 L685.33 28.93 L686 28.8 L686.67 28.67 L687.33 28.53 L688 28.4 L688.67 28.26 L689.33 28.11 L690 27.96 L690.67 27.8 L691.33 27.65 L692 27.51 L692.67 27.39 L693.33 27.28 L694 27.2 L694.67 27.14 L695.33 27.08 L696 27.03 L696.67 26.98 L697.33 26.94 L698 26.9 L698.67 26.87 L699.33 26.83 L700 26.8 L700.67 26.77 L701.33 26.74 L702 26.72 L702.67 26.7 L703.33 26.67 L704 26.65 L704.67 26.63 L705.33 26.61 L706 26.59 L706.67 26.56 L707.33 26.53 L708 26.5 L708.67 26.46 L709.33 26.42 L710 26.37 L710.67 26.32 L711.33 26.27 L712 26.21 L712.67 26.15 L713.33 26.08 L714 26.01 L714.67 25.94 L715.33 25.87 L716 25.8 L716.67 25.72 L717.33 25.63 L718 25.53 L718.67 25.42 L719.33 25.31 L720 25.2 L720.67 25.08 L721.33 24.97 L722 24.87 L722.67 24.77 L723.33 24.68 L724 24.6 L724.67 24.53 L725.33 24.45 L726 24.37 L726.67 24.29 L727.33 24.22 L728 24.16 L728.67 24.1 L729.33 24.05 L730 24.02 L730.67 24 L731.33 24 L732 24.01 L732.67 24.02 L733.33 24.04 L734 24.07 L734.67 24.1 L735.33 24.13 L736 24.16 L736.67 24.19 L737.33 24.21 L738 24.24 L738.67 24.26 L739.33 24.29 L740 24.33 L740.67 24.37 L741.33 24.44 L742 24.56 L742.67 24.74 L743.33 24.96 L744 25.21 L744.67 25.47 L745.33 25.74 L746 26 L746.67 26.27 L747.33 26.56 L748 26.87 L748.67 27.2 L749.33 27.53 L750 27.87 L750.67 28.19 L751.33 28.51 L752 28.8 L752.67 29.08 L753.33 29.36 L754 29.63 L754.67 29.9 L755.33 30.16 L756 30.42 L756.67 30.66 L757.33 30.89 L758 31.1 L758.67 31.3 L759.33 31.49 L760 31.67 L760.67 31.84 L761.33 32.01 L762 32.17 L762.67 32.32 L763.33 32.47 L764 32.62 L764.67 32.76 L765.33 32.9 L766 33.03 L766.67 33.16 L767.33 33.28 L768 33.4 L768 33.4" fill="none" stroke="#f8766d" stroke-width="0.9" stroke-linejoin="round"/>
<text x="629.7" y="19.8" font-size="8.7" text-anchor="start" font-weight="normal" fill="#00bfc4" textLength="26.2" lengthAdjust="spacingAndGlyphs">Aerobic</text>
<text x="767" y="19.8" font-size="8.7" text-anchor="start" font-weight="normal" fill="#f8766d" textLength="35.5" lengthAdjust="spacingAndGlyphs">Anaerobic</text>
<path d="M807.5 61.2 L810.1 61.2 L810.18 61.87 L810.24 62.54 L810.3 63.21 L810.34 63.87 L810.38 64.54 L810.41 65.21 L810.44 65.88 L810.46 66.55 L810.48 67.22 L810.49 67.88 L810.51 68.55 L810.52 69.22 L810.53 69.89 L810.54 70.56 L810.55 71.23 L810.57 71.89 L810.59 72.56 L810.61 73.23 L810.64 73.9 L810.67 74.57 L810.72 75.24 L810.76 75.9 L810.82 76.57 L810.87 77.24 L810.93 77.91 L811 78.58 L811.07 79.25 L811.15 79.91 L811.22 80.58 L811.31 81.25 L811.39 81.92 L811.48 82.59 L811.57 83.26 L811.67 83.92 L811.76 84.59 L811.86 85.26 L811.97 85.93 L812.07 86.6 L812.18 87.27 L812.29 87.93 L812.4 88.6 L812.53 89.27 L812.67 89.94 L812.81 90.61 L812.96 91.28 L813.12 91.94 L813.29 92.61 L813.45 93.28 L813.63 93.95 L813.8 94.62 L813.98 95.29 L814.16 95.95 L814.34 96.62 L814.51 97.29 L814.69 97.96 L814.86 98.63 L815.04 99.3 L815.22 99.96 L815.4 100.63 L815.58 101.3 L815.77 101.97 L815.95 102.64 L816.14 103.31 L816.33 103.97 L816.52 104.64 L816.71 105.31 L816.91 105.98 L817.1 106.65 L817.3 107.32 L817.5 107.98 L817.69 108.65 L817.89 109.32 L818.1 109.99 L818.3 110.66 L818.5 111.33 L818.71 111.99 L818.92 112.66 L819.13 113.33 L819.34 114 L819.56 114.67 L819.78 115.34 L820 116 L820.23 116.67 L820.45 117.34 L820.68 118.01 L820.91 118.68 L821.15 119.35 L821.39 120.01 L821.63 120.68 L821.88 121.35 L822.13 122.02 L822.38 122.69 L822.64 123.36 L822.9 124.02 L823.16 124.69 L823.43 125.36 L823.7 126.03 L823.97 126.7 L824.26 127.37 L824.56 128.03 L824.86 128.7 L825.18 129.37 L825.55 130.04 L825.94 130.71 L826.35 131.38 L826.74 132.04 L827.12 132.71 L827.45 133.38 L827.72 134.05 L827.97 134.72 L828.22 135.39 L828.45 136.05 L828.65 136.72 L828.8 137.39 L828.89 138.06 L828.89 138.73 L828.81 139.4 L828.65 140.06 L828.45 140.73 L828.22 141.4 L827.97 142.07 L827.65 142.74 L827.23 143.41 L826.72 144.07 L826.14 144.74 L825.52 145.41 L824.88 146.08 L824.24 146.75 L823.59 147.42 L822.88 148.08 L822.11 148.75 L821.31 149.42 L820.5 150.09 L819.69 150.76 L818.92 151.43 L818.2 152.09 L817.49 152.76 L816.76 153.43 L816.04 154.1 L815.35 154.77 L814.71 155.44 L814.13 156.1 L813.64 156.77 L813.24 157.44 L812.85 158.11 L812.48 158.78 L812.13 159.45 L811.81 160.11 L811.53 160.78 L811.28 161.45 L811.08 162.12 L810.94 162.79 L810.83 163.46 L810.74 164.12 L810.66 164.79 L810.58 165.46 L810.51 166.13 L810.45 166.8 L810.39 167.47 L810.34 168.13 L810.29 168.8 L810.25 169.47 L810.21 170.14 L810.17 170.81 L810.13 171.48 L810.09 172.14 L810.06 172.81 L810.03 173.48 L810 174.15 L809.97 174.82 L809.95 175.49 L809.93 176.15 L809.91 176.82 L809.89 177.49 L809.87 178.16 L809.84 178.83 L809.82 179.5 L809.79 180.16 L809.76 180.83 L809.73 181.5 L809.69 182.17 L809.65 182.84 L809.61 183.51 L809.56 184.17 L809.51 184.84 L809.45 185.51 L809.39 186.18 L809.32 186.85 L809.24 187.52 L809.16 188.18 L809.07 188.85 L808.98 189.52 L808.87 190.19 L808.72 190.86 L808.52 191.53 L808.3 192.19 L808.04 192.86 L807.78 193.53 L807.5 194.2 L807.5 194.2 Z" fill="#1cd6da"/>
<path d="M807.5 61.2 L808.3 61.2 L808.35 61.87 L808.39 62.54 L808.43 63.21 L808.46 63.87 L808.49 64.54 L808.51 65.21 L808.53 65.88 L808.54 66.55 L808.55 67.22 L808.57 67.88 L808.57 68.55 L808.58 69.22 L808.59 69.89 L808.6 70.56 L808.61 71.23 L808.62 71.89 L808.63 72.56 L808.64 73.23 L808.66 73.9 L808.68 74.57 L808.71 75.24 L808.74 75.9 L808.76 76.57 L808.79 77.24 L808.82 77.91 L808.86 78.58 L808.89 79.25 L808.92 79.91 L808.96 80.58 L809 81.25 L809.04 81.92 L809.08 82.59 L809.12 83.26 L809.17 83.92 L809.22 84.59 L809.27 85.26 L809.32 85.93 L809.37 86.6 L809.43 87.27 L809.49 87.93 L809.56 88.6 L809.63 89.27 L809.72 89.94 L809.81 90.61 L809.91 91.28 L810.01 91.94 L810.13 92.61 L810.25 93.28 L810.38 93.95 L810.52 94.62 L810.67 95.29 L810.83 95.95 L811 96.62 L811.18 97.29 L811.39 97.96 L811.63 98.63 L811.91 99.3 L812.21 99.96 L812.54 100.63 L812.89 101.3 L813.26 101.97 L813.65 102.64 L814.06 103.31 L814.48 103.97 L814.94 104.64 L815.46 105.31 L816.02 105.98 L816.63 106.65 L817.27 107.32 L817.93 107.98 L818.61 108.65 L819.3 109.32 L819.99 109.99 L820.7 110.66 L821.45 111.33 L822.24 111.99 L823.05 112.66 L823.87 113.33 L824.69 114 L825.49 114.67 L826.26 115.34 L827 116 L827.74 116.67 L828.48 117.34 L829.23 118.01 L829.95 118.68 L830.63 119.35 L831.24 120.01 L831.78 120.68 L832.23 121.35 L832.65 122.02 L833.04 122.69 L833.39 123.36 L833.69 124.02 L833.92 124.69 L834.08 125.36 L834.23 126.03 L834.34 126.7 L834.4 127.37 L834.33 128.03 L834.07 128.7 L833.68 129.37 L833.21 130.04 L832.71 130.71 L832.21 131.38 L831.61 132.04 L830.92 132.71 L830.16 133.38 L829.36 134.05 L828.54 134.72 L827.72 135.39 L826.94 136.05 L826.14 136.72 L825.31 137.39 L824.46 138.06 L823.61 138.73 L822.79 139.4 L822 140.06 L821.27 140.73 L820.61 141.4 L819.97 142.07 L819.35 142.74 L818.76 143.41 L818.19 144.07 L817.65 144.74 L817.13 145.41 L816.64 146.08 L816.17 146.75 L815.73 147.42 L815.3 148.08 L814.88 148.75 L814.49 149.42 L814.11 150.09 L813.74 150.76 L813.41 151.43 L813.09 152.09 L812.8 152.76 L812.53 153.43 L812.27 154.1 L812.02 154.77 L811.78 155.44 L811.55 156.1 L811.33 156.77 L811.13 157.44 L810.94 158.11 L810.77 158.78 L810.62 159.45 L810.48 160.11 L810.35 160.78 L810.23 161.45 L810.11 162.12 L810 162.79 L809.9 163.46 L809.8 164.12 L809.71 164.79 L809.62 165.46 L809.53 166.13 L809.45 166.8 L809.37 167.47 L809.3 168.13 L809.22 168.8 L809.15 169.47 L809.09 170.14 L809.02 170.81 L808.96 171.48 L808.91 172.14 L808.86 172.81 L808.81 173.48 L808.76 174.15 L808.71 174.82 L808.67 175.49 L808.62 176.15 L808.57 176.82 L808.52 177.49 L808.47 178.16 L808.41 178.83 L808.35 179.5 L808.28 180.16 L808.21 180.83 L808.13 181.5 L808.05 182.17 L807.96 182.84 L807.87 183.51 L807.77 184.17 L807.67 184.84 L807.57 185.51 L807.5 186.18 L807.5 186.85 L807.5 187.52 L807.5 188.18 L807.5 188.85 L807.5 189.52 L807.5 190.19 L807.5 190.86 L807.5 191.53 L807.5 192.19 L807.5 192.86 L807.5 193.53 L807.5 194.2 L807.5 194.2 Z" fill="#fcbeb9"/>
<path d="M807.5 61.2 L808.3 61.2 L808.35 61.87 L808.39 62.54 L808.43 63.21 L808.46 63.87 L808.49 64.54 L808.51 65.21 L808.53 65.88 L808.54 66.55 L808.55 67.22 L808.57 67.88 L808.57 68.55 L808.58 69.22 L808.59 69.89 L808.6 70.56 L808.61 71.23 L808.62 71.89 L808.63 72.56 L808.64 73.23 L808.66 73.9 L808.68 74.57 L808.71 75.24 L808.74 75.9 L808.76 76.57 L808.79 77.24 L808.82 77.91 L808.86 78.58 L808.89 79.25 L808.92 79.91 L808.96 80.58 L809 81.25 L809.04 81.92 L809.08 82.59 L809.12 83.26 L809.17 83.92 L809.22 84.59 L809.27 85.26 L809.32 85.93 L809.37 86.6 L809.43 87.27 L809.49 87.93 L809.56 88.6 L809.63 89.27 L809.72 89.94 L809.81 90.61 L809.91 91.28 L810.01 91.94 L810.13 92.61 L810.25 93.28 L810.38 93.95 L810.52 94.62 L810.67 95.29 L810.83 95.95 L811 96.62 L811.18 97.29 L811.39 97.96 L811.63 98.63 L811.91 99.3 L812.21 99.96 L812.54 100.63 L812.89 101.3 L813.26 101.97 L813.65 102.64 L814.06 103.31 L814.48 103.97 L814.94 104.64 L815.46 105.31 L816.02 105.98 L816.63 106.65 L817.27 107.32 L817.5 107.98 L817.69 108.65 L817.89 109.32 L818.1 109.99 L818.3 110.66 L818.5 111.33 L818.71 111.99 L818.92 112.66 L819.13 113.33 L819.34 114 L819.56 114.67 L819.78 115.34 L820 116 L820.23 116.67 L820.45 117.34 L820.68 118.01 L820.91 118.68 L821.15 119.35 L821.39 120.01 L821.63 120.68 L821.88 121.35 L822.13 122.02 L822.38 122.69 L822.64 123.36 L822.9 124.02 L823.16 124.69 L823.43 125.36 L823.7 126.03 L823.97 126.7 L824.26 127.37 L824.56 128.03 L824.86 128.7 L825.18 129.37 L825.55 130.04 L825.94 130.71 L826.35 131.38 L826.74 132.04 L827.12 132.71 L827.45 133.38 L827.72 134.05 L827.97 134.72 L827.72 135.39 L826.94 136.05 L826.14 136.72 L825.31 137.39 L824.46 138.06 L823.61 138.73 L822.79 139.4 L822 140.06 L821.27 140.73 L820.61 141.4 L819.97 142.07 L819.35 142.74 L818.76 143.41 L818.19 144.07 L817.65 144.74 L817.13 145.41 L816.64 146.08 L816.17 146.75 L815.73 147.42 L815.3 148.08 L814.88 148.75 L814.49 149.42 L814.11 150.09 L813.74 150.76 L813.41 151.43 L813.09 152.09 L812.8 152.76 L812.53 153.43 L812.27 154.1 L812.02 154.77 L811.78 155.44 L811.55 156.1 L811.33 156.77 L811.13 157.44 L810.94 158.11 L810.77 158.78 L810.62 159.45 L810.48 160.11 L810.35 160.78 L810.23 161.45 L810.11 162.12 L810 162.79 L809.9 163.46 L809.8 164.12 L809.71 164.79 L809.62 165.46 L809.53 166.13 L809.45 166.8 L809.37 167.47 L809.3 168.13 L809.22 168.8 L809.15 169.47 L809.09 170.14 L809.02 170.81 L808.96 171.48 L808.91 172.14 L808.86 172.81 L808.81 173.48 L808.76 174.15 L808.71 174.82 L808.67 175.49 L808.62 176.15 L808.57 176.82 L808.52 177.49 L808.47 178.16 L808.41 178.83 L808.35 179.5 L808.28 180.16 L808.21 180.83 L808.13 181.5 L808.05 182.17 L807.96 182.84 L807.87 183.51 L807.77 184.17 L807.67 184.84 L807.57 185.51 L807.5 186.18 L807.5 186.85 L807.5 187.52 L807.5 188.18 L807.5 188.85 L807.5 189.52 L807.5 190.19 L807.5 190.86 L807.5 191.53 L807.5 192.19 L807.5 192.86 L807.5 193.53 L807.5 194.2 L807.5 194.2 Z" fill="#c0a8a4"/>
<path d="M807.5 61.2 L810.1 61.2 L810.18 61.87 L810.24 62.54 L810.3 63.21 L810.34 63.87 L810.38 64.54 L810.41 65.21 L810.44 65.88 L810.46 66.55 L810.48 67.22 L810.49 67.88 L810.51 68.55 L810.52 69.22 L810.53 69.89 L810.54 70.56 L810.55 71.23 L810.57 71.89 L810.59 72.56 L810.61 73.23 L810.64 73.9 L810.67 74.57 L810.72 75.24 L810.76 75.9 L810.82 76.57 L810.87 77.24 L810.93 77.91 L811 78.58 L811.07 79.25 L811.15 79.91 L811.22 80.58 L811.31 81.25 L811.39 81.92 L811.48 82.59 L811.57 83.26 L811.67 83.92 L811.76 84.59 L811.86 85.26 L811.97 85.93 L812.07 86.6 L812.18 87.27 L812.29 87.93 L812.4 88.6 L812.53 89.27 L812.67 89.94 L812.81 90.61 L812.96 91.28 L813.12 91.94 L813.29 92.61 L813.45 93.28 L813.63 93.95 L813.8 94.62 L813.98 95.29 L814.16 95.95 L814.34 96.62 L814.51 97.29 L814.69 97.96 L814.86 98.63 L815.04 99.3 L815.22 99.96 L815.4 100.63 L815.58 101.3 L815.77 101.97 L815.95 102.64 L816.14 103.31 L816.33 103.97 L816.52 104.64 L816.71 105.31 L816.91 105.98 L817.1 106.65 L817.3 107.32 L817.5 107.98 L817.69 108.65 L817.89 109.32 L818.1 109.99 L818.3 110.66 L818.5 111.33 L818.71 111.99 L818.92 112.66 L819.13 113.33 L819.34 114 L819.56 114.67 L819.78 115.34 L820 116 L820.23 116.67 L820.45 117.34 L820.68 118.01 L820.91 118.68 L821.15 119.35 L821.39 120.01 L821.63 120.68 L821.88 121.35 L822.13 122.02 L822.38 122.69 L822.64 123.36 L822.9 124.02 L823.16 124.69 L823.43 125.36 L823.7 126.03 L823.97 126.7 L824.26 127.37 L824.56 128.03 L824.86 128.7 L825.18 129.37 L825.55 130.04 L825.94 130.71 L826.35 131.38 L826.74 132.04 L827.12 132.71 L827.45 133.38 L827.72 134.05 L827.97 134.72 L828.22 135.39 L828.45 136.05 L828.65 136.72 L828.8 137.39 L828.89 138.06 L828.89 138.73 L828.81 139.4 L828.65 140.06 L828.45 140.73 L828.22 141.4 L827.97 142.07 L827.65 142.74 L827.23 143.41 L826.72 144.07 L826.14 144.74 L825.52 145.41 L824.88 146.08 L824.24 146.75 L823.59 147.42 L822.88 148.08 L822.11 148.75 L821.31 149.42 L820.5 150.09 L819.69 150.76 L818.92 151.43 L818.2 152.09 L817.49 152.76 L816.76 153.43 L816.04 154.1 L815.35 154.77 L814.71 155.44 L814.13 156.1 L813.64 156.77 L813.24 157.44 L812.85 158.11 L812.48 158.78 L812.13 159.45 L811.81 160.11 L811.53 160.78 L811.28 161.45 L811.08 162.12 L810.94 162.79 L810.83 163.46 L810.74 164.12 L810.66 164.79 L810.58 165.46 L810.51 166.13 L810.45 166.8 L810.39 167.47 L810.34 168.13 L810.29 168.8 L810.25 169.47 L810.21 170.14 L810.17 170.81 L810.13 171.48 L810.09 172.14 L810.06 172.81 L810.03 173.48 L810 174.15 L809.97 174.82 L809.95 175.49 L809.93 176.15 L809.91 176.82 L809.89 177.49 L809.87 178.16 L809.84 178.83 L809.82 179.5 L809.79 180.16 L809.76 180.83 L809.73 181.5 L809.69 182.17 L809.65 182.84 L809.61 183.51 L809.56 184.17 L809.51 184.84 L809.45 185.51 L809.39 186.18 L809.32 186.85 L809.24 187.52 L809.16 188.18 L809.07 188.85 L808.98 189.52 L808.87 190.19 L808.72 190.86 L808.52 191.53 L808.3 192.19 L808.04 192.86 L807.78 193.53 L807.5 194.2 L807.5 194.2" fill="none" stroke="#00bfc4" stroke-width="0.9" stroke-linejoin="round"/>
<path d="M807.5 61.2 L808.3 61.2 L808.35 61.87 L808.39 62.54 L808.43 63.21 L808.46 63.87 L808.49 64.54 L808.51 65.21 L808.53 65.88 L808.54 66.55 L808.55 67.22 L808.57 67.88 L808.57 68.55 L808.58 69.22 L808.59 69.89 L808.6 70.56 L808.61 71.23 L808.62 71.89 L808.63 72.56 L808.64 73.23 L808.66 73.9 L808.68 74.57 L808.71 75.24 L808.74 75.9 L808.76 76.57 L808.79 77.24 L808.82 77.91 L808.86 78.58 L808.89 79.25 L808.92 79.91 L808.96 80.58 L809 81.25 L809.04 81.92 L809.08 82.59 L809.12 83.26 L809.17 83.92 L809.22 84.59 L809.27 85.26 L809.32 85.93 L809.37 86.6 L809.43 87.27 L809.49 87.93 L809.56 88.6 L809.63 89.27 L809.72 89.94 L809.81 90.61 L809.91 91.28 L810.01 91.94 L810.13 92.61 L810.25 93.28 L810.38 93.95 L810.52 94.62 L810.67 95.29 L810.83 95.95 L811 96.62 L811.18 97.29 L811.39 97.96 L811.63 98.63 L811.91 99.3 L812.21 99.96 L812.54 100.63 L812.89 101.3 L813.26 101.97 L813.65 102.64 L814.06 103.31 L814.48 103.97 L814.94 104.64 L815.46 105.31 L816.02 105.98 L816.63 106.65 L817.27 107.32 L817.93 107.98 L818.61 108.65 L819.3 109.32 L819.99 109.99 L820.7 110.66 L821.45 111.33 L822.24 111.99 L823.05 112.66 L823.87 113.33 L824.69 114 L825.49 114.67 L826.26 115.34 L827 116 L827.74 116.67 L828.48 117.34 L829.23 118.01 L829.95 118.68 L830.63 119.35 L831.24 120.01 L831.78 120.68 L832.23 121.35 L832.65 122.02 L833.04 122.69 L833.39 123.36 L833.69 124.02 L833.92 124.69 L834.08 125.36 L834.23 126.03 L834.34 126.7 L834.4 127.37 L834.33 128.03 L834.07 128.7 L833.68 129.37 L833.21 130.04 L832.71 130.71 L832.21 131.38 L831.61 132.04 L830.92 132.71 L830.16 133.38 L829.36 134.05 L828.54 134.72 L827.72 135.39 L826.94 136.05 L826.14 136.72 L825.31 137.39 L824.46 138.06 L823.61 138.73 L822.79 139.4 L822 140.06 L821.27 140.73 L820.61 141.4 L819.97 142.07 L819.35 142.74 L818.76 143.41 L818.19 144.07 L817.65 144.74 L817.13 145.41 L816.64 146.08 L816.17 146.75 L815.73 147.42 L815.3 148.08 L814.88 148.75 L814.49 149.42 L814.11 150.09 L813.74 150.76 L813.41 151.43 L813.09 152.09 L812.8 152.76 L812.53 153.43 L812.27 154.1 L812.02 154.77 L811.78 155.44 L811.55 156.1 L811.33 156.77 L811.13 157.44 L810.94 158.11 L810.77 158.78 L810.62 159.45 L810.48 160.11 L810.35 160.78 L810.23 161.45 L810.11 162.12 L810 162.79 L809.9 163.46 L809.8 164.12 L809.71 164.79 L809.62 165.46 L809.53 166.13 L809.45 166.8 L809.37 167.47 L809.3 168.13 L809.22 168.8 L809.15 169.47 L809.09 170.14 L809.02 170.81 L808.96 171.48 L808.91 172.14 L808.86 172.81 L808.81 173.48 L808.76 174.15 L808.71 174.82 L808.67 175.49 L808.62 176.15 L808.57 176.82 L808.52 177.49 L808.47 178.16 L808.41 178.83 L808.35 179.5 L808.28 180.16 L808.21 180.83 L808.13 181.5 L808.05 182.17 L807.96 182.84 L807.87 183.51 L807.77 184.17 L807.67 184.84 L807.57 185.51 L807.5 186.18 L807.5 186.85 L807.5 187.52 L807.5 188.18 L807.5 188.85 L807.5 189.52 L807.5 190.19 L807.5 190.86 L807.5 191.53 L807.5 192.19 L807.5 192.86 L807.5 193.53 L807.5 194.2 L807.5 194.2" fill="none" stroke="#f8766d" stroke-width="0.9" stroke-linejoin="round"/>
<line x1="712.5" y1="128.5" x2="669.2" y2="89.2" stroke="#ad76ff" stroke-width="0.8"/>
<path d="M669.2 89.2 L673.38 90.57 L670.97 93.23 Z" fill="#ad76ff"/>
<line x1="712.5" y1="128.5" x2="655.7" y2="107.5" stroke="#ad76ff" stroke-width="0.8"/>
<path d="M655.7 107.5 L660.09 107.21 L658.85 110.58 Z" fill="#ad76ff"/>
<line x1="712.5" y1="128.5" x2="692.5" y2="100" stroke="#ad76ff" stroke-width="0.8"/>
<path d="M692.5 100 L696.28 102.26 L693.34 104.32 Z" fill="#ad76ff"/>
<line x1="712.5" y1="128.5" x2="744.2" y2="132" stroke="#ad76ff" stroke-width="0.8"/>
<path d="M744.2 132 L740.01 133.34 L740.4 129.78 Z" fill="#ad76ff"/>
<line x1="712.5" y1="128.5" x2="769.2" y2="148.2" stroke="#ad76ff" stroke-width="0.8"/>
<path d="M769.2 148.2 L764.82 148.58 L765.99 145.19 Z" fill="#ad76ff"/>
<circle cx="717" cy="106.2" r="1.7" fill="#9b9b9b"/>
<path d="M686.4 120.2 L684.4 123.98 L688.4 123.98 Z" fill="#12b5f0"/>
<circle cx="709.1" cy="136.1" r="1.7" fill="#ee1289"/>
<circle cx="675.7" cy="58.2" r="1.7" fill="#000000"/>
<circle cx="735.5" cy="163.7" r="1.7" fill="#ee1289"/>
<circle cx="687" cy="132" r="1.7" fill="#ffb012"/>
<circle cx="745.18" cy="110.32" r="1.85" fill="#8a1a9a"/>
<circle cx="699.5" cy="178" r="1.7" fill="#7b4518"/>
<circle cx="690.2" cy="131.8" r="1.7" fill="#ffb012"/>
<path d="M660.7 100.1 L658.7 103.88 L662.7 103.88 Z" fill="#12b5f0"/>
<path d="M671.5 136.4 L669.5 140.18 L673.5 140.18 Z" fill="#12b5f0"/>
<path d="M667 135.4 L665 139.18 L669 139.18 Z" fill="#12b5f0"/>
<circle cx="752.5" cy="113" r="1.7" fill="#3a6b45"/>
<circle cx="690.7" cy="136.1" r="1.7" fill="#3a6b45"/>
<circle cx="748.2" cy="144.1" r="1.7" fill="#ee1289"/>
<circle cx="733.7" cy="128" r="1.7" fill="#0fb22a"/>
<circle cx="711.5" cy="125" r="1.7" fill="#4c9a2f"/>
<circle cx="693.4" cy="134.9" r="1.7" fill="#ff9bc5"/>
<circle cx="683" cy="174.2" r="1.7" fill="#7b4518"/>
<circle cx="724.11" cy="110.13" r="1.85" fill="#8a1a9a"/>
<path d="M673.5 136.9 L671.5 140.68 L675.5 140.68 Z" fill="#0fb22a"/>
<circle cx="712.07" cy="123.69" r="1.7" fill="#92198b"/>
<circle cx="734.03" cy="117.62" r="1.85" fill="#8a1a9a"/>
<path d="M687.5 138.4 L685.5 142.18 L689.5 142.18 Z" fill="#0fb22a"/>
<circle cx="700.5" cy="133.5" r="1.85" fill="#8a1a9a"/>
<path d="M678.5 135.9 L676.5 139.68 L680.5 139.68 Z" fill="#0fb22a"/>
<circle cx="759.2" cy="171.7" r="1.7" fill="#7b4518"/>
<circle cx="697.5" cy="127" r="1.7" fill="#4c9a2f"/>
<circle cx="730.6" cy="119.6" r="1.7" fill="#0d3b9c"/>
<circle cx="730.49" cy="118.53" r="1.85" fill="#8a1a9a"/>
<circle cx="734.1" cy="118.3" r="1.7" fill="#0fb22a"/>
<circle cx="735" cy="121.5" r="1.7" fill="#0d3b9c"/>
<path d="M685.5 102.9 L683.5 106.68 L687.5 106.68 Z" fill="#12b5f0"/>
<circle cx="697.1" cy="119.1" r="1.7" fill="#3a6b45"/>
<circle cx="737" cy="162.5" r="1.7" fill="#ee1289"/>
<circle cx="724.2" cy="102" r="1.7" fill="#9b9b9b"/>
<circle cx="713" cy="167.5" r="1.7" fill="#ee1289"/>
<circle cx="732.04" cy="119.13" r="1.85" fill="#8a1a9a"/>
<circle cx="690.2" cy="141.8" r="1.7" fill="#ff9bc5"/>
<circle cx="690.7" cy="135.7" r="1.7" fill="#4c9a2f"/>
<path d="M663 110.4 L661 114.18 L665 114.18 Z" fill="#12b5f0"/>
<circle cx="702.5" cy="127.5" r="1.7" fill="#4c9a2f"/>
<circle cx="682.7" cy="138" r="1.7" fill="#4c9a2f"/>
<circle cx="758" cy="155.5" r="1.7" fill="#7b4518"/>
<circle cx="739" cy="124.2" r="1.7" fill="#ee1289"/>
<circle cx="711.96" cy="128.47" r="1.7" fill="#92198b"/>
<circle cx="745.4" cy="114.68" r="1.85" fill="#8a1a9a"/>
<path d="M673 117.5 L671 121.28 L675 121.28 Z" fill="#12b5f0"/>
<circle cx="727" cy="100" r="1.7" fill="#9b9b9b"/>
<circle cx="717" cy="126" r="1.7" fill="#3a6b45"/>
<path d="M702.5 96.6 L700.5 100.38 L704.5 100.38 Z" fill="#ffb012"/>
<circle cx="728" cy="117.5" r="1.7" fill="#ff9bc5"/>
<circle cx="728.19" cy="118.77" r="1.85" fill="#8a1a9a"/>
<circle cx="739.5" cy="127.5" r="1.7" fill="#ff0d0d"/>
<path d="M666.5 128.4 L664.5 132.18 L668.5 132.18 Z" fill="#12b5f0"/>
<path d="M665.4 137.4 L663.4 141.18 L667.4 141.18 Z" fill="#12b5f0"/>
<circle cx="748.2" cy="118" r="1.7" fill="#3a6b45"/>
<circle cx="715.2" cy="121.9" r="1.85" fill="#8a1a9a"/>
<circle cx="751.3" cy="123.1" r="1.7" fill="#ff0d0d"/>
<circle cx="711" cy="128.5" r="1.85" fill="#8a1a9a"/>
<circle cx="709.5" cy="127" r="1.7" fill="#4c9a2f"/>
<circle cx="724.31" cy="117" r="1.85" fill="#8a1a9a"/>
<circle cx="742.9" cy="126.5" r="1.7" fill="#ff0d0d"/>
<circle cx="737.5" cy="119.6" r="1.7" fill="#ff9bc5"/>
<path d="M685.8 103.6 L683.8 107.38 L687.8 107.38 Z" fill="#ffb012"/>
<circle cx="752" cy="145.7" r="1.7" fill="#7b4518"/>
<circle cx="712.9" cy="133.11" r="1.7" fill="#92198b"/>
<circle cx="758.2" cy="158.7" r="1.7" fill="#7b4518"/>
<path d="M670.7 64.6 L668.7 68.38 L672.7 68.38 Z" fill="#12b5f0"/>
<circle cx="739.79" cy="115.28" r="1.85" fill="#8a1a9a"/>
<circle cx="750" cy="140" r="1.7" fill="#7b4518"/>
<circle cx="680.2" cy="131.4" r="1.7" fill="#9b9b9b"/>
<circle cx="680.5" cy="102" r="1.7" fill="#000000"/>
<path d="M672.2 122.9 L670.2 126.68 L674.2 126.68 Z" fill="#12b5f0"/>
<path d="M669.2 138.2 L667.2 141.98 L671.2 141.98 Z" fill="#12b5f0"/>
<circle cx="753.6" cy="144.9" r="1.7" fill="#7b4518"/>
<circle cx="741.44" cy="111.88" r="1.85" fill="#8a1a9a"/>
<path d="M693.7 96.6 L691.7 100.38 L695.7 100.38 Z" fill="#12b5f0"/>
<circle cx="713.7" cy="155.7" r="1.7" fill="#ffb012"/>
<circle cx="697.5" cy="155.5" r="1.7" fill="#ee1289"/>
<circle cx="729" cy="111.1" r="1.7" fill="#0fb22a"/>
<circle cx="714.5" cy="134" r="1.85" fill="#8a1a9a"/>
<path d="M676.9 128.5 L674.9 132.28 L678.9 132.28 Z" fill="#12b5f0"/>
<circle cx="699.1" cy="144.9" r="1.7" fill="#ee1289"/>
<circle cx="749.8" cy="140" r="1.7" fill="#7b4518"/>
<circle cx="750.5" cy="125.2" r="1.7" fill="#3a6b45"/>
<circle cx="730" cy="81.2" r="1.7" fill="#ff9bc5"/>
<circle cx="724.4" cy="108" r="1.7" fill="#ffb012"/>
<path d="M663 121.9 L661 125.68 L665 125.68 Z" fill="#12b5f0"/>
<circle cx="741.8" cy="128.8" r="1.7" fill="#7b4518"/>
<circle cx="723.5" cy="120.5" r="1.7" fill="#4c9a2f"/>
<path d="M694.8 94.2 L692.8 97.98 L696.8 97.98 Z" fill="#12b5f0"/>
<circle cx="732.9" cy="95.8" r="1.7" fill="#ffb012"/>
<circle cx="695" cy="127.5" r="1.7" fill="#4c9a2f"/>
<circle cx="714" cy="123" r="1.7" fill="#4c9a2f"/>
<circle cx="721.5" cy="122" r="1.7" fill="#4c9a2f"/>
<circle cx="759.2" cy="143.7" r="1.7" fill="#7b4518"/>
<circle cx="693.7" cy="141" r="1.85" fill="#8a1a9a"/>
<circle cx="713.88" cy="122.44" r="1.7" fill="#92198b"/>
<circle cx="734.7" cy="107.3" r="1.7" fill="#3a6b45"/>
<circle cx="705" cy="187" r="1.7" fill="#7b4518"/>
<circle cx="720.57" cy="122.53" r="1.7" fill="#92198b"/>
<circle cx="707.84" cy="123.53" r="1.7" fill="#92198b"/>
<circle cx="736.97" cy="118.86" r="1.85" fill="#8a1a9a"/>
<circle cx="732.08" cy="120.94" r="1.85" fill="#8a1a9a"/>
<circle cx="725.2" cy="131.1" r="1.7" fill="#0fb22a"/>
<circle cx="707" cy="60.5" r="1.7" fill="#0fb22a"/>
<circle cx="740.6" cy="140.3" r="1.7" fill="#ee1289"/>
<circle cx="696.2" cy="178.2" r="1.7" fill="#7b4518"/>
<circle cx="745" cy="106.2" r="1.7" fill="#ffb012"/>
<path d="M672.5 139.4 L670.5 143.18 L674.5 143.18 Z" fill="#0fb22a"/>
<circle cx="751.3" cy="122.9" r="1.7" fill="#ee1289"/>
<circle cx="712" cy="121" r="1.7" fill="#4c9a2f"/>
<path d="M668 140.9 L666 144.68 L670 144.68 Z" fill="#12b5f0"/>
<circle cx="713.29" cy="120.31" r="1.85" fill="#8a1a9a"/>
<circle cx="717.5" cy="121.5" r="1.7" fill="#4c9a2f"/>
<circle cx="755" cy="145" r="1.7" fill="#7b4518"/>
<circle cx="721.4" cy="136" r="1.85" fill="#8a1a9a"/>
<path d="M682.5 142.9 L680.5 146.68 L684.5 146.68 Z" fill="#0fb22a"/>
<circle cx="712" cy="130" r="1.7" fill="#3a6b45"/>
<circle cx="702.2" cy="141" r="1.7" fill="#3a6b45"/>
<path d="M671.5 119.7 L669.5 123.48 L673.5 123.48 Z" fill="#12b5f0"/>
<path d="M669.5 124.4 L667.5 128.18 L671.5 128.18 Z" fill="#12b5f0"/>
<circle cx="745.5" cy="131.4" r="1.7" fill="#ee1289"/>
<circle cx="721.2" cy="167" r="1.7" fill="#ee1289"/>
<circle cx="752.1" cy="113.1" r="1.7" fill="#3a6b45"/>
<path d="M668.4 131.3 L666.4 135.08 L670.4 135.08 Z" fill="#12b5f0"/>
<circle cx="746.7" cy="137.2" r="1.7" fill="#ee1289"/>
<circle cx="698.7" cy="145" r="1.7" fill="#ee1289"/>
<circle cx="747.5" cy="127.5" r="1.7" fill="#ff0d0d"/>
<circle cx="695" cy="172.5" r="1.7" fill="#7b4518"/>
<circle cx="735" cy="147.5" r="1.7" fill="#ee1289"/>
<circle cx="686" cy="141" r="1.7" fill="#ff9bc5"/>
<circle cx="750.5" cy="146.4" r="1.7" fill="#7b4518"/>
<circle cx="707.6" cy="140" r="1.85" fill="#8a1a9a"/>
<circle cx="725" cy="122.5" r="1.7" fill="#4c9a2f"/>
<circle cx="742.1" cy="148" r="1.7" fill="#ee1289"/>
<circle cx="693" cy="126" r="1.7" fill="#ffb012"/>
<circle cx="721.06" cy="112.57" r="1.85" fill="#8a1a9a"/>
<circle cx="705" cy="128.5" r="1.7" fill="#4c9a2f"/>
<circle cx="735.34" cy="119.21" r="1.85" fill="#8a1a9a"/>
<path d="M662 87.4 L660 91.18 L664 91.18 Z" fill="#12b5f0"/>
<circle cx="719.61" cy="128.61" r="1.7" fill="#92198b"/>
<path d="M676 139.4 L674 143.18 L678 143.18 Z" fill="#0fb22a"/>
<circle cx="740.75" cy="117.42" r="1.85" fill="#8a1a9a"/>
<circle cx="736.4" cy="129.1" r="1.7" fill="#ff0d0d"/>
<circle cx="730" cy="127" r="1.7" fill="#ee1289"/>
<circle cx="738" cy="99.2" r="1.7" fill="#ffb012"/>
<circle cx="667.5" cy="76.2" r="1.7" fill="#000000"/>
<path d="M670.7 138.9 L668.7 142.68 L672.7 142.68 Z" fill="#12b5f0"/>
<circle cx="687.5" cy="124.5" r="1.7" fill="#ffb012"/>
<circle cx="690.2" cy="146.4" r="1.7" fill="#ee1289"/>
<circle cx="739" cy="99.1" r="1.7" fill="#ffb012"/>
<circle cx="689.5" cy="128" r="1.7" fill="#ffb012"/>
<path d="M675 141.4 L673 145.18 L677 145.18 Z" fill="#0fb22a"/>
<circle cx="699" cy="126" r="1.7" fill="#4c9a2f"/>
<circle cx="715.2" cy="138.4" r="1.7" fill="#ee1289"/>
<circle cx="711.38" cy="125.55" r="1.7" fill="#92198b"/>
<circle cx="743.7" cy="160" r="1.7" fill="#7b4518"/>
<circle cx="727.5" cy="124.2" r="1.7" fill="#0d3b9c"/>
<path d="M679.5 107.2 L677.5 110.98 L681.5 110.98 Z" fill="#12b5f0"/>
<circle cx="724.94" cy="119.33" r="1.85" fill="#8a1a9a"/>
<circle cx="723.2" cy="183" r="1.7" fill="#7b4518"/>
<path d="M691.7 107.1 L689.7 110.88 L693.7 110.88 Z" fill="#ffb012"/>
<path d="M684 140.4 L682 144.18 L686 144.18 Z" fill="#0fb22a"/>
<circle cx="735.2" cy="148" r="1.7" fill="#ee1289"/>
<path d="M694.5 93.4 L692.5 97.18 L696.5 97.18 Z" fill="#12b5f0"/>
<path d="M674 145.4 L672 149.18 L676 149.18 Z" fill="#12b5f0"/>
<circle cx="710.7" cy="179.2" r="1.7" fill="#7b4518"/>
<circle cx="719.5" cy="120" r="1.7" fill="#4c9a2f"/>
<circle cx="742.9" cy="100.4" r="1.7" fill="#ffb012"/>
<circle cx="743.7" cy="100" r="1.7" fill="#ffb012"/>
<path d="M670.7 58.6 L668.7 62.38 L672.7 62.38 Z" fill="#12b5f0"/>
<circle cx="679.5" cy="120.3" r="1.7" fill="#0d3b9c"/>
<circle cx="725.2" cy="131.4" r="1.7" fill="#3a6b45"/>
<circle cx="742.11" cy="113.82" r="1.85" fill="#8a1a9a"/>
<circle cx="748.2" cy="112.3" r="1.7" fill="#ee1289"/>
<circle cx="746.7" cy="116.5" r="1.7" fill="#0d3b9c"/>
<circle cx="728" cy="153.7" r="1.7" fill="#7b4518"/>
<circle cx="746.2" cy="139.2" r="1.7" fill="#7b4518"/>
<circle cx="713.7" cy="103.7" r="1.7" fill="#9b9b9b"/>
<circle cx="728.39" cy="126.28" r="1.85" fill="#8a1a9a"/>
<circle cx="729.8" cy="100.4" r="1.7" fill="#ffb012"/>
<circle cx="754.8" cy="113.1" r="1.7" fill="#ffb012"/>
<circle cx="745.2" cy="124.9" r="1.7" fill="#ee1289"/>
<circle cx="731.5" cy="114.5" r="1.7" fill="#3a6b45"/>
<circle cx="751.3" cy="144.1" r="1.7" fill="#7b4518"/>
<path d="M738.3 105.9 L736.3 109.68 L740.3 109.68 Z" fill="#ffb012"/>
<circle cx="691.5" cy="129.5" r="1.7" fill="#ffb012"/>
<circle cx="733.35" cy="120.14" r="1.85" fill="#8a1a9a"/>
<circle cx="726" cy="122" r="1.7" fill="#ee1289"/>
<circle cx="739.97" cy="117.5" r="1.85" fill="#8a1a9a"/>
<circle cx="689.2" cy="167.5" r="1.7" fill="#7b4518"/>
<circle cx="705" cy="124.5" r="1.85" fill="#8a1a9a"/>
<circle cx="730" cy="165.5" r="1.7" fill="#ee1289"/>
<circle cx="718.3" cy="113" r="1.7" fill="#9b9b9b"/>
<path d="M680.5 57.9 L678.5 61.68 L682.5 61.68 Z" fill="#12b5f0"/>
<circle cx="744.7" cy="107.3" r="1.7" fill="#ffb012"/>
<circle cx="744.4" cy="110.3" r="1.7" fill="#ffb012"/>
<path d="M664.1 111 L662.1 114.78 L666.1 114.78 Z" fill="#12b5f0"/>
<circle cx="707.6" cy="123.4" r="1.85" fill="#8a1a9a"/>
<path d="M667.3 120.7 L665.3 124.48 L669.3 124.48 Z" fill="#12b5f0"/>
<circle cx="700.5" cy="187.5" r="1.7" fill="#7b4518"/>
<path d="M671.7 68.6 L669.7 72.38 L673.7 72.38 Z" fill="#000000"/>
<circle cx="735.26" cy="124.77" r="1.85" fill="#8a1a9a"/>
<circle cx="743.6" cy="113.1" r="1.7" fill="#3a6b45"/>
<circle cx="700" cy="128" r="1.7" fill="#4c9a2f"/>
<circle cx="713.62" cy="120.5" r="1.7" fill="#92198b"/>
<circle cx="742" cy="148.7" r="1.7" fill="#ee1289"/>
<circle cx="744.2" cy="110" r="1.7" fill="#ffb012"/>
<circle cx="724.2" cy="157.5" r="1.7" fill="#ee1289"/>
<circle cx="757.5" cy="163.7" r="1.7" fill="#7b4518"/>
<path d="M665.4 142 L663.4 145.78 L667.4 145.78 Z" fill="#12b5f0"/>
<circle cx="728.79" cy="121.62" r="1.85" fill="#8a1a9a"/>
<circle cx="732.5" cy="95" r="1.7" fill="#ffb012"/>
<circle cx="722.5" cy="119" r="1.7" fill="#4c9a2f"/>
<circle cx="672.6" cy="128" r="1.7" fill="#0d3b9c"/>
<circle cx="718.07" cy="126.28" r="1.7" fill="#92198b"/>
<circle cx="717.5" cy="131" r="1.85" fill="#8a1a9a"/>
<circle cx="741.7" cy="157.5" r="1.7" fill="#7b4518"/>
<circle cx="718.5" cy="123" r="1.7" fill="#4c9a2f"/>
<path d="M672 142.4 L670 146.18 L674 146.18 Z" fill="#12b5f0"/>
<circle cx="709.1" cy="121.1" r="1.85" fill="#8a1a9a"/>
<circle cx="700.5" cy="159.2" r="1.7" fill="#ee1289"/>
<circle cx="716" cy="117" r="1.85" fill="#8a1a9a"/>
<circle cx="702" cy="177.5" r="1.7" fill="#7b4518"/>
<circle cx="743.9" cy="128" r="1.7" fill="#ee1289"/>
<circle cx="729.5" cy="155" r="1.7" fill="#7b4518"/>
<circle cx="734" cy="113" r="1.7" fill="#ffb012"/>
<circle cx="693.7" cy="146.2" r="1.7" fill="#ee1289"/>
<path d="M682.2 122.1 L680.2 125.88 L684.2 125.88 Z" fill="#0fb22a"/>
<path d="M678.4 145.1 L676.4 148.88 L680.4 148.88 Z" fill="#12b5f0"/>
<circle cx="707.5" cy="128" r="1.7" fill="#4c9a2f"/>
<path d="M678.4 132.8 L676.4 136.58 L680.4 136.58 Z" fill="#ffb012"/>
<path d="M667.5 144.4 L665.5 148.18 L669.5 148.18 Z" fill="#12b5f0"/>
<circle cx="733.7" cy="131.4" r="1.7" fill="#ee1289"/>
<circle cx="711.7" cy="109.6" r="1.85" fill="#8a1a9a"/>
<circle cx="740.5" cy="140" r="1.7" fill="#ee1289"/>
<path d="M681 138.9 L679 142.68 L683 142.68 Z" fill="#0fb22a"/>
<path d="M676.9 142.8 L674.9 146.58 L678.9 146.58 Z" fill="#12b5f0"/>
<path d="M679.5 141.4 L677.5 145.18 L681.5 145.18 Z" fill="#0fb22a"/>
<circle cx="765" cy="143.7" r="1.7" fill="#7b4518"/>
<circle cx="708.3" cy="134.9" r="1.7" fill="#ff0d0d"/>
<circle cx="714.34" cy="132.69" r="1.7" fill="#92198b"/>
<circle cx="738.16" cy="119.18" r="1.85" fill="#8a1a9a"/>
<circle cx="701.4" cy="137.2" r="1.7" fill="#ee1289"/>
<circle cx="736.7" cy="130.3" r="1.7" fill="#ee1289"/>
<circle cx="743.6" cy="121.1" r="1.7" fill="#0d3b9c"/>
<circle cx="752.4" cy="130.3" r="1.7" fill="#ee1289"/>
<circle cx="744.2" cy="151.7" r="1.7" fill="#ee1289"/>
<circle cx="727.72" cy="110.5" r="1.85" fill="#8a1a9a"/>
<circle cx="731.45" cy="121.91" r="1.85" fill="#8a1a9a"/>
<circle cx="727.5" cy="92.5" r="1.7" fill="#ffb012"/>
<circle cx="747.5" cy="121.9" r="1.7" fill="#ee1289"/>
<path d="M695.5 105.9 L693.5 109.68 L697.5 109.68 Z" fill="#000000"/>
<path d="M664.5 84.6 L662.5 88.38 L666.5 88.38 Z" fill="#12b5f0"/>
<path d="M692.2 107.8 L690.2 111.58 L694.2 111.58 Z" fill="#ffb012"/>
<circle cx="754.4" cy="148.4" r="1.7" fill="#7b4518"/>
<path d="M679.5 106.6 L677.5 110.38 L681.5 110.38 Z" fill="#12b5f0"/>
<circle cx="731.3" cy="125.7" r="1.7" fill="#0fb22a"/>
<circle cx="693.7" cy="181.2" r="1.7" fill="#7b4518"/>
<circle cx="741" cy="116" r="1.7" fill="#ffb012"/>
<circle cx="738.66" cy="120.36" r="1.85" fill="#8a1a9a"/>
<circle cx="696.5" cy="129.5" r="1.7" fill="#4c9a2f"/>
<path d="M670 134.3 L668 138.08 L672 138.08 Z" fill="#12b5f0"/>
<circle cx="704" cy="126.5" r="1.7" fill="#4c9a2f"/>
<circle cx="750" cy="154.5" r="1.7" fill="#7b4518"/>
<path d="M715 75.4 L713 79.18 L717 79.18 Z" fill="#12b5f0"/>
<path d="M664.5 123.9 L662.5 127.68 L666.5 127.68 Z" fill="#12b5f0"/>
<circle cx="734.88" cy="119.47" r="1.85" fill="#8a1a9a"/>
<circle cx="711.47" cy="118.89" r="1.7" fill="#92198b"/>
<circle cx="708" cy="113.1" r="1.7" fill="#0d3b9c"/>
<circle cx="700" cy="131.5" r="1.7" fill="#ff9bc5"/>
<circle cx="723" cy="162" r="1.7" fill="#ee1289"/>
<circle cx="737.5" cy="120.91" r="1.85" fill="#8a1a9a"/>
<path d="M660.5 100.4 L658.5 104.18 L662.5 104.18 Z" fill="#12b5f0"/>
<circle cx="722" cy="125" r="1.7" fill="#ffb012"/>
<circle cx="722.5" cy="153.2" r="1.7" fill="#7b4518"/>
<circle cx="756.2" cy="148.7" r="1.7" fill="#7b4518"/>
<path d="M683 136.4 L681 140.18 L685 140.18 Z" fill="#0fb22a"/>
<circle cx="721.51" cy="118.26" r="1.85" fill="#8a1a9a"/>
<circle cx="737" cy="169.2" r="1.7" fill="#7b4518"/>
<circle cx="669.5" cy="145.7" r="1.7" fill="#ff9bc5"/>
<path d="M664.6 146.6 L662.6 150.38 L666.6 150.38 Z" fill="#12b5f0"/>
<circle cx="722.9" cy="129.5" r="1.7" fill="#0d3b9c"/>
<path d="M666 125.1 L664 128.88 L668 128.88 Z" fill="#12b5f0"/>
<circle cx="706.5" cy="130.5" r="1.85" fill="#8a1a9a"/>
<circle cx="719.8" cy="115.7" r="1.7" fill="#ff9bc5"/>
<path d="M677 134.9 L675 138.68 L679 138.68 Z" fill="#0fb22a"/>
<circle cx="739" cy="116" r="1.7" fill="#3a6b45"/>
<circle cx="709.5" cy="133" r="1.85" fill="#8a1a9a"/>
<line x1="712.5" y1="128.5" x2="696.7" y2="136.2" stroke="#ad76ff" stroke-width="0.8"/>
<path d="M696.7 136.2 L699.53 132.83 L701.1 136.05 Z" fill="#ad76ff"/>
<line x1="712.5" y1="128.5" x2="669.2" y2="89.2" stroke="#ad76ff" stroke-width="0.8" opacity="0.75"/>
<line x1="712.5" y1="128.5" x2="655.7" y2="107.5" stroke="#ad76ff" stroke-width="0.8" opacity="0.75"/>
<line x1="712.5" y1="128.5" x2="692.5" y2="100" stroke="#ad76ff" stroke-width="0.8" opacity="0.75"/>
<line x1="712.5" y1="128.5" x2="744.2" y2="132" stroke="#ad76ff" stroke-width="0.8" opacity="0.75"/>
<line x1="712.5" y1="128.5" x2="769.2" y2="148.2" stroke="#ad76ff" stroke-width="0.8" opacity="0.75"/>
<text x="635" y="78" font-size="9.6" text-anchor="start" font-weight="bold" fill="#8420ff">Water</text>
<text x="635" y="88.2" font-size="9.6" text-anchor="start" font-weight="bold" fill="#8420ff">depth</text>
<text x="687.5" y="91" font-size="9.6" text-anchor="start" font-weight="bold" fill="#8420ff">SO4</text>
<text x="632" y="111" font-size="9.6" text-anchor="start" font-weight="bold" fill="#8420ff" textLength="21.5">Oxic</text>
<text x="643.5" y="161" font-size="9.6" text-anchor="start" font-weight="bold" fill="#8420ff" textLength="42.5">Sediment</text>
<text x="643.5" y="171.3" font-size="9.6" text-anchor="start" font-weight="bold" fill="#8420ff">depth</text>
<text x="757.3" y="137.7" font-size="9.9" text-anchor="start" font-weight="bold" fill="#8420ff">TOC</text>
<text x="766" y="158.1" font-size="9.6" text-anchor="start" font-weight="bold" fill="#8420ff" textLength="31.5">Anoxic</text>
<rect x="619.5" y="35.8" width="185.2" height="184.7" fill="none" stroke="#111" stroke-width="1"/>
<path d="M619 35.8 H805.3" fill="none" stroke="#484848" stroke-width="1.1"/>
<path d="M804.7 35.8 V221" fill="none" stroke="#484848" stroke-width="1.2"/>
<text x="616.9" y="40" font-size="11.2" text-anchor="end" font-weight="normal" fill="#000" textLength="23.54" lengthAdjust="spacingAndGlyphs">0.08</text>
<text x="616.9" y="131.75" font-size="11.2" text-anchor="end" font-weight="normal" fill="#000" textLength="16.81" lengthAdjust="spacingAndGlyphs">0.0</text>
<text x="616.9" y="222.3" font-size="11.2" text-anchor="end" font-weight="normal" fill="#000" textLength="27.57" lengthAdjust="spacingAndGlyphs">-0.08</text>
<text x="619.4" y="231.8" font-size="11.2" text-anchor="middle" font-weight="normal" fill="#000" textLength="27.57" lengthAdjust="spacingAndGlyphs">-0.08</text>
<text x="711.3" y="231.8" font-size="11.2" text-anchor="middle" font-weight="normal" fill="#000" textLength="16.81" lengthAdjust="spacingAndGlyphs">0.0</text>
<text x="804.8" y="231.8" font-size="11.2" text-anchor="middle" font-weight="normal" fill="#000" textLength="23.54" lengthAdjust="spacingAndGlyphs">0.08</text>
<text x="711.1" y="246" font-size="10.9" text-anchor="middle" font-weight="normal" fill="#000">MDS1</text>
<text x="597.5" y="128" font-size="10.9" text-anchor="middle" font-weight="normal" fill="#000" transform="rotate(-90 597.5 128)">MDS2</text>
<text x="791.8" y="55.3" font-size="13.6" text-anchor="end" font-weight="bold" fill="#000">Universal</text>
<text x="800.2" y="215.4" font-size="10.2" text-anchor="end" font-weight="normal" fill="#000">stress = 0.173</text>
<text transform="translate(11.3 264.5) scale(1.1 1)" font-size="18.3">D</text>
<path d="M65.8 382 V339.4 H71.6 V382 M60 382 V337.4 H68.7 V339.4 M54.2 382 V336.9 H64.35 V337.4 M48.4 382 V331.25 H59.27 V336.9 M83.2 382 V342.1 H89 V382 M77.4 382 V335 H86.1 V342.1 M94.8 382 V329.4 H100.6 V382 M81.75 335 V326.9 H97.7 V329.4 M53.84 331.25 V324.4 H89.72 V326.9 M112.2 382 V336.9 H118 V382 M106.4 382 V335 H115.1 V336.9 M123.8 382 V336.9 H129.6 V382 M135.4 382 V339.6 H141.2 V382 M147 382 V336.5 H152.8 V382 M138.3 339.6 V335.6 H149.9 V336.5 M126.7 336.9 V333.75 H144.1 V335.6 M170.2 382 V345.25 H176 V382 M164.4 382 V342.5 H173.1 V345.25 M158.6 382 V339 H168.75 V342.5 M181.8 382 V338.1 H187.6 V382 M163.68 339 V332.5 H184.7 V338.1 M135.4 333.75 V330.6 H174.19 V332.5 M110.75 335 V326.9 H154.79 V330.6 M210.8 382 V340.6 H216.6 V382 M205 382 V336 H213.7 V340.6 M199.2 382 V335.6 H209.35 V336 M193.4 382 V329.1 H204.27 V335.6 M234 382 V338.1 H239.8 V382 M228.2 382 V334.4 H236.9 V338.1 M222.4 382 V333.1 H232.55 V334.4 M251.4 382 V338.1 H257.2 V382 M268.8 382 V341.25 H274.6 V382 M263 382 V334.4 H271.7 V341.25 M254.3 338.1 V332.9 H267.35 V334.4 M245.6 382 V332.5 H260.83 V332.9 M227.48 333.1 V319.4 H253.21 V332.5 M198.84 329.1 V316.25 H240.34 V319.4 M132.77 326.9 V309.6 H219.59 V316.25 M71.78 324.4 V286.9 H176.18 V309.6" fill="none" stroke="#000" stroke-width="1.1" stroke-linejoin="miter"/>
<path d="M39.3 284.9 V348.2 M39.3 284.9 H31 M39.3 295.6 H31 M39.3 306 H31 M39.3 316.8 H31 M39.3 327.2 H31 M39.3 337.6 H31 M39.3 348.2 H31" fill="none" stroke="#000" stroke-width="1.1"/>
<text x="14.7" y="284.9" font-size="14.2" text-anchor="middle" font-weight="normal" fill="#000" transform="rotate(-90 14.7 284.9)" dy="5.1" textLength="17.9" lengthAdjust="spacingAndGlyphs">1.8</text>
<text x="14.7" y="316.8" font-size="14.2" text-anchor="middle" font-weight="normal" fill="#000" transform="rotate(-90 14.7 316.8)" dy="5.1" textLength="17.9" lengthAdjust="spacingAndGlyphs">1.2</text>
<text x="14.7" y="348.2" font-size="14.2" text-anchor="middle" font-weight="normal" fill="#000" transform="rotate(-90 14.7 348.2)" dy="5.1" textLength="17.9" lengthAdjust="spacingAndGlyphs">0.6</text>
<text x="148.5" y="280.5" font-size="13.6" text-anchor="middle" font-weight="bold" fill="#000">Archaea</text>
<circle cx="48.4" cy="382.1" r="3" fill="#0fb22a"/>
<circle cx="54.2" cy="382.1" r="3" fill="#12b5f0"/>
<circle cx="60" cy="382.1" r="3" fill="#12b5f0"/>
<circle cx="65.8" cy="382.1" r="3" fill="#12b5f0"/>
<circle cx="71.6" cy="382.1" r="3" fill="#12b5f0"/>
<circle cx="77.4" cy="382.1" r="3" fill="#12b5f0"/>
<circle cx="83.2" cy="382.1" r="3" fill="#12b5f0"/>
<circle cx="89" cy="382.1" r="3" fill="#12b5f0"/>
<circle cx="94.8" cy="382.1" r="3" fill="#0fb22a"/>
<circle cx="100.6" cy="382.1" r="3" fill="#000000"/>
<circle cx="106.4" cy="382.1" r="3" fill="#ff9bc5"/>
<circle cx="112.2" cy="382.1" r="3" fill="#ffb012"/>
<circle cx="118" cy="382.1" r="3" fill="#0fb22a"/>
<circle cx="123.8" cy="382.1" r="3" fill="#ff0d0d"/>
<circle cx="129.6" cy="382.1" r="3" fill="#3a6b45"/>
<circle cx="135.4" cy="382.1" r="3.35" fill="#8a1a9a"/>
<circle cx="141.2" cy="382.1" r="3.35" fill="#8a1a9a"/>
<circle cx="147" cy="382.1" r="3" fill="#ffb012"/>
<circle cx="152.8" cy="382.1" r="3" fill="#4c9a2f"/>
<circle cx="158.6" cy="382.1" r="3.35" fill="#8a1a9a"/>
<circle cx="164.4" cy="382.1" r="3.35" fill="#8a1a9a"/>
<circle cx="170.2" cy="382.1" r="3.35" fill="#8a1a9a"/>
<circle cx="176" cy="382.1" r="3.35" fill="#8a1a9a"/>
<circle cx="181.8" cy="382.1" r="3" fill="#ffb012"/>
<circle cx="187.6" cy="382.1" r="3" fill="#3a6b45"/>
<circle cx="193.4" cy="382.1" r="3" fill="#3a6b45"/>
<circle cx="199.2" cy="382.1" r="3" fill="#9b9b9b"/>
<circle cx="205" cy="382.1" r="3" fill="#3a6b45"/>
<circle cx="210.8" cy="382.1" r="3" fill="#ffb012"/>
<circle cx="216.6" cy="382.1" r="3" fill="#ffb012"/>
<circle cx="222.4" cy="382.1" r="3" fill="#7b4518"/>
<circle cx="228.2" cy="382.1" r="3" fill="#7b4518"/>
<circle cx="234" cy="382.1" r="3" fill="#7b4518"/>
<circle cx="239.8" cy="382.1" r="3" fill="#7b4518"/>
<circle cx="245.6" cy="382.1" r="3" fill="#ff9bc5"/>
<circle cx="251.4" cy="382.1" r="3" fill="#ee1289"/>
<circle cx="257.2" cy="382.1" r="3" fill="#ee1289"/>
<circle cx="263" cy="382.1" r="3" fill="#0d3b9c"/>
<circle cx="268.8" cy="382.1" r="3" fill="#ee1289"/>
<circle cx="274.6" cy="382.1" r="3" fill="#ee1289"/>
<text x="50.75" y="387" font-size="6.6" text-anchor="end" stroke="#000" stroke-width="0.22" transform="rotate(-90 50.75 387)">KN223-12</text>
<text x="56.55" y="387" font-size="6.6" text-anchor="end" stroke="#000" stroke-width="0.22" transform="rotate(-90 56.55 387)">U1368</text>
<text x="62.35" y="387" font-size="6.6" text-anchor="end" stroke="#000" stroke-width="0.22" transform="rotate(-90 62.35 387)">U1366</text>
<text x="68.15" y="387" font-size="6.6" text-anchor="end" stroke="#000" stroke-width="0.22" transform="rotate(-90 68.15 387)">U1367</text>
<text x="73.95" y="387" font-size="6.6" text-anchor="end" stroke="#000" stroke-width="0.22" transform="rotate(-90 73.95 387)">U1370</text>
<text x="79.75" y="387" font-size="6.6" text-anchor="end" stroke="#000" stroke-width="0.22" transform="rotate(-90 79.75 387)">U1371</text>
<text x="85.55" y="387" font-size="6.6" text-anchor="end" stroke="#000" stroke-width="0.22" transform="rotate(-90 85.55 387)">U1365</text>
<text x="91.35" y="387" font-size="6.6" text-anchor="end" stroke="#000" stroke-width="0.22" transform="rotate(-90 91.35 387)">U1369</text>
<text x="97.15" y="387" font-size="6.6" text-anchor="end" stroke="#000" stroke-width="0.22" transform="rotate(-90 97.15 387)">KN223-3</text>
<text x="102.95" y="387" font-size="6.6" text-anchor="end" stroke="#000" stroke-width="0.22" transform="rotate(-90 102.95 387)">KR0805</text>
<text x="108.75" y="387" font-size="6.6" text-anchor="end" stroke="#000" stroke-width="0.22" transform="rotate(-90 108.75 387)">U1443</text>
<text x="114.55" y="387" font-size="6.6" text-anchor="end" stroke="#000" stroke-width="0.22" transform="rotate(-90 114.55 387)">1231</text>
<text x="120.35" y="387" font-size="6.6" text-anchor="end" stroke="#000" stroke-width="0.22" transform="rotate(-90 120.35 387)">KN223-15</text>
<text x="126.15" y="387" font-size="6.6" text-anchor="end" stroke="#000" stroke-width="0.22" transform="rotate(-90 126.15 387)">C9001</text>
<text x="131.95" y="387" font-size="6.6" text-anchor="end" stroke="#000" stroke-width="0.22" transform="rotate(-90 131.95 387)">U1423</text>
<text x="137.75" y="387" font-size="6.6" text-anchor="end" stroke="#000" stroke-width="0.22" transform="rotate(-90 137.75 387)">C0006</text>
<text x="143.55" y="387" font-size="6.6" text-anchor="end" stroke="#000" stroke-width="0.22" transform="rotate(-90 143.55 387)">C0007</text>
<text x="149.35" y="387" font-size="6.6" text-anchor="end" stroke="#000" stroke-width="0.22" transform="rotate(-90 149.35 387)">1230</text>
<text x="155.15" y="387" font-size="6.6" text-anchor="end" stroke="#000" stroke-width="0.22" transform="rotate(-90 155.15 387)">U1450</text>
<text x="160.95" y="387" font-size="6.6" text-anchor="end" stroke="#000" stroke-width="0.22" transform="rotate(-90 160.95 387)">C0008</text>
<text x="166.75" y="387" font-size="6.6" text-anchor="end" stroke="#000" stroke-width="0.22" transform="rotate(-90 166.75 387)">C0004</text>
<text x="172.55" y="387" font-size="6.6" text-anchor="end" stroke="#000" stroke-width="0.22" transform="rotate(-90 172.55 387)">C0003</text>
<text x="178.35" y="387" font-size="6.6" text-anchor="end" stroke="#000" stroke-width="0.22" transform="rotate(-90 178.35 387)">C0002</text>
<text x="184.15" y="387" font-size="6.6" text-anchor="end" stroke="#000" stroke-width="0.22" transform="rotate(-90 184.15 387)">1226</text>
<text x="189.95" y="387" font-size="6.6" text-anchor="end" stroke="#000" stroke-width="0.22" transform="rotate(-90 189.95 387)">U1426</text>
<text x="195.75" y="387" font-size="6.6" text-anchor="end" stroke="#000" stroke-width="0.22" transform="rotate(-90 195.75 387)">U1424</text>
<text x="201.55" y="387" font-size="6.6" text-anchor="end" stroke="#000" stroke-width="0.22" transform="rotate(-90 201.55 387)">U1317</text>
<text x="207.35" y="387" font-size="6.6" text-anchor="end" stroke="#000" stroke-width="0.22" transform="rotate(-90 207.35 387)">U1428</text>
<text x="213.15" y="387" font-size="6.6" text-anchor="end" stroke="#000" stroke-width="0.22" transform="rotate(-90 213.15 387)">1227</text>
<text x="218.95" y="387" font-size="6.6" text-anchor="end" stroke="#000" stroke-width="0.22" transform="rotate(-90 218.95 387)">1228</text>
<text x="224.75" y="387" font-size="6.6" text-anchor="end" stroke="#000" stroke-width="0.22" transform="rotate(-90 224.75 387)">M0060</text>
<text x="230.55" y="387" font-size="6.6" text-anchor="end" stroke="#000" stroke-width="0.22" transform="rotate(-90 230.55 387)">M0063</text>
<text x="236.35" y="387" font-size="6.6" text-anchor="end" stroke="#000" stroke-width="0.22" transform="rotate(-90 236.35 387)">M0059</text>
<text x="242.15" y="387" font-size="6.6" text-anchor="end" stroke="#000" stroke-width="0.22" transform="rotate(-90 242.15 387)">M0065</text>
<text x="247.95" y="387" font-size="6.6" text-anchor="end" stroke="#000" stroke-width="0.22" transform="rotate(-90 247.95 387)">U1444</text>
<text x="253.75" y="387" font-size="6.6" text-anchor="end" stroke="#000" stroke-width="0.22" transform="rotate(-90 253.75 387)">U1322</text>
<text x="259.55" y="387" font-size="6.6" text-anchor="end" stroke="#000" stroke-width="0.22" transform="rotate(-90 259.55 387)">U1324</text>
<text x="265.35" y="387" font-size="6.6" text-anchor="end" stroke="#000" stroke-width="0.22" transform="rotate(-90 265.35 387)">1301C</text>
<text x="271.15" y="387" font-size="6.6" text-anchor="end" stroke="#000" stroke-width="0.22" transform="rotate(-90 271.15 387)">U1319</text>
<text x="276.95" y="387" font-size="6.6" text-anchor="end" stroke="#000" stroke-width="0.22" transform="rotate(-90 276.95 387)">U1320</text>
<text transform="translate(293.5 264.5) scale(1.1 1)" font-size="18.3">E</text>
<path d="M327 383 V340.1 H332.87 V383 M338.73 383 V336.3 H344.6 V383 M329.93 340.1 V331.6 H341.66 V336.3 M350.46 383 V333.4 H356.32 V383 M368.06 383 V332.5 H373.92 V383 M362.19 383 V330.6 H370.99 V332.5 M353.39 333.4 V322.1 H366.59 V330.6 M335.8 331.6 V312.1 H359.99 V322.1 M379.79 383 V341.6 H385.65 V383 M391.51 383 V340.4 H397.38 V383 M382.72 341.6 V337.6 H394.45 V340.4 M403.25 383 V335.9 H409.11 V383 M388.58 337.6 V334.4 H406.18 V335.9 M414.98 383 V340 H420.84 V383 M426.7 383 V338.75 H432.57 V383 M417.91 340 V334 H429.64 V338.75 M397.38 334.4 V329.6 H423.77 V334 M450.17 383 V335 H456.03 V383 M444.3 383 V333.75 H453.1 V335 M438.44 383 V330.25 H448.7 V333.75 M467.76 383 V337.1 H473.62 V383 M461.89 383 V331.25 H470.69 V337.1 M479.49 383 V328.4 H485.36 V383 M466.29 331.25 V326.5 H482.42 V328.4 M443.57 330.25 V324 H474.36 V326.5 M410.58 329.6 V320.25 H458.96 V324 M497.09 383 V334.7 H502.95 V383 M491.22 383 V334.4 H500.02 V334.7 M508.81 383 V340.6 H514.68 V383 M520.55 383 V337.5 H526.41 V383 M511.75 340.6 V331.25 H523.48 V337.5 M532.27 383 V334.6 H538.14 V383 M549.87 383 V340.6 H555.74 V383 M544 383 V334.7 H552.8 V340.6 M535.21 334.6 V320.25 H548.4 V334.7 M517.61 331.25 V316.9 H541.81 V320.25 M495.62 334.4 V311.25 H529.71 V316.9 M434.77 320.25 V307.5 H512.66 V311.25 M347.89 312.1 V286.6 H473.72 V307.5" fill="none" stroke="#000" stroke-width="1.1" stroke-linejoin="miter"/>
<path d="M318.1 279.6 V346.7 M318.1 289 H309.8 M318.1 300.4 H309.8 M318.1 312.1 H309.8 M318.1 323.4 H309.8 M318.1 335 H309.8 M318.1 346.7 H309.8" fill="none" stroke="#000" stroke-width="1.1"/>
<text x="293" y="312.1" font-size="14.2" text-anchor="middle" font-weight="normal" fill="#000" transform="rotate(-90 293 312.1)" dy="5.1" textLength="17.9" lengthAdjust="spacingAndGlyphs">1.2</text>
<text x="293" y="346.7" font-size="14.2" text-anchor="middle" font-weight="normal" fill="#000" transform="rotate(-90 293 346.7)" dy="5.1" textLength="17.9" lengthAdjust="spacingAndGlyphs">0.6</text>
<text x="421" y="280.5" font-size="13.6" text-anchor="middle" font-weight="bold" fill="#000">Bacteria</text>
<circle cx="327" cy="383" r="3" fill="#12b5f0"/>
<circle cx="332.87" cy="383" r="3" fill="#12b5f0"/>
<circle cx="338.73" cy="383" r="3" fill="#000000"/>
<circle cx="344.6" cy="383" r="3" fill="#12b5f0"/>
<circle cx="350.46" cy="383" r="3" fill="#0fb22a"/>
<circle cx="356.32" cy="383" r="3" fill="#0fb22a"/>
<circle cx="362.19" cy="383" r="3" fill="#12b5f0"/>
<circle cx="368.06" cy="383" r="3" fill="#12b5f0"/>
<circle cx="373.92" cy="383" r="3" fill="#12b5f0"/>
<circle cx="379.79" cy="383" r="3.35" fill="#8a1a9a"/>
<circle cx="385.65" cy="383" r="3.35" fill="#8a1a9a"/>
<circle cx="391.51" cy="383" r="3.35" fill="#8a1a9a"/>
<circle cx="397.38" cy="383" r="3.35" fill="#8a1a9a"/>
<circle cx="403.25" cy="383" r="3" fill="#ffb012"/>
<circle cx="409.11" cy="383" r="3" fill="#0d3b9c"/>
<circle cx="414.98" cy="383" r="3.35" fill="#8a1a9a"/>
<circle cx="420.84" cy="383" r="3.35" fill="#8a1a9a"/>
<circle cx="426.7" cy="383" r="3" fill="#ff9bc5"/>
<circle cx="432.57" cy="383" r="3" fill="#4c9a2f"/>
<circle cx="438.44" cy="383" r="3" fill="#ff9bc5"/>
<circle cx="444.3" cy="383" r="3" fill="#ffb012"/>
<circle cx="450.17" cy="383" r="3" fill="#ffb012"/>
<circle cx="456.03" cy="383" r="3" fill="#0fb22a"/>
<circle cx="461.89" cy="383" r="3" fill="#3a6b45"/>
<circle cx="467.76" cy="383" r="3" fill="#ff0d0d"/>
<circle cx="473.62" cy="383" r="3" fill="#3a6b45"/>
<circle cx="479.49" cy="383" r="3" fill="#7b4518"/>
<circle cx="485.36" cy="383" r="3" fill="#3a6b45"/>
<circle cx="491.22" cy="383" r="3" fill="#7b4518"/>
<circle cx="497.09" cy="383" r="3" fill="#7b4518"/>
<circle cx="502.95" cy="383" r="3" fill="#7b4518"/>
<circle cx="508.81" cy="383" r="3" fill="#ee1289"/>
<circle cx="514.68" cy="383" r="3" fill="#ee1289"/>
<circle cx="520.55" cy="383" r="3" fill="#ee1289"/>
<circle cx="526.41" cy="383" r="3" fill="#ee1289"/>
<circle cx="532.27" cy="383" r="3" fill="#9b9b9b"/>
<circle cx="538.14" cy="383" r="3" fill="#12b5f0"/>
<circle cx="544" cy="383" r="3" fill="#3a6b45"/>
<circle cx="549.87" cy="383" r="3" fill="#ffb012"/>
<circle cx="555.74" cy="383" r="3" fill="#ffb012"/>
<text x="329.35" y="387.9" font-size="6.6" text-anchor="end" stroke="#000" stroke-width="0.22" transform="rotate(-90 329.35 387.9)">U1365</text>
<text x="335.22" y="387.9" font-size="6.6" text-anchor="end" stroke="#000" stroke-width="0.22" transform="rotate(-90 335.22 387.9)">U1369</text>
<text x="341.08" y="387.9" font-size="6.6" text-anchor="end" stroke="#000" stroke-width="0.22" transform="rotate(-90 341.08 387.9)">KR0805</text>
<text x="346.95" y="387.9" font-size="6.6" text-anchor="end" stroke="#000" stroke-width="0.22" transform="rotate(-90 346.95 387.9)">U1371</text>
<text x="352.81" y="387.9" font-size="6.6" text-anchor="end" stroke="#000" stroke-width="0.22" transform="rotate(-90 352.81 387.9)">KN223-12</text>
<text x="358.68" y="387.9" font-size="6.6" text-anchor="end" stroke="#000" stroke-width="0.22" transform="rotate(-90 358.68 387.9)">KN223-3</text>
<text x="364.54" y="387.9" font-size="6.6" text-anchor="end" stroke="#000" stroke-width="0.22" transform="rotate(-90 364.54 387.9)">U1367</text>
<text x="370.41" y="387.9" font-size="6.6" text-anchor="end" stroke="#000" stroke-width="0.22" transform="rotate(-90 370.41 387.9)">U1368</text>
<text x="376.27" y="387.9" font-size="6.6" text-anchor="end" stroke="#000" stroke-width="0.22" transform="rotate(-90 376.27 387.9)">U1370</text>
<text x="382.14" y="387.9" font-size="6.6" text-anchor="end" stroke="#000" stroke-width="0.22" transform="rotate(-90 382.14 387.9)">C0002</text>
<text x="388" y="387.9" font-size="6.6" text-anchor="end" stroke="#000" stroke-width="0.22" transform="rotate(-90 388 387.9)">C0003</text>
<text x="393.87" y="387.9" font-size="6.6" text-anchor="end" stroke="#000" stroke-width="0.22" transform="rotate(-90 393.87 387.9)">C0001</text>
<text x="399.73" y="387.9" font-size="6.6" text-anchor="end" stroke="#000" stroke-width="0.22" transform="rotate(-90 399.73 387.9)">C0004</text>
<text x="405.6" y="387.9" font-size="6.6" text-anchor="end" stroke="#000" stroke-width="0.22" transform="rotate(-90 405.6 387.9)">1226</text>
<text x="411.46" y="387.9" font-size="6.6" text-anchor="end" stroke="#000" stroke-width="0.22" transform="rotate(-90 411.46 387.9)">1301C</text>
<text x="417.33" y="387.9" font-size="6.6" text-anchor="end" stroke="#000" stroke-width="0.22" transform="rotate(-90 417.33 387.9)">C0006</text>
<text x="423.19" y="387.9" font-size="6.6" text-anchor="end" stroke="#000" stroke-width="0.22" transform="rotate(-90 423.19 387.9)">C0007</text>
<text x="429.06" y="387.9" font-size="6.6" text-anchor="end" stroke="#000" stroke-width="0.22" transform="rotate(-90 429.06 387.9)">U1444</text>
<text x="434.92" y="387.9" font-size="6.6" text-anchor="end" stroke="#000" stroke-width="0.22" transform="rotate(-90 434.92 387.9)">U1450</text>
<text x="440.79" y="387.9" font-size="6.6" text-anchor="end" stroke="#000" stroke-width="0.22" transform="rotate(-90 440.79 387.9)">U1443</text>
<text x="446.65" y="387.9" font-size="6.6" text-anchor="end" stroke="#000" stroke-width="0.22" transform="rotate(-90 446.65 387.9)">1231</text>
<text x="452.52" y="387.9" font-size="6.6" text-anchor="end" stroke="#000" stroke-width="0.22" transform="rotate(-90 452.52 387.9)">1230</text>
<text x="458.38" y="387.9" font-size="6.6" text-anchor="end" stroke="#000" stroke-width="0.22" transform="rotate(-90 458.38 387.9)">KN223-15</text>
<text x="464.25" y="387.9" font-size="6.6" text-anchor="end" stroke="#000" stroke-width="0.22" transform="rotate(-90 464.25 387.9)">U1423</text>
<text x="470.11" y="387.9" font-size="6.6" text-anchor="end" stroke="#000" stroke-width="0.22" transform="rotate(-90 470.11 387.9)">C9001</text>
<text x="475.98" y="387.9" font-size="6.6" text-anchor="end" stroke="#000" stroke-width="0.22" transform="rotate(-90 475.98 387.9)">U1426</text>
<text x="481.84" y="387.9" font-size="6.6" text-anchor="end" stroke="#000" stroke-width="0.22" transform="rotate(-90 481.84 387.9)">M0060</text>
<text x="487.71" y="387.9" font-size="6.6" text-anchor="end" stroke="#000" stroke-width="0.22" transform="rotate(-90 487.71 387.9)">U1424</text>
<text x="493.57" y="387.9" font-size="6.6" text-anchor="end" stroke="#000" stroke-width="0.22" transform="rotate(-90 493.57 387.9)">M0059</text>
<text x="499.44" y="387.9" font-size="6.6" text-anchor="end" stroke="#000" stroke-width="0.22" transform="rotate(-90 499.44 387.9)">M0063</text>
<text x="505.3" y="387.9" font-size="6.6" text-anchor="end" stroke="#000" stroke-width="0.22" transform="rotate(-90 505.3 387.9)">M0065</text>
<text x="511.17" y="387.9" font-size="6.6" text-anchor="end" stroke="#000" stroke-width="0.22" transform="rotate(-90 511.17 387.9)">U1319</text>
<text x="517.03" y="387.9" font-size="6.6" text-anchor="end" stroke="#000" stroke-width="0.22" transform="rotate(-90 517.03 387.9)">U1320</text>
<text x="522.9" y="387.9" font-size="6.6" text-anchor="end" stroke="#000" stroke-width="0.22" transform="rotate(-90 522.9 387.9)">U1322</text>
<text x="528.76" y="387.9" font-size="6.6" text-anchor="end" stroke="#000" stroke-width="0.22" transform="rotate(-90 528.76 387.9)">U1324</text>
<text x="534.62" y="387.9" font-size="6.6" text-anchor="end" stroke="#000" stroke-width="0.22" transform="rotate(-90 534.62 387.9)">U1317</text>
<text x="540.49" y="387.9" font-size="6.6" text-anchor="end" stroke="#000" stroke-width="0.22" transform="rotate(-90 540.49 387.9)">U1366</text>
<text x="546.36" y="387.9" font-size="6.6" text-anchor="end" stroke="#000" stroke-width="0.22" transform="rotate(-90 546.36 387.9)">U1428</text>
<text x="552.22" y="387.9" font-size="6.6" text-anchor="end" stroke="#000" stroke-width="0.22" transform="rotate(-90 552.22 387.9)">1227</text>
<text x="558.09" y="387.9" font-size="6.6" text-anchor="end" stroke="#000" stroke-width="0.22" transform="rotate(-90 558.09 387.9)">1228</text>
<text transform="translate(571.5 264.5) scale(1.1 1)" font-size="18.3">F</text>
<path d="M623.14 383 V342.1 H628.91 V383 M617.37 383 V336.25 H626.02 V342.1 M611.6 383 V333.75 H621.7 V336.25 M634.68 383 V335.6 H640.45 V383 M646.22 383 V337.1 H651.99 V383 M657.76 383 V334.4 H663.53 V383 M649.11 337.1 V333.8 H660.64 V334.4 M637.57 335.6 V330.6 H654.88 V333.8 M616.65 333.75 V318.1 H646.22 V330.6 M669.3 383 V342.8 H675.07 V383 M680.84 383 V340.6 H686.61 V383 M672.19 342.8 V337.75 H683.73 V340.6 M692.38 383 V343.1 H698.15 V383 M703.92 383 V342.5 H709.69 V383 M695.26 343.1 V340.9 H706.81 V342.5 M721.23 383 V338.75 H727 V383 M715.46 383 V337.5 H724.12 V338.75 M701.04 340.9 V334.6 H719.79 V337.5 M677.96 337.75 V333.1 H710.41 V334.6 M744.31 383 V340 H750.08 V383 M738.54 383 V334.6 H747.19 V340 M732.77 383 V330.6 H742.87 V334.6 M767.39 383 V335.9 H773.16 V383 M761.62 383 V333.75 H770.28 V335.9 M755.85 383 V330 H765.95 V333.75 M737.82 330.6 V327.75 H760.9 V330 M694.18 333.1 V323.5 H749.36 V327.75 M784.7 383 V336.5 H790.47 V383 M778.93 383 V335.6 H787.59 V336.5 M796.24 383 V343.1 H802.01 V383 M807.78 383 V342.1 H813.55 V383 M799.12 343.1 V334.4 H810.66 V342.1 M830.86 383 V342.1 H836.63 V383 M825.09 383 V337.75 H833.75 V342.1 M819.32 383 V333.75 H829.42 V337.75 M804.89 334.4 V320.25 H824.37 V333.75 M783.26 335.6 V316.5 H814.63 V320.25 M721.77 323.5 V313.1 H798.94 V316.5 M631.43 318.1 V288.1 H760.36 V313.1" fill="none" stroke="#000" stroke-width="1.1" stroke-linejoin="miter"/>
<path d="M602.5 284.7 V349 M602.5 284.7 H594.2 M602.5 295.3 H594.2 M602.5 306 H594.2 M602.5 316.8 H594.2 M602.5 327.4 H594.2 M602.5 338.2 H594.2 M602.5 349 H594.2" fill="none" stroke="#000" stroke-width="1.1"/>
<text x="577.6" y="284.7" font-size="14.2" text-anchor="middle" font-weight="normal" fill="#000" transform="rotate(-90 577.6 284.7)" dy="5.1" textLength="17.9" lengthAdjust="spacingAndGlyphs">1.8</text>
<text x="577.6" y="316.8" font-size="14.2" text-anchor="middle" font-weight="normal" fill="#000" transform="rotate(-90 577.6 316.8)" dy="5.1" textLength="17.9" lengthAdjust="spacingAndGlyphs">1.2</text>
<text x="577.6" y="349" font-size="14.2" text-anchor="middle" font-weight="normal" fill="#000" transform="rotate(-90 577.6 349)" dy="5.1" textLength="17.9" lengthAdjust="spacingAndGlyphs">0.6</text>
<text x="710.2" y="281.3" font-size="13.6" text-anchor="middle" font-weight="bold" fill="#000">Universal</text>
<circle cx="611.6" cy="383" r="3" fill="#000000"/>
<circle cx="617.37" cy="383" r="3" fill="#12b5f0"/>
<circle cx="623.14" cy="383" r="3" fill="#12b5f0"/>
<circle cx="628.91" cy="383" r="3" fill="#12b5f0"/>
<circle cx="634.68" cy="383" r="3" fill="#12b5f0"/>
<circle cx="640.45" cy="383" r="3" fill="#12b5f0"/>
<circle cx="646.22" cy="383" r="3" fill="#0fb22a"/>
<circle cx="651.99" cy="383" r="3" fill="#0fb22a"/>
<circle cx="657.76" cy="383" r="3" fill="#12b5f0"/>
<circle cx="663.53" cy="383" r="3" fill="#12b5f0"/>
<circle cx="669.3" cy="383" r="3.35" fill="#8a1a9a"/>
<circle cx="675.07" cy="383" r="3" fill="#92198b"/>
<circle cx="680.84" cy="383" r="3" fill="#ff9bc5"/>
<circle cx="686.61" cy="383" r="3" fill="#4c9a2f"/>
<circle cx="692.38" cy="383" r="3.35" fill="#8a1a9a"/>
<circle cx="698.15" cy="383" r="3.35" fill="#8a1a9a"/>
<circle cx="703.92" cy="383" r="3.35" fill="#8a1a9a"/>
<circle cx="709.69" cy="383" r="3.35" fill="#8a1a9a"/>
<circle cx="715.46" cy="383" r="3" fill="#ffb012"/>
<circle cx="721.23" cy="383" r="3" fill="#ffb012"/>
<circle cx="727" cy="383" r="3" fill="#0d3b9c"/>
<circle cx="732.77" cy="383" r="3" fill="#7b4518"/>
<circle cx="738.54" cy="383" r="3" fill="#3a6b45"/>
<circle cx="744.31" cy="383" r="3" fill="#ff0d0d"/>
<circle cx="750.08" cy="383" r="3" fill="#3a6b45"/>
<circle cx="755.85" cy="383" r="3" fill="#3a6b45"/>
<circle cx="761.62" cy="383" r="3" fill="#ff9bc5"/>
<circle cx="767.39" cy="383" r="3" fill="#ffb012"/>
<circle cx="773.16" cy="383" r="3" fill="#0fb22a"/>
<circle cx="778.93" cy="383" r="3" fill="#7b4518"/>
<circle cx="784.7" cy="383" r="3" fill="#7b4518"/>
<circle cx="790.47" cy="383" r="3" fill="#7b4518"/>
<circle cx="796.24" cy="383" r="3" fill="#ee1289"/>
<circle cx="802.01" cy="383" r="3" fill="#ee1289"/>
<circle cx="807.78" cy="383" r="3" fill="#ee1289"/>
<circle cx="813.55" cy="383" r="3" fill="#ee1289"/>
<circle cx="819.32" cy="383" r="3" fill="#9b9b9b"/>
<circle cx="825.09" cy="383" r="3" fill="#3a6b45"/>
<circle cx="830.86" cy="383" r="3" fill="#ffb012"/>
<circle cx="836.63" cy="383" r="3" fill="#ffb012"/>
<text x="613.95" y="387.9" font-size="6.6" text-anchor="end" stroke="#000" stroke-width="0.22" transform="rotate(-90 613.95 387.9)">KR0805</text>
<text x="619.72" y="387.9" font-size="6.6" text-anchor="end" stroke="#000" stroke-width="0.22" transform="rotate(-90 619.72 387.9)">U1371</text>
<text x="625.49" y="387.9" font-size="6.6" text-anchor="end" stroke="#000" stroke-width="0.22" transform="rotate(-90 625.49 387.9)">U1365</text>
<text x="631.26" y="387.9" font-size="6.6" text-anchor="end" stroke="#000" stroke-width="0.22" transform="rotate(-90 631.26 387.9)">U1369</text>
<text x="637.03" y="387.9" font-size="6.6" text-anchor="end" stroke="#000" stroke-width="0.22" transform="rotate(-90 637.03 387.9)">U1368</text>
<text x="642.8" y="387.9" font-size="6.6" text-anchor="end" stroke="#000" stroke-width="0.22" transform="rotate(-90 642.8 387.9)">U1370</text>
<text x="648.57" y="387.9" font-size="6.6" text-anchor="end" stroke="#000" stroke-width="0.22" transform="rotate(-90 648.57 387.9)">KN223-12</text>
<text x="654.34" y="387.9" font-size="6.6" text-anchor="end" stroke="#000" stroke-width="0.22" transform="rotate(-90 654.34 387.9)">KN223-3</text>
<text x="660.11" y="387.9" font-size="6.6" text-anchor="end" stroke="#000" stroke-width="0.22" transform="rotate(-90 660.11 387.9)">U1366</text>
<text x="665.88" y="387.9" font-size="6.6" text-anchor="end" stroke="#000" stroke-width="0.22" transform="rotate(-90 665.88 387.9)">U1367</text>
<text x="671.65" y="387.9" font-size="6.6" text-anchor="end" stroke="#000" stroke-width="0.22" transform="rotate(-90 671.65 387.9)">C0006</text>
<text x="677.42" y="387.9" font-size="6.6" text-anchor="end" stroke="#000" stroke-width="0.22" transform="rotate(-90 677.42 387.9)">C0007</text>
<text x="683.19" y="387.9" font-size="6.6" text-anchor="end" stroke="#000" stroke-width="0.22" transform="rotate(-90 683.19 387.9)">U1444</text>
<text x="688.96" y="387.9" font-size="6.6" text-anchor="end" stroke="#000" stroke-width="0.22" transform="rotate(-90 688.96 387.9)">U1450</text>
<text x="694.73" y="387.9" font-size="6.6" text-anchor="end" stroke="#000" stroke-width="0.22" transform="rotate(-90 694.73 387.9)">C0001</text>
<text x="700.5" y="387.9" font-size="6.6" text-anchor="end" stroke="#000" stroke-width="0.22" transform="rotate(-90 700.5 387.9)">C0004</text>
<text x="706.27" y="387.9" font-size="6.6" text-anchor="end" stroke="#000" stroke-width="0.22" transform="rotate(-90 706.27 387.9)">C0002</text>
<text x="712.04" y="387.9" font-size="6.6" text-anchor="end" stroke="#000" stroke-width="0.22" transform="rotate(-90 712.04 387.9)">C0003</text>
<text x="717.81" y="387.9" font-size="6.6" text-anchor="end" stroke="#000" stroke-width="0.22" transform="rotate(-90 717.81 387.9)">1230</text>
<text x="723.58" y="387.9" font-size="6.6" text-anchor="end" stroke="#000" stroke-width="0.22" transform="rotate(-90 723.58 387.9)">1226</text>
<text x="729.35" y="387.9" font-size="6.6" text-anchor="end" stroke="#000" stroke-width="0.22" transform="rotate(-90 729.35 387.9)">1301C</text>
<text x="735.12" y="387.9" font-size="6.6" text-anchor="end" stroke="#000" stroke-width="0.22" transform="rotate(-90 735.12 387.9)">M0060</text>
<text x="740.89" y="387.9" font-size="6.6" text-anchor="end" stroke="#000" stroke-width="0.22" transform="rotate(-90 740.89 387.9)">U1423</text>
<text x="746.66" y="387.9" font-size="6.6" text-anchor="end" stroke="#000" stroke-width="0.22" transform="rotate(-90 746.66 387.9)">C9001</text>
<text x="752.43" y="387.9" font-size="6.6" text-anchor="end" stroke="#000" stroke-width="0.22" transform="rotate(-90 752.43 387.9)">U1426</text>
<text x="758.2" y="387.9" font-size="6.6" text-anchor="end" stroke="#000" stroke-width="0.22" transform="rotate(-90 758.2 387.9)">U1424</text>
<text x="763.97" y="387.9" font-size="6.6" text-anchor="end" stroke="#000" stroke-width="0.22" transform="rotate(-90 763.97 387.9)">U1443</text>
<text x="769.74" y="387.9" font-size="6.6" text-anchor="end" stroke="#000" stroke-width="0.22" transform="rotate(-90 769.74 387.9)">1231</text>
<text x="775.51" y="387.9" font-size="6.6" text-anchor="end" stroke="#000" stroke-width="0.22" transform="rotate(-90 775.51 387.9)">KN223-15</text>
<text x="781.28" y="387.9" font-size="6.6" text-anchor="end" stroke="#000" stroke-width="0.22" transform="rotate(-90 781.28 387.9)">M0063</text>
<text x="787.05" y="387.9" font-size="6.6" text-anchor="end" stroke="#000" stroke-width="0.22" transform="rotate(-90 787.05 387.9)">M0059</text>
<text x="792.82" y="387.9" font-size="6.6" text-anchor="end" stroke="#000" stroke-width="0.22" transform="rotate(-90 792.82 387.9)">M0065</text>
<text x="798.59" y="387.9" font-size="6.6" text-anchor="end" stroke="#000" stroke-width="0.22" transform="rotate(-90 798.59 387.9)">U1319</text>
<text x="804.36" y="387.9" font-size="6.6" text-anchor="end" stroke="#000" stroke-width="0.22" transform="rotate(-90 804.36 387.9)">U1320</text>
<text x="810.13" y="387.9" font-size="6.6" text-anchor="end" stroke="#000" stroke-width="0.22" transform="rotate(-90 810.13 387.9)">U1322</text>
<text x="815.9" y="387.9" font-size="6.6" text-anchor="end" stroke="#000" stroke-width="0.22" transform="rotate(-90 815.9 387.9)">U1324</text>
<text x="821.67" y="387.9" font-size="6.6" text-anchor="end" stroke="#000" stroke-width="0.22" transform="rotate(-90 821.67 387.9)">U1317</text>
<text x="827.44" y="387.9" font-size="6.6" text-anchor="end" stroke="#000" stroke-width="0.22" transform="rotate(-90 827.44 387.9)">U1428</text>
<text x="833.21" y="387.9" font-size="6.6" text-anchor="end" stroke="#000" stroke-width="0.22" transform="rotate(-90 833.21 387.9)">1227</text>
<text x="838.98" y="387.9" font-size="6.6" text-anchor="end" stroke="#000" stroke-width="0.22" transform="rotate(-90 838.98 387.9)">1228</text>
<text transform="translate(11.2 444.8) scale(1.1 1)" font-size="18.3">G</text>
<path d="M54 566 V561.9 H59.72 V566 M56.86 561.9 V551.6 H65.43 V566 M61.14 551.6 V543.7 H71.14 V566 M76.86 566 V554.6 H82.58 V566 M79.72 554.6 V547.3 H88.29 V566 M94 566 V557.9 H99.72 V566 M84 547.3 V543.7 H96.86 V557.9 M66.14 543.7 V498.4 H90.43 V543.7 M105.44 566 V559.1 H111.15 V566 M108.29 559.1 V556.5 H116.86 V566 M112.58 556.5 V551.6 H122.58 V566 M117.58 551.6 V547.7 H128.3 V566 M122.94 547.7 V537.4 H134.01 V566 M139.72 566 V558.5 H145.44 V566 M142.58 558.5 V556 H151.16 V566 M146.87 556 V553 H156.87 V566 M162.58 566 V556.6 H168.3 V566 M151.87 553 V549.7 H165.44 V556.6 M128.47 537.4 V535.9 H158.66 V549.7 M174.01 566 V562.5 H179.73 V566 M176.87 562.5 V556.6 H185.44 V566 M181.16 556.6 V552.6 H191.16 V566 M196.88 566 V557.5 H202.59 V566 M186.16 552.6 V546.7 H199.73 V557.5 M192.95 546.7 V541.2 H208.31 V566 M143.56 535.9 V514.2 H200.63 V541.2 M214.02 566 V556.6 H219.73 V566 M216.88 556.6 V552.6 H225.45 V566 M221.16 552.6 V551 H231.16 V566 M226.16 551 V539.8 H236.88 V566 M242.59 566 V554.6 H248.31 V566 M245.45 554.6 V553.6 H254.03 V566 M259.74 566 V559.5 H265.45 V566 M249.74 553.6 V546.1 H262.6 V559.5 M271.17 566 V560.5 H276.88 V566 M256.17 546.1 V544.7 H274.03 V560.5 M231.52 539.8 V527.6 H265.1 V544.7 M172.1 514.2 V508.9 H248.31 V527.6 M78.29 498.4 V467.5 H210.2 V508.9" fill="none" stroke="#000" stroke-width="1.1" stroke-linejoin="miter"/>
<path d="M42.5 462.8 V564.4 M42.5 462.8 H34.2 M42.5 483.2 H34.2 M42.5 503.4 H34.2 M42.5 523.8 H34.2 M42.5 544.1 H34.2 M42.5 564.4 H34.2" fill="none" stroke="#000" stroke-width="1.1"/>
<text x="17.6" y="483.2" font-size="14.2" text-anchor="middle" font-weight="normal" fill="#000" transform="rotate(-90 17.6 483.2)" dy="5.1" textLength="17.9" lengthAdjust="spacingAndGlyphs">2.0</text>
<text x="17.6" y="523.8" font-size="14.2" text-anchor="middle" font-weight="normal" fill="#000" transform="rotate(-90 17.6 523.8)" dy="5.1" textLength="17.9" lengthAdjust="spacingAndGlyphs">1.0</text>
<text x="17.6" y="564.4" font-size="14.2" text-anchor="middle" font-weight="normal" fill="#000" transform="rotate(-90 17.6 564.4)" dy="5.1" textLength="17.9" lengthAdjust="spacingAndGlyphs">0.0</text>
<text x="146" y="460" font-size="13.6" text-anchor="middle" font-weight="bold" fill="#000">Lithology</text>
<circle cx="54" cy="566.2" r="3" fill="#12b5f0"/>
<circle cx="59.72" cy="566.2" r="3" fill="#12b5f0"/>
<circle cx="65.43" cy="566.2" r="3" fill="#12b5f0"/>
<circle cx="71.14" cy="566.2" r="3" fill="#12b5f0"/>
<circle cx="76.86" cy="566.2" r="3" fill="#ff9bc5"/>
<circle cx="82.58" cy="566.2" r="3" fill="#0fb22a"/>
<circle cx="88.29" cy="566.2" r="3" fill="#ffb012"/>
<circle cx="94" cy="566.2" r="3" fill="#12b5f0"/>
<circle cx="99.72" cy="566.2" r="3" fill="#12b5f0"/>
<circle cx="105.44" cy="566.2" r="3" fill="#3a6b45"/>
<circle cx="111.15" cy="566.2" r="3" fill="#3a6b45"/>
<circle cx="116.86" cy="566.2" r="3" fill="#3a6b45"/>
<circle cx="122.58" cy="566.2" r="3.35" fill="#8a1a9a"/>
<circle cx="128.3" cy="566.2" r="3" fill="#0fb22a"/>
<circle cx="134.01" cy="566.2" r="3" fill="#000000"/>
<circle cx="139.72" cy="566.2" r="3" fill="#7b4518"/>
<circle cx="145.44" cy="566.2" r="3" fill="#ee1289"/>
<circle cx="151.16" cy="566.2" r="3" fill="#7b4518"/>
<circle cx="156.87" cy="566.2" r="3" fill="#7b4518"/>
<circle cx="162.58" cy="566.2" r="3" fill="#ee1289"/>
<circle cx="168.3" cy="566.2" r="3" fill="#ee1289"/>
<circle cx="174.01" cy="566.2" r="3" fill="#ffb012"/>
<circle cx="179.73" cy="566.2" r="3" fill="#ffb012"/>
<circle cx="185.44" cy="566.2" r="3" fill="#ffb012"/>
<circle cx="191.16" cy="566.2" r="3" fill="#ff0d0d"/>
<circle cx="196.88" cy="566.2" r="3" fill="#3a6b45"/>
<circle cx="202.59" cy="566.2" r="3" fill="#ffb012"/>
<circle cx="208.31" cy="566.2" r="3" fill="#12b5f0"/>
<circle cx="214.02" cy="566.2" r="3.35" fill="#8a1a9a"/>
<circle cx="219.73" cy="566.2" r="3.35" fill="#8a1a9a"/>
<circle cx="225.45" cy="566.2" r="3.35" fill="#8a1a9a"/>
<circle cx="231.16" cy="566.2" r="3" fill="#0fb22a"/>
<circle cx="236.88" cy="566.2" r="3" fill="#9b9b9b"/>
<circle cx="242.59" cy="566.2" r="3" fill="#4c9a2f"/>
<circle cx="248.31" cy="566.2" r="3" fill="#0d3b9c"/>
<circle cx="254.03" cy="566.2" r="3" fill="#ff9bc5"/>
<circle cx="259.74" cy="566.2" r="3" fill="#7b4518"/>
<circle cx="265.45" cy="566.2" r="3" fill="#ee1289"/>
<circle cx="271.17" cy="566.2" r="3.35" fill="#8a1a9a"/>
<circle cx="276.88" cy="566.2" r="3.35" fill="#8a1a9a"/>
<text x="56.35" y="570.6" font-size="6.6" text-anchor="end" stroke="#000" stroke-width="0.22" transform="rotate(-90 56.35 570.6)">U1370</text>
<text x="62.07" y="570.6" font-size="6.6" text-anchor="end" stroke="#000" stroke-width="0.22" transform="rotate(-90 62.07 570.6)">U1365</text>
<text x="67.78" y="570.6" font-size="6.6" text-anchor="end" stroke="#000" stroke-width="0.22" transform="rotate(-90 67.78 570.6)">U1366</text>
<text x="73.49" y="570.6" font-size="6.6" text-anchor="end" stroke="#000" stroke-width="0.22" transform="rotate(-90 73.49 570.6)">U1369</text>
<text x="79.21" y="570.6" font-size="6.6" text-anchor="end" stroke="#000" stroke-width="0.22" transform="rotate(-90 79.21 570.6)">U1443</text>
<text x="84.92" y="570.6" font-size="6.6" text-anchor="end" stroke="#000" stroke-width="0.22" transform="rotate(-90 84.92 570.6)">KN223-3</text>
<text x="90.64" y="570.6" font-size="6.6" text-anchor="end" stroke="#000" stroke-width="0.22" transform="rotate(-90 90.64 570.6)">1226</text>
<text x="96.35" y="570.6" font-size="6.6" text-anchor="end" stroke="#000" stroke-width="0.22" transform="rotate(-90 96.35 570.6)">U1368</text>
<text x="102.07" y="570.6" font-size="6.6" text-anchor="end" stroke="#000" stroke-width="0.22" transform="rotate(-90 102.07 570.6)">U1367</text>
<text x="107.78" y="570.6" font-size="6.6" text-anchor="end" stroke="#000" stroke-width="0.22" transform="rotate(-90 107.78 570.6)">U1426</text>
<text x="113.5" y="570.6" font-size="6.6" text-anchor="end" stroke="#000" stroke-width="0.22" transform="rotate(-90 113.5 570.6)">U1424</text>
<text x="119.21" y="570.6" font-size="6.6" text-anchor="end" stroke="#000" stroke-width="0.22" transform="rotate(-90 119.21 570.6)">U1423</text>
<text x="124.93" y="570.6" font-size="6.6" text-anchor="end" stroke="#000" stroke-width="0.22" transform="rotate(-90 124.93 570.6)">C0008</text>
<text x="130.65" y="570.6" font-size="6.6" text-anchor="end" stroke="#000" stroke-width="0.22" transform="rotate(-90 130.65 570.6)">KN223-12</text>
<text x="136.36" y="570.6" font-size="6.6" text-anchor="end" stroke="#000" stroke-width="0.22" transform="rotate(-90 136.36 570.6)">KR0805</text>
<text x="142.07" y="570.6" font-size="6.6" text-anchor="end" stroke="#000" stroke-width="0.22" transform="rotate(-90 142.07 570.6)">M0065</text>
<text x="147.79" y="570.6" font-size="6.6" text-anchor="end" stroke="#000" stroke-width="0.22" transform="rotate(-90 147.79 570.6)">U1322</text>
<text x="153.5" y="570.6" font-size="6.6" text-anchor="end" stroke="#000" stroke-width="0.22" transform="rotate(-90 153.5 570.6)">M0063</text>
<text x="159.22" y="570.6" font-size="6.6" text-anchor="end" stroke="#000" stroke-width="0.22" transform="rotate(-90 159.22 570.6)">M0059</text>
<text x="164.93" y="570.6" font-size="6.6" text-anchor="end" stroke="#000" stroke-width="0.22" transform="rotate(-90 164.93 570.6)">U1319</text>
<text x="170.65" y="570.6" font-size="6.6" text-anchor="end" stroke="#000" stroke-width="0.22" transform="rotate(-90 170.65 570.6)">U1320</text>
<text x="176.36" y="570.6" font-size="6.6" text-anchor="end" stroke="#000" stroke-width="0.22" transform="rotate(-90 176.36 570.6)">1230</text>
<text x="182.08" y="570.6" font-size="6.6" text-anchor="end" stroke="#000" stroke-width="0.22" transform="rotate(-90 182.08 570.6)">1228</text>
<text x="187.79" y="570.6" font-size="6.6" text-anchor="end" stroke="#000" stroke-width="0.22" transform="rotate(-90 187.79 570.6)">1227</text>
<text x="193.51" y="570.6" font-size="6.6" text-anchor="end" stroke="#000" stroke-width="0.22" transform="rotate(-90 193.51 570.6)">C9001</text>
<text x="199.22" y="570.6" font-size="6.6" text-anchor="end" stroke="#000" stroke-width="0.22" transform="rotate(-90 199.22 570.6)">U1428</text>
<text x="204.94" y="570.6" font-size="6.6" text-anchor="end" stroke="#000" stroke-width="0.22" transform="rotate(-90 204.94 570.6)">1231</text>
<text x="210.66" y="570.6" font-size="6.6" text-anchor="end" stroke="#000" stroke-width="0.22" transform="rotate(-90 210.66 570.6)">U1371</text>
<text x="216.37" y="570.6" font-size="6.6" text-anchor="end" stroke="#000" stroke-width="0.22" transform="rotate(-90 216.37 570.6)">C0004</text>
<text x="222.08" y="570.6" font-size="6.6" text-anchor="end" stroke="#000" stroke-width="0.22" transform="rotate(-90 222.08 570.6)">C0002</text>
<text x="227.8" y="570.6" font-size="6.6" text-anchor="end" stroke="#000" stroke-width="0.22" transform="rotate(-90 227.8 570.6)">C0001</text>
<text x="233.51" y="570.6" font-size="6.6" text-anchor="end" stroke="#000" stroke-width="0.22" transform="rotate(-90 233.51 570.6)">KN223-15</text>
<text x="239.23" y="570.6" font-size="6.6" text-anchor="end" stroke="#000" stroke-width="0.22" transform="rotate(-90 239.23 570.6)">U1317</text>
<text x="244.94" y="570.6" font-size="6.6" text-anchor="end" stroke="#000" stroke-width="0.22" transform="rotate(-90 244.94 570.6)">U1450</text>
<text x="250.66" y="570.6" font-size="6.6" text-anchor="end" stroke="#000" stroke-width="0.22" transform="rotate(-90 250.66 570.6)">1301C</text>
<text x="256.38" y="570.6" font-size="6.6" text-anchor="end" stroke="#000" stroke-width="0.22" transform="rotate(-90 256.38 570.6)">U1444</text>
<text x="262.09" y="570.6" font-size="6.6" text-anchor="end" stroke="#000" stroke-width="0.22" transform="rotate(-90 262.09 570.6)">M0060</text>
<text x="267.81" y="570.6" font-size="6.6" text-anchor="end" stroke="#000" stroke-width="0.22" transform="rotate(-90 267.81 570.6)">U1324</text>
<text x="273.52" y="570.6" font-size="6.6" text-anchor="end" stroke="#000" stroke-width="0.22" transform="rotate(-90 273.52 570.6)">C0007</text>
<text x="279.24" y="570.6" font-size="6.6" text-anchor="end" stroke="#000" stroke-width="0.22" transform="rotate(-90 279.24 570.6)">C0006</text>
<text transform="translate(292.5 444.6) scale(1.1 1)" font-size="18.3">H</text>
<rect x="335" y="475" width="212.1" height="100" fill="#eef6f0"/>
<rect x="473.5" y="490.3" width="73.6" height="17.6" fill="#fdbb7a"/>
<rect x="400.2" y="507.9" width="73.3" height="17.4" fill="#fdbb7a"/>
<rect x="400.2" y="525.3" width="73.3" height="17.1" fill="#fed98b"/>
<rect x="400.2" y="542.4" width="73.3" height="17.1" fill="#fee597"/>
<rect x="400.2" y="559.5" width="73.3" height="15.5" fill="#fed687"/>
<rect x="473.5" y="525.3" width="73.6" height="17.1" fill="#f03f29"/>
<rect x="473.5" y="542.4" width="73.6" height="17.1" fill="#e81d13"/>
<rect x="473.5" y="559.5" width="73.6" height="15.5" fill="#d90b0b"/>
<rect x="335" y="475" width="212.1" height="100" fill="none" stroke="#111" stroke-width="1"/>
<path d="M400.2 475 V575 M473.5 475 V575 M335 490.3 H547.1" fill="none" stroke="#111" stroke-width="1"/>
<text x="437.85" y="486.7" font-size="13.4" text-anchor="middle" font-weight="normal" fill="#000">Distance</text>
<text x="511.3" y="486.7" font-size="13.4" text-anchor="middle" font-weight="normal" fill="#000">Lithology</text>
<text x="336.3" y="503" font-size="13.4" text-anchor="start" font-weight="normal" fill="#000">Distance</text>
<text x="435.75" y="501.5" font-size="13.4" text-anchor="middle" font-weight="normal" fill="#000">-</text>
<text x="509" y="503.2" font-size="13.4" text-anchor="middle" font-weight="normal" fill="#000">0.287</text>
<text x="336.3" y="519.3" font-size="13.4" text-anchor="start" font-weight="normal" fill="#000">Lithology</text>
<text x="435.75" y="522.6" font-size="13.4" text-anchor="middle" font-weight="normal" fill="#000">0.287</text>
<text x="509" y="519" font-size="13.4" text-anchor="middle" font-weight="normal" fill="#000">-</text>
<text x="336.3" y="537" font-size="13.4" text-anchor="start" font-weight="normal" fill="#000">Archaea</text>
<text x="435.75" y="537.8" font-size="13.4" text-anchor="middle" font-weight="normal" fill="#000">0.236</text>
<text x="509" y="537.8" font-size="13.4" text-anchor="middle" font-weight="normal" fill="#000">0.484</text>
<text x="336.3" y="554" font-size="13.4" text-anchor="start" font-weight="normal" fill="#000">Bacteria</text>
<text x="435.75" y="555.4" font-size="13.4" text-anchor="middle" font-weight="normal" fill="#000">0.224</text>
<text x="509" y="555.4" font-size="13.4" text-anchor="middle" font-weight="normal" fill="#000">0.543</text>
<text x="336.3" y="572.8" font-size="13.4" text-anchor="start" font-weight="normal" fill="#000">Universal</text>
<text x="435.75" y="572.8" font-size="13.4" text-anchor="middle" font-weight="normal" fill="#000">0.239</text>
<text x="509" y="572.8" font-size="13.4" text-anchor="middle" font-weight="normal" fill="#000">0.581</text>
<rect x="636.9" y="451.9" width="155.6" height="150.9" fill="#fff" stroke="#444" stroke-width="1.1"/>
<circle cx="656.3" cy="466.3" r="3.55" fill="#4d4a4a"/>
<path d="M656.2 475.3 L651.7 483 L660.7 483 Z" fill="#4d4a4a"/>
<text x="663.3" y="471.2" font-size="13.4" text-anchor="start" font-weight="normal" fill="#000">Anoxic</text>
<text x="663.3" y="483.7" font-size="13.4" text-anchor="start" font-weight="normal" fill="#000">Oxic</text>
<text x="643.5" y="502" font-size="13.4" text-anchor="start" font-weight="bold" fill="#000">Expedition</text>
<circle cx="654.55" cy="513.9" r="3.4" fill="#0d3b9c"/>
<text x="661" y="518" font-size="13.4" text-anchor="start" font-weight="normal" fill="#000">Exp.301</text>
<circle cx="654.55" cy="526.6" r="3.4" fill="#9b9b9b"/>
<text x="661" y="531.2" font-size="13.4" text-anchor="start" font-weight="normal" fill="#000">Exp.307</text>
<circle cx="654.55" cy="539" r="3.4" fill="#ee1289"/>
<text x="661" y="543.8" font-size="13.4" text-anchor="start" font-weight="normal" fill="#000">Exp.308</text>
<circle cx="654.55" cy="551.4" r="3.4" fill="#92198b"/>
<text x="661" y="556.4" font-size="13.4" text-anchor="start" font-weight="normal" fill="#000">Exp.315</text>
<circle cx="654.55" cy="564" r="3.9" fill="#8a1a9a"/>
<text x="661" y="568.4" font-size="13.4" text-anchor="start" font-weight="normal" fill="#000">Exp.316</text>
<circle cx="654.55" cy="576.8" r="3.4" fill="#12b5f0"/>
<text x="661" y="581" font-size="13.4" text-anchor="start" font-weight="normal" fill="#000">Exp.329</text>
<circle cx="654.55" cy="589.2" r="3.4" fill="#3a6b45"/>
<text x="661" y="593" font-size="13.4" text-anchor="start" font-weight="normal" fill="#000">Exp.346</text>
<circle cx="725.5" cy="514.2" r="3.4" fill="#7b4518"/>
<text x="731.8" y="518.2" font-size="13.4" text-anchor="start" font-weight="normal" fill="#000">Exp.347</text>
<circle cx="725.5" cy="527" r="3.4" fill="#ff9bc5"/>
<text x="731.8" y="531.6" font-size="13.4" text-anchor="start" font-weight="normal" fill="#000">Exp.353</text>
<circle cx="725.5" cy="539.4" r="3.4" fill="#4c9a2f"/>
<text x="731.8" y="544" font-size="13.4" text-anchor="start" font-weight="normal" fill="#000">Exp.354</text>
<circle cx="725.5" cy="551.9" r="3.4" fill="#ff0d0d"/>
<text x="731.8" y="556.6" font-size="13.4" text-anchor="start" font-weight="normal" fill="#000">Exp.902</text>
<circle cx="725.5" cy="564.4" r="3.4" fill="#0fb22a"/>
<text x="731.8" y="568.8" font-size="13.4" text-anchor="start" font-weight="normal" fill="#000">KN223</text>
<circle cx="725.5" cy="576.9" r="3.4" fill="#000000"/>
<text x="731.8" y="581.2" font-size="13.4" text-anchor="start" font-weight="normal" fill="#000">KR0805</text>
<circle cx="725.5" cy="589.6" r="3.4" fill="#ffb012"/>
<text x="731.8" y="593.9" font-size="13.4" text-anchor="start" font-weight="normal" fill="#000">Leg 201</text>
</svg>
</body></html>
